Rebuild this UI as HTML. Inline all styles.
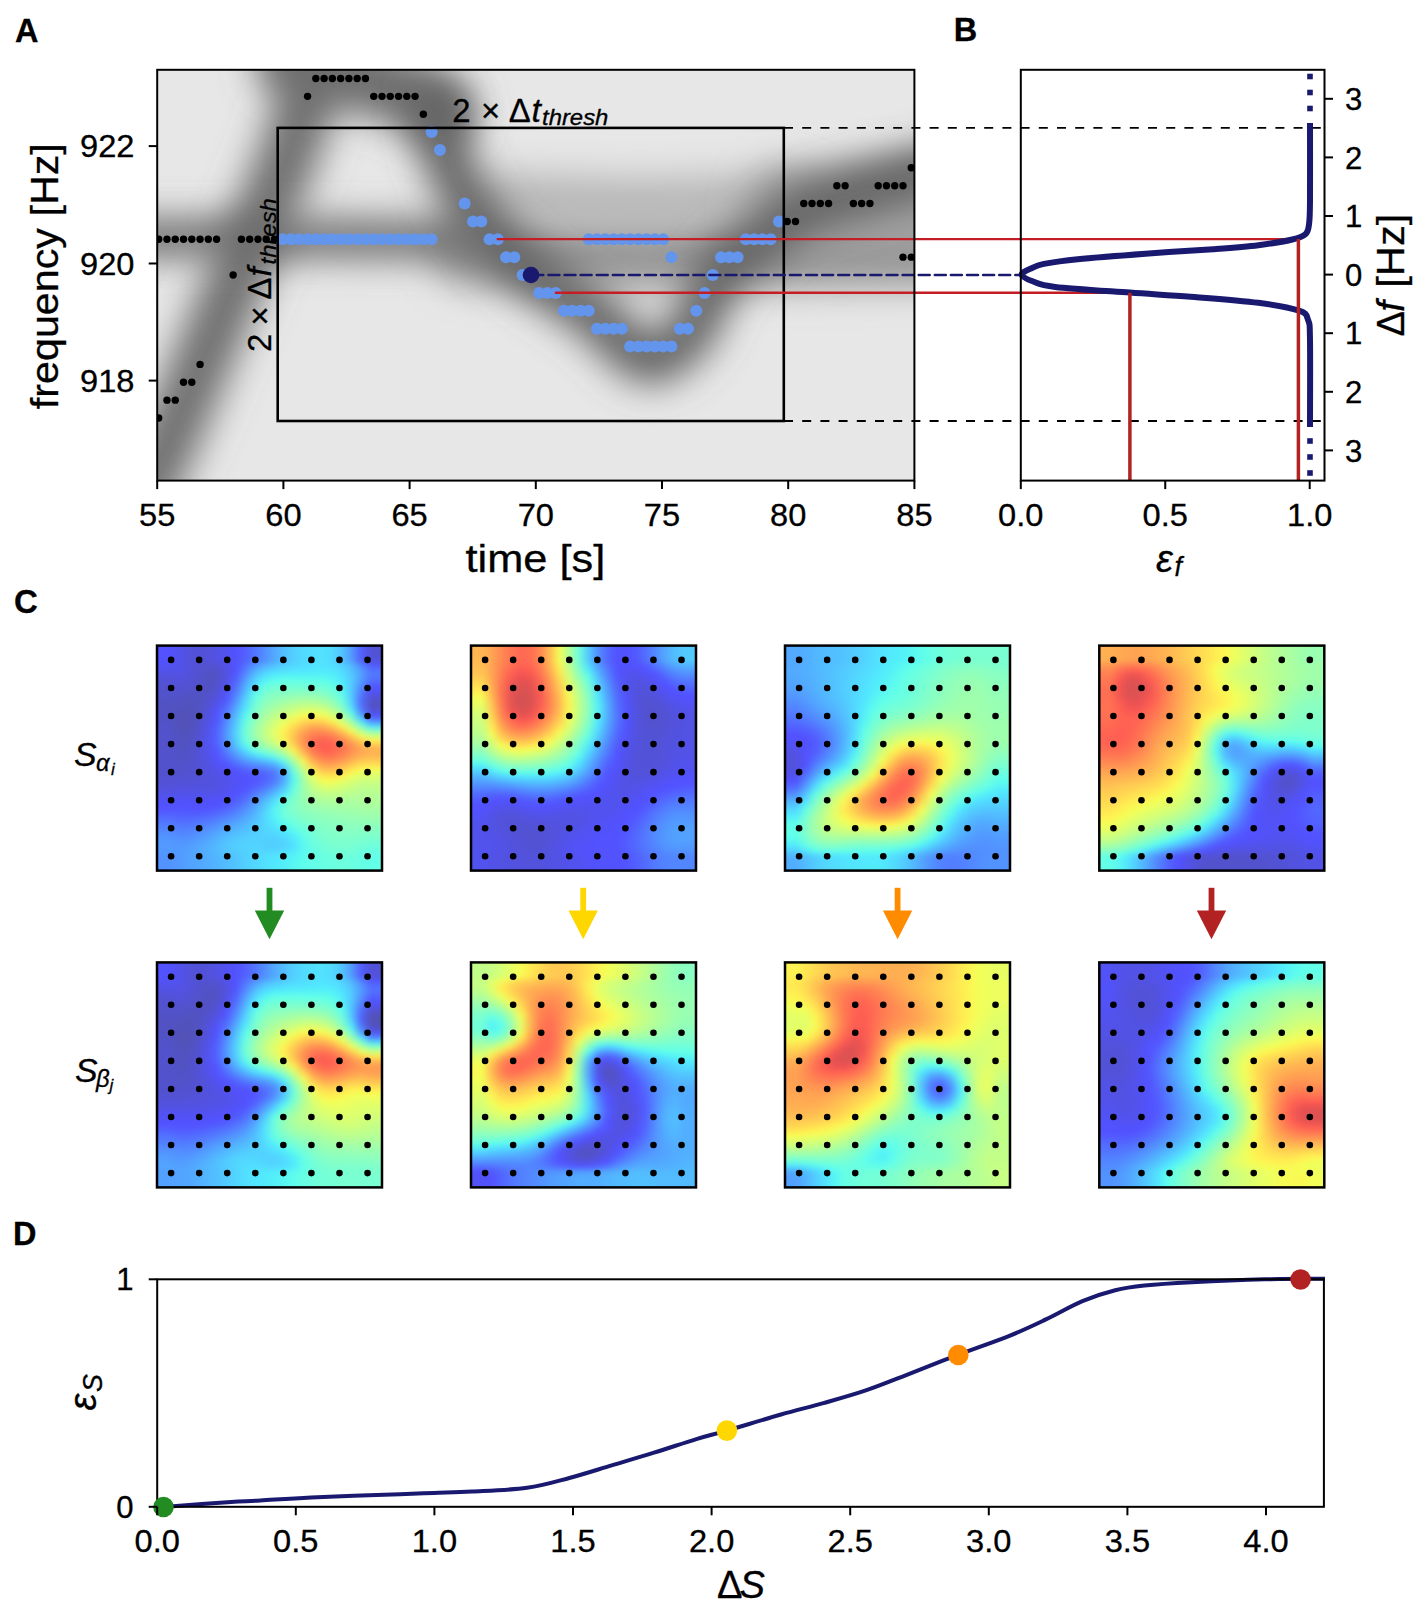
<!DOCTYPE html>
<html><head><meta charset="utf-8"><title>figure</title>
<style>
html,body{margin:0;padding:0;background:#fff;}
#wrap{position:relative;width:1417px;height:1610px;overflow:hidden;background:#fff;}
.hm{position:absolute;overflow:hidden;}
.hmi{position:absolute;filter:blur(2.5px);}
.hmi div{height:5px;}
svg{position:absolute;left:0;top:0;}
text{font-family:"Liberation Sans", sans-serif;stroke:#000;stroke-width:0.3px;}
</style></head><body><div id="wrap">
<div class="hm" style="left:157px;top:645.6px;width:225px;height:225px"><div class="hmi" style="left:-8px;top:-8px;width:241px"><div style="background:linear-gradient(90deg,#5252ff 0%,#5252ff 4%,#5252ff 8%,#5252ef 12%,#5252dd 16%,#5252d7 20%,#5252da 24%,#5252e3 28%,#5252f2 32%,#5252ff 36%,#5260ff 40%,#5275ff 44%,#528eff 48%,#52a9ff 52%,#52bfff 56%,#52cfff 60%,#52daff 64%,#52dfff 68%,#52e2ff 72%,#52daff 76%,#52c4ff 80%,#529bff 84%,#525dff 88%,#5252d7 92%,#5252d7 96%,#5252d7 100%)"></div><div style="background:linear-gradient(90deg,#5252ff 0%,#5252ff 4%,#5252ff 8%,#5252ef 12%,#5252dd 16%,#5252d7 20%,#5252da 24%,#5252e3 28%,#5252f2 32%,#5252ff 36%,#5260ff 40%,#5275ff 44%,#528eff 48%,#52a9ff 52%,#52bfff 56%,#52cfff 60%,#52daff 64%,#52dfff 68%,#52e2ff 72%,#52daff 76%,#52c4ff 80%,#529bff 84%,#525dff 88%,#5252d7 92%,#5252d7 96%,#5252d7 100%)"></div><div style="background:linear-gradient(90deg,#5252ff 0%,#5252ff 4%,#5252ff 8%,#5252ef 12%,#5252dd 16%,#5252d7 20%,#5252da 24%,#5252e3 28%,#5252f2 32%,#5252ff 36%,#5260ff 40%,#5275ff 44%,#528eff 48%,#52a9ff 52%,#52bfff 56%,#52cfff 60%,#52daff 64%,#52dfff 68%,#52e2ff 72%,#52daff 76%,#52c4ff 80%,#529bff 84%,#525dff 88%,#5252d7 92%,#5252d7 96%,#5252d7 100%)"></div><div style="background:linear-gradient(90deg,#5252ff 0%,#5252ff 4%,#5252ff 8%,#5252ef 12%,#5252dd 16%,#5252d7 20%,#5252da 24%,#5252e3 28%,#5252f2 32%,#5252ff 36%,#5260ff 40%,#5275ff 44%,#528eff 48%,#52a9ff 52%,#52bfff 56%,#52cfff 60%,#52daff 64%,#52dfff 68%,#52e2ff 72%,#52daff 76%,#52c4ff 80%,#529bff 84%,#525dff 88%,#5252d7 92%,#5252d7 96%,#5252d7 100%)"></div><div style="background:linear-gradient(90deg,#5252ff 0%,#5252ff 4%,#5252ff 8%,#5252ef 12%,#5252dd 16%,#5252d7 20%,#5252da 24%,#5252e3 28%,#5252f2 32%,#5252ff 36%,#5262ff 40%,#5278ff 44%,#5290ff 48%,#52a9ff 52%,#52bfff 56%,#52cfff 60%,#52daff 64%,#52dfff 68%,#52e2ff 72%,#52daff 76%,#52c4ff 80%,#529eff 84%,#5260ff 88%,#5252dd 92%,#5252dd 96%,#5252dd 100%)"></div><div style="background:linear-gradient(90deg,#5252f6 0%,#5252f6 4%,#5252f6 8%,#5252ec 12%,#5252e0 16%,#5252d4 20%,#5252d0 24%,#5252d4 28%,#5252e6 32%,#5252ff 36%,#5270ff 40%,#5293ff 44%,#52aeff 48%,#52c1ff 52%,#52cfff 56%,#52d7ff 60%,#52ddff 64%,#52e2ff 68%,#52e5ff 72%,#52dfff 76%,#52d2ff 80%,#52b7ff 84%,#5286ff 88%,#525aff 92%,#525aff 96%,#525aff 100%)"></div><div style="background:linear-gradient(90deg,#5252e9 0%,#5252e9 4%,#5252e9 8%,#5252e9 12%,#5252e0 16%,#5252d0 20%,#5252ca 24%,#5252ca 28%,#5252e0 32%,#5252ff 36%,#5280ff 40%,#52acff 44%,#52caff 48%,#52daff 52%,#52dfff 56%,#52e5ff 60%,#52e5ff 64%,#52e8fe 68%,#52eafc 72%,#52e8fe 76%,#52ddff 80%,#52c4ff 84%,#529bff 88%,#5273ff 92%,#5273ff 96%,#5273ff 100%)"></div><div style="background:linear-gradient(90deg,#5252e0 0%,#5252e0 4%,#5252e0 8%,#5252e3 12%,#5252dd 16%,#5252d0 20%,#5252c4 24%,#5252c7 28%,#5252e0 32%,#5257ff 36%,#528eff 40%,#52c1ff 44%,#52dfff 48%,#52edfa 52%,#55f2f6 56%,#55f2f6 60%,#55f2f6 64%,#55f2f6 68%,#55f2f6 72%,#53f0f8 76%,#52e2ff 80%,#52caff 84%,#52a1ff 88%,#5278ff 92%,#5278ff 96%,#5278ff 100%)"></div><div style="background:linear-gradient(90deg,#5252d7 0%,#5252d7 4%,#5252d7 8%,#5252dd 12%,#5252d7 16%,#5252cd 20%,#5252c4 24%,#5252c7 28%,#5252e3 32%,#5260ff 36%,#529eff 40%,#52d4ff 44%,#55f2f6 48%,#60ffeb 52%,#63ffe8 56%,#63ffe8 60%,#63ffe8 64%,#60ffeb 68%,#60ffeb 72%,#5af8f1 76%,#52eafc 80%,#52ccff 84%,#529bff 88%,#526dff 92%,#526dff 96%,#526dff 100%)"></div><div style="background:linear-gradient(90deg,#5252d0 0%,#5252d0 4%,#5252d0 8%,#5252d7 12%,#5252d4 16%,#5252ca 20%,#5252c4 24%,#5252ca 28%,#5252e9 32%,#526aff 36%,#52acff 40%,#52e5ff 44%,#65ffe6 48%,#6effdd 52%,#72ffd9 56%,#72ffd9 60%,#70ffdb 64%,#70ffdb 68%,#6effdd 72%,#65ffe6 76%,#53f0f8 80%,#52caff 84%,#5290ff 88%,#525aff 92%,#525aff 96%,#525aff 100%)"></div><div style="background:linear-gradient(90deg,#5252cd 0%,#5252cd 4%,#5252cd 8%,#5252d0 12%,#5252cd 16%,#5252c7 20%,#5252c4 24%,#5252d4 28%,#5252f6 32%,#5275ff 36%,#52b9ff 40%,#55f2f6 44%,#72ffd9 48%,#7dffce 52%,#7fffcc 56%,#81ffca 60%,#81ffca 64%,#81ffca 68%,#7dffce 72%,#70ffdb 76%,#5af8f1 80%,#52caff 84%,#5280ff 88%,#5252f9 92%,#5252f9 96%,#5252f9 100%)"></div><div style="background:linear-gradient(90deg,#5252ca 0%,#5252ca 4%,#5252ca 8%,#5252ca 12%,#5252c7 16%,#5252c4 20%,#5252c7 24%,#5252da 28%,#5252ff 32%,#5283ff 36%,#52c7ff 40%,#60ffeb 44%,#7dffce 48%,#8affc1 52%,#8effbd 56%,#93ffb8 60%,#95ffb6 64%,#95ffb6 68%,#8effbd 72%,#7fffcc 76%,#63ffe8 80%,#52caff 84%,#5275ff 88%,#5252e0 92%,#5252e0 96%,#5252e0 100%)"></div><div style="background:linear-gradient(90deg,#5252c7 0%,#5252c7 4%,#5252c7 8%,#5252c4 12%,#5252c1 16%,#5252c1 20%,#5252cd 24%,#5252e6 28%,#5257ff 32%,#5290ff 36%,#52d4ff 40%,#6bffe0 44%,#88ffc3 48%,#95ffb6 52%,#9effad 56%,#a7ffa4 60%,#abffa0 64%,#abffa0 68%,#a4ffa7 72%,#91ffba 76%,#6effdd 80%,#52cfff 84%,#526dff 88%,#5252cd 92%,#5252cd 96%,#5252cd 100%)"></div><div style="background:linear-gradient(90deg,#5252c4 0%,#5252c4 4%,#5252c4 8%,#5252c1 12%,#5252be 16%,#5252c1 20%,#5252d0 24%,#5252ef 28%,#5265ff 32%,#529eff 36%,#52dfff 40%,#74ffd7 44%,#91ffba 48%,#a2ffa9 52%,#afff9c 56%,#baff91 60%,#c3ff88 64%,#c3ff88 68%,#bdff8e 72%,#a7ffa4 76%,#7fffcc 80%,#52daff 84%,#5270ff 88%,#5252c7 92%,#5252c7 96%,#5252c7 100%)"></div><div style="background:linear-gradient(90deg,#5252c4 0%,#5252c4 4%,#5252c4 8%,#5252be 12%,#5252b8 16%,#5252c1 20%,#5252d7 24%,#5252fc 28%,#5270ff 32%,#52acff 36%,#52edfa 40%,#7dffce 44%,#9cffaf 48%,#afff9c 52%,#bfff8c 56%,#ceff7d 60%,#dbff70 64%,#e0ff6b 68%,#d7ff74 72%,#bfff8c 76%,#95ffb6 80%,#53f0f8 84%,#5280ff 88%,#5252d7 92%,#5252d7 96%,#5252d7 100%)"></div><div style="background:linear-gradient(90deg,#5252c7 0%,#5252c7 4%,#5252c7 8%,#5252bb 12%,#5252b8 16%,#5252c1 20%,#5252dd 24%,#5252ff 28%,#527dff 32%,#52b9ff 36%,#5af8f1 40%,#88ffc3 44%,#a7ffa4 48%,#bfff8c 52%,#d0ff7b 56%,#e4ff67 60%,#f6fd55 64%,#fcf552 68%,#f3ff58 72%,#dbff70 76%,#b2ff99 80%,#70ffdb 84%,#52a4ff 88%,#5252ff 92%,#5252ff 96%,#5252ff 100%)"></div><div style="background:linear-gradient(90deg,#5252c7 0%,#5252c7 4%,#5252c7 8%,#5252bb 12%,#5252b8 16%,#5252c4 20%,#5252e0 24%,#5255ff 28%,#5286ff 32%,#52c4ff 36%,#63ffe8 40%,#91ffba 44%,#b2ff99 48%,#ccff7f 52%,#e4ff67 56%,#fcf552 60%,#ffdf52 64%,#ffd552 68%,#ffda52 72%,#fcf552 76%,#d2ff79 80%,#95ffb6 84%,#52daff 88%,#5283ff 92%,#5283ff 96%,#5283ff 100%)"></div><div style="background:linear-gradient(90deg,#5252ca 0%,#5252ca 4%,#5252ca 8%,#5252bb 12%,#5252b8 16%,#5252c7 20%,#5252e6 24%,#525aff 28%,#528eff 32%,#52ccff 36%,#6bffe0 40%,#99ffb2 44%,#bdff8e 48%,#d9ff72 52%,#f3ff58 56%,#ffdf52 60%,#ffc352 64%,#ffb152 68%,#ffb452 72%,#ffcd52 76%,#faf852 80%,#c3ff88 84%,#79ffd2 88%,#52d2ff 92%,#52d2ff 96%,#52d2ff 100%)"></div><div style="background:linear-gradient(90deg,#5252ca 0%,#5252ca 4%,#5252ca 8%,#5252be 12%,#5252bb 16%,#5252ca 20%,#5252e9 24%,#5260ff 28%,#5293ff 32%,#52d2ff 36%,#70ffdb 40%,#9effad 44%,#c3ff88 48%,#e0ff6b 52%,#fef352 56%,#ffcd52 60%,#ffaa52 64%,#ff9352 68%,#ff9352 72%,#ffa552 76%,#ffcb52 80%,#f1ff5a 84%,#b4ff97 88%,#84ffc8 92%,#84ffc8 96%,#84ffc8 100%)"></div><div style="background:linear-gradient(90deg,#5252cd 0%,#5252cd 4%,#5252cd 8%,#5252c1 12%,#5252be 16%,#5252cd 20%,#5252ec 24%,#5260ff 28%,#5296ff 32%,#52d2ff 36%,#70ffdb 40%,#9effad 44%,#c1ff8a 48%,#e2ff69 52%,#ffee52 56%,#ffc352 60%,#ff9852 64%,#ff7d52 68%,#ff7552 72%,#ff8452 76%,#ffa252 80%,#ffd052 84%,#edff5e 88%,#c8ff84 92%,#c8ff84 96%,#c8ff84 100%)"></div><div style="background:linear-gradient(90deg,#5252cd 0%,#5252cd 4%,#5252cd 8%,#5252c1 12%,#5252c1 16%,#5252d0 20%,#5252ef 24%,#5260ff 28%,#5293ff 32%,#52ccff 36%,#69ffe2 40%,#95ffb6 44%,#b8ff93 48%,#d7ff74 52%,#faf852 56%,#ffc652 60%,#ff9352 64%,#ff6d52 68%,#ff6352 72%,#ff6b52 76%,#ff8452 80%,#ffaa52 84%,#ffd252 88%,#fff052 92%,#fff052 96%,#fff052 100%)"></div><div style="background:linear-gradient(90deg,#5252cd 0%,#5252cd 4%,#5252cd 8%,#5252c4 12%,#5252c4 16%,#5252d0 20%,#5252ef 24%,#525dff 28%,#528bff 32%,#52c1ff 36%,#5af8f1 40%,#84ffc8 44%,#a2ffa9 48%,#bfff8c 52%,#e4ff67 56%,#ffd552 60%,#ff9852 64%,#ff6d52 68%,#fc5c52 72%,#ff6152 76%,#ff7552 80%,#ff9152 84%,#ffb152 88%,#ffc352 92%,#ffc352 96%,#ffc352 100%)"></div><div style="background:linear-gradient(90deg,#5252cd 0%,#5252cd 4%,#5252cd 8%,#5252c7 12%,#5252c7 16%,#5252d4 20%,#5252ec 24%,#5255ff 28%,#527dff 32%,#52aeff 36%,#52ddff 40%,#67ffe4 44%,#81ffca 48%,#9cffaf 52%,#c3ff88 56%,#fcf552 60%,#ffaf52 64%,#ff7852 68%,#ff6152 72%,#ff6352 76%,#ff7552 80%,#ff8e52 84%,#ffa752 88%,#ffb152 92%,#ffb152 96%,#ffb152 100%)"></div><div style="background:linear-gradient(90deg,#5252cd 0%,#5252cd 4%,#5252cd 8%,#5252c7 12%,#5252c7 16%,#5252d4 20%,#5252e9 24%,#5252ff 28%,#5270ff 32%,#5296ff 36%,#52bcff 40%,#52ddff 44%,#58f5f3 48%,#70ffdb 52%,#97ffb4 56%,#d7ff74 60%,#ffcd52 64%,#ff8e52 68%,#ff7252 72%,#ff7252 76%,#ff8252 80%,#ff9b52 84%,#ffaf52 88%,#ffb652 92%,#ffb652 96%,#ffb652 100%)"></div><div style="background:linear-gradient(90deg,#5252cd 0%,#5252cd 4%,#5252cd 8%,#5252c7 12%,#5252ca 16%,#5252d4 20%,#5252e3 24%,#5252fc 28%,#5260ff 32%,#527dff 36%,#529bff 40%,#52b1ff 44%,#52c1ff 48%,#52daff 52%,#69ffe2 56%,#afff9c 60%,#fef352 64%,#ffac52 68%,#ff8c52 72%,#ff8952 76%,#ff9852 80%,#ffb152 84%,#ffc652 88%,#ffcb52 92%,#ffcb52 96%,#ffcb52 100%)"></div><div style="background:linear-gradient(90deg,#5252cd 0%,#5252cd 4%,#5252cd 8%,#5252ca 12%,#5252cd 16%,#5252d4 20%,#5252e0 24%,#5252f2 28%,#5252ff 32%,#5265ff 36%,#527bff 40%,#5288ff 44%,#5293ff 48%,#52a6ff 52%,#52daff 56%,#8affc1 60%,#ddff6e 64%,#ffcb52 68%,#ffa752 72%,#ffa552 76%,#ffb452 80%,#ffcd52 84%,#ffe152 88%,#ffe452 92%,#ffe452 96%,#ffe452 100%)"></div><div style="background:linear-gradient(90deg,#5252cd 0%,#5252cd 4%,#5252cd 8%,#5252cd 12%,#5252cd 16%,#5252d4 20%,#5252dd 24%,#5252e9 28%,#5252f9 32%,#5252ff 36%,#5260ff 40%,#526aff 44%,#5270ff 48%,#5283ff 52%,#52b4ff 56%,#6effdd 60%,#c1ff8a 64%,#ffeb52 68%,#ffc652 72%,#ffc352 76%,#ffd252 80%,#ffeb52 84%,#f6fd55 88%,#f1ff5a 92%,#f1ff5a 96%,#f1ff5a 100%)"></div><div style="background:linear-gradient(90deg,#5252d0 0%,#5252d0 4%,#5252d0 8%,#5252d0 12%,#5252d4 16%,#5252d7 20%,#5252dd 24%,#5252e3 28%,#5252ef 32%,#5252fc 36%,#5252ff 40%,#525aff 44%,#5260ff 48%,#5273ff 52%,#52a4ff 56%,#5efded 60%,#adff9e 64%,#edff5e 68%,#ffe452 72%,#ffdf52 76%,#ffee52 80%,#efff5c 84%,#e0ff6b 88%,#ddff6e 92%,#ddff6e 96%,#ddff6e 100%)"></div><div style="background:linear-gradient(90deg,#5252d4 0%,#5252d4 4%,#5252d4 8%,#5252d7 12%,#5252d7 16%,#5252da 20%,#5252dd 24%,#5252e3 28%,#5252e9 32%,#5252f6 36%,#5252ff 40%,#5255ff 44%,#5262ff 48%,#5278ff 52%,#52a9ff 56%,#5af8f1 60%,#a2ffa9 64%,#d9ff72 68%,#f6fd55 72%,#f8fa53 76%,#edff5e 80%,#dbff70 84%,#d0ff7b 88%,#ceff7d 92%,#ceff7d 96%,#ceff7d 100%)"></div><div style="background:linear-gradient(90deg,#5252da 0%,#5252da 4%,#5252da 8%,#5252dd 12%,#5252dd 16%,#5252dd 20%,#5252e0 24%,#5252e3 28%,#5252e9 32%,#5252f6 36%,#5252ff 40%,#525dff 44%,#5270ff 48%,#528bff 52%,#52bcff 56%,#60ffeb 60%,#9cffaf 64%,#caff81 68%,#e0ff6b 72%,#e2ff69 76%,#d9ff72 80%,#ceff7d 84%,#c3ff88 88%,#c3ff88 92%,#c3ff88 96%,#c3ff88 100%)"></div><div style="background:linear-gradient(90deg,#5252e0 0%,#5252e0 4%,#5252e0 8%,#5252e3 12%,#5252e6 16%,#5252e3 20%,#5252e3 24%,#5252e6 28%,#5252ef 32%,#5252fc 36%,#5257ff 40%,#526dff 44%,#5286ff 48%,#52a9ff 52%,#52d4ff 56%,#6bffe0 60%,#99ffb2 64%,#bdff8e 68%,#ceff7d 72%,#d0ff7b 76%,#caff81 80%,#c1ff8a 84%,#baff91 88%,#baff91 92%,#baff91 96%,#baff91 100%)"></div><div style="background:linear-gradient(90deg,#5252ec 0%,#5252ec 4%,#5252ec 8%,#5252ec 12%,#5252ec 16%,#5252ec 20%,#5252ec 24%,#5252ef 28%,#5252f9 32%,#5252ff 36%,#5265ff 40%,#5280ff 44%,#52a1ff 48%,#52c4ff 52%,#53f0f8 56%,#76ffd5 60%,#99ffb2 64%,#b2ff99 68%,#bdff8e 72%,#bfff8c 76%,#bdff8e 80%,#b6ff95 84%,#b4ff97 88%,#b6ff95 92%,#b6ff95 96%,#b6ff95 100%)"></div><div style="background:linear-gradient(90deg,#5252f6 0%,#5252f6 4%,#5252f6 8%,#5252f9 12%,#5252f9 16%,#5252f6 20%,#5252f6 24%,#5252fc 28%,#5252ff 32%,#525dff 36%,#5273ff 40%,#5293ff 44%,#52b7ff 48%,#52dfff 52%,#65ffe6 56%,#81ffca 60%,#97ffb4 64%,#a7ffa4 68%,#afff9c 72%,#b2ff99 76%,#afff9c 80%,#adff9e 84%,#afff9c 88%,#b2ff99 92%,#b2ff99 96%,#b2ff99 100%)"></div><div style="background:linear-gradient(90deg,#5252ff 0%,#5252ff 4%,#5252ff 8%,#5252ff 12%,#5252ff 16%,#5252ff 20%,#5252ff 24%,#5252ff 28%,#525aff 32%,#526aff 36%,#5283ff 40%,#52a4ff 44%,#52c7ff 48%,#52edfa 52%,#6effdd 56%,#84ffc8 60%,#93ffb8 64%,#9effad 68%,#a4ffa7 72%,#a7ffa4 76%,#a7ffa4 80%,#a7ffa4 84%,#a9ffa2 88%,#abffa0 92%,#abffa0 96%,#abffa0 100%)"></div><div style="background:linear-gradient(90deg,#5257ff 0%,#5257ff 4%,#5257ff 8%,#5257ff 12%,#5255ff 16%,#5255ff 20%,#5257ff 24%,#5260ff 28%,#526aff 32%,#527bff 36%,#5293ff 40%,#52aeff 44%,#52d2ff 48%,#58f5f3 52%,#70ffdb 56%,#81ffca 60%,#8cffbf 64%,#95ffb6 68%,#99ffb2 72%,#9cffaf 76%,#9effad 80%,#a0ffab 84%,#a2ffa9 88%,#a4ffa7 92%,#a4ffa7 96%,#a4ffa7 100%)"></div><div style="background:linear-gradient(90deg,#5265ff 0%,#5265ff 4%,#5265ff 8%,#5262ff 12%,#5262ff 16%,#5262ff 20%,#5268ff 24%,#5270ff 28%,#527bff 32%,#528bff 36%,#52a1ff 40%,#52b9ff 44%,#52d7ff 48%,#55f2f6 52%,#6bffe0 56%,#7bffd0 60%,#86ffc5 64%,#8cffbf 68%,#91ffba 72%,#95ffb6 76%,#97ffb4 80%,#99ffb2 84%,#9cffaf 88%,#9effad 92%,#9effad 96%,#9effad 100%)"></div><div style="background:linear-gradient(90deg,#5273ff 0%,#5273ff 4%,#5273ff 8%,#526dff 12%,#526dff 16%,#5270ff 20%,#5275ff 24%,#5280ff 28%,#528eff 32%,#529bff 36%,#52aeff 40%,#52c1ff 44%,#52d7ff 48%,#52edfa 52%,#63ffe8 56%,#72ffd9 60%,#7dffce 64%,#86ffc5 68%,#8affc1 72%,#8effbd 76%,#91ffba 80%,#93ffb8 84%,#95ffb6 88%,#95ffb6 92%,#95ffb6 96%,#95ffb6 100%)"></div><div style="background:linear-gradient(90deg,#527dff 0%,#527dff 4%,#527dff 8%,#5278ff 12%,#5278ff 16%,#527bff 20%,#5286ff 24%,#5290ff 28%,#529eff 32%,#52acff 36%,#52b9ff 40%,#52c7ff 44%,#52d7ff 48%,#52e5ff 52%,#58f5f3 56%,#67ffe4 60%,#74ffd7 64%,#7fffcc 68%,#86ffc5 72%,#8affc1 76%,#8cffbf 80%,#8effbd 84%,#8effbd 88%,#8effbd 92%,#8effbd 96%,#8effbd 100%)"></div><div style="background:linear-gradient(90deg,#5288ff 0%,#5288ff 4%,#5288ff 8%,#5283ff 12%,#5283ff 16%,#5288ff 20%,#5293ff 24%,#529eff 28%,#52acff 32%,#52b9ff 36%,#52c1ff 40%,#52ccff 44%,#52d4ff 48%,#52ddff 52%,#52e8fe 56%,#5cfbef 60%,#6bffe0 64%,#79ffd2 68%,#81ffca 72%,#86ffc5 76%,#88ffc3 80%,#88ffc3 84%,#88ffc3 88%,#86ffc5 92%,#86ffc5 96%,#86ffc5 100%)"></div><div style="background:linear-gradient(90deg,#5293ff 0%,#5293ff 4%,#5293ff 8%,#528bff 12%,#528bff 16%,#5293ff 20%,#529eff 24%,#52acff 28%,#52b9ff 32%,#52c4ff 36%,#52caff 40%,#52cfff 44%,#52d2ff 48%,#52d4ff 52%,#52ddff 56%,#52edfa 60%,#63ffe8 64%,#72ffd9 68%,#7dffce 72%,#81ffca 76%,#84ffc8 80%,#84ffc8 84%,#81ffca 88%,#7fffcc 92%,#7fffcc 96%,#7fffcc 100%)"></div><div style="background:linear-gradient(90deg,#5299ff 0%,#5299ff 4%,#5299ff 8%,#5293ff 12%,#5293ff 16%,#529bff 20%,#52a6ff 24%,#52b4ff 28%,#52c1ff 32%,#52caff 36%,#52cfff 40%,#52d2ff 44%,#52cfff 48%,#52cfff 52%,#52d4ff 56%,#52e5ff 60%,#5cfbef 64%,#6effdd 68%,#79ffd2 72%,#7dffce 76%,#7fffcc 80%,#7dffce 84%,#7bffd0 88%,#76ffd5 92%,#76ffd5 96%,#76ffd5 100%)"></div><div style="background:linear-gradient(90deg,#529bff 0%,#529bff 4%,#529bff 8%,#5299ff 12%,#529bff 16%,#52a4ff 20%,#52aeff 24%,#52b9ff 28%,#52c7ff 32%,#52cfff 36%,#52d2ff 40%,#52d4ff 44%,#52cfff 48%,#52cfff 52%,#52d2ff 56%,#52e2ff 60%,#5af8f1 64%,#69ffe2 68%,#74ffd7 72%,#79ffd2 76%,#7bffd0 80%,#79ffd2 84%,#74ffd7 88%,#70ffdb 92%,#70ffdb 96%,#70ffdb 100%)"></div><div style="background:linear-gradient(90deg,#5299ff 0%,#5299ff 4%,#5299ff 8%,#529bff 12%,#529eff 16%,#52a6ff 20%,#52b1ff 24%,#52b9ff 28%,#52c4ff 32%,#52ccff 36%,#52d2ff 40%,#52d4ff 44%,#52d4ff 48%,#52d4ff 52%,#52daff 56%,#52e5ff 60%,#5af8f1 64%,#65ffe6 68%,#70ffdb 72%,#74ffd7 76%,#76ffd5 80%,#74ffd7 84%,#6effdd 88%,#69ffe2 92%,#69ffe2 96%,#69ffe2 100%)"></div><div style="background:linear-gradient(90deg,#5293ff 0%,#5293ff 4%,#5293ff 8%,#5299ff 12%,#52a1ff 16%,#52a6ff 20%,#52aeff 24%,#52b7ff 28%,#52bfff 32%,#52c7ff 36%,#52cfff 40%,#52d7ff 44%,#52ddff 48%,#52e2ff 52%,#52eafc 56%,#55f2f6 60%,#5cfbef 64%,#63ffe8 68%,#69ffe2 72%,#6effdd 76%,#70ffdb 80%,#6effdd 84%,#69ffe2 88%,#63ffe8 92%,#63ffe8 96%,#63ffe8 100%)"></div><div style="background:linear-gradient(90deg,#5293ff 0%,#5293ff 4%,#5293ff 8%,#5299ff 12%,#52a1ff 16%,#52a6ff 20%,#52acff 24%,#52b4ff 28%,#52bcff 32%,#52c4ff 36%,#52cfff 40%,#52d7ff 44%,#52dfff 48%,#52e8fe 52%,#52edfa 56%,#58f5f3 60%,#5efded 64%,#63ffe8 68%,#67ffe4 72%,#6bffe0 76%,#6effdd 80%,#6bffe0 84%,#67ffe4 88%,#63ffe8 92%,#63ffe8 96%,#63ffe8 100%)"></div><div style="background:linear-gradient(90deg,#5293ff 0%,#5293ff 4%,#5293ff 8%,#5299ff 12%,#52a1ff 16%,#52a6ff 20%,#52acff 24%,#52b4ff 28%,#52bcff 32%,#52c4ff 36%,#52cfff 40%,#52d7ff 44%,#52dfff 48%,#52e8fe 52%,#52edfa 56%,#58f5f3 60%,#5efded 64%,#63ffe8 68%,#67ffe4 72%,#6bffe0 76%,#6effdd 80%,#6bffe0 84%,#67ffe4 88%,#63ffe8 92%,#63ffe8 96%,#63ffe8 100%)"></div><div style="background:linear-gradient(90deg,#5293ff 0%,#5293ff 4%,#5293ff 8%,#5299ff 12%,#52a1ff 16%,#52a6ff 20%,#52acff 24%,#52b4ff 28%,#52bcff 32%,#52c4ff 36%,#52cfff 40%,#52d7ff 44%,#52dfff 48%,#52e8fe 52%,#52edfa 56%,#58f5f3 60%,#5efded 64%,#63ffe8 68%,#67ffe4 72%,#6bffe0 76%,#6effdd 80%,#6bffe0 84%,#67ffe4 88%,#63ffe8 92%,#63ffe8 96%,#63ffe8 100%)"></div><div style="background:linear-gradient(90deg,#5293ff 0%,#5293ff 4%,#5293ff 8%,#5299ff 12%,#52a1ff 16%,#52a6ff 20%,#52acff 24%,#52b4ff 28%,#52bcff 32%,#52c4ff 36%,#52cfff 40%,#52d7ff 44%,#52dfff 48%,#52e8fe 52%,#52edfa 56%,#58f5f3 60%,#5efded 64%,#63ffe8 68%,#67ffe4 72%,#6bffe0 76%,#6effdd 80%,#6bffe0 84%,#67ffe4 88%,#63ffe8 92%,#63ffe8 96%,#63ffe8 100%)"></div><div style="background:linear-gradient(90deg,#5293ff 0%,#5293ff 4%,#5293ff 8%,#5299ff 12%,#52a1ff 16%,#52a6ff 20%,#52acff 24%,#52b4ff 28%,#52bcff 32%,#52c4ff 36%,#52cfff 40%,#52d7ff 44%,#52dfff 48%,#52e8fe 52%,#52edfa 56%,#58f5f3 60%,#5efded 64%,#63ffe8 68%,#67ffe4 72%,#6bffe0 76%,#6effdd 80%,#6bffe0 84%,#67ffe4 88%,#63ffe8 92%,#63ffe8 96%,#63ffe8 100%)"></div></div></div>
<div class="hm" style="left:471px;top:645.6px;width:225px;height:225px"><div class="hmi" style="left:-8px;top:-8px;width:241px"><div style="background:linear-gradient(90deg,#ffb652 0%,#ffb652 4%,#ffb652 8%,#ffa552 12%,#ff8952 16%,#ff7552 20%,#ff6852 24%,#ff6d52 28%,#ff8752 32%,#ffb952 36%,#f6fd55 40%,#b2ff99 44%,#70ffdb 48%,#52caff 52%,#5290ff 56%,#5268ff 60%,#5252ff 64%,#5252ff 68%,#525aff 72%,#5270ff 76%,#528bff 80%,#52a9ff 84%,#52bfff 88%,#52caff 92%,#52caff 96%,#52caff 100%)"></div><div style="background:linear-gradient(90deg,#ffb652 0%,#ffb652 4%,#ffb652 8%,#ffa552 12%,#ff8952 16%,#ff7552 20%,#ff6852 24%,#ff6d52 28%,#ff8752 32%,#ffb952 36%,#f6fd55 40%,#b2ff99 44%,#70ffdb 48%,#52caff 52%,#5290ff 56%,#5268ff 60%,#5252ff 64%,#5252ff 68%,#525aff 72%,#5270ff 76%,#528bff 80%,#52a9ff 84%,#52bfff 88%,#52caff 92%,#52caff 96%,#52caff 100%)"></div><div style="background:linear-gradient(90deg,#ffb652 0%,#ffb652 4%,#ffb652 8%,#ffa552 12%,#ff8952 16%,#ff7552 20%,#ff6852 24%,#ff6d52 28%,#ff8752 32%,#ffb952 36%,#f6fd55 40%,#b2ff99 44%,#70ffdb 48%,#52caff 52%,#5290ff 56%,#5268ff 60%,#5252ff 64%,#5252ff 68%,#525aff 72%,#5270ff 76%,#528bff 80%,#52a9ff 84%,#52bfff 88%,#52caff 92%,#52caff 96%,#52caff 100%)"></div><div style="background:linear-gradient(90deg,#ffb652 0%,#ffb652 4%,#ffb652 8%,#ffa552 12%,#ff8952 16%,#ff7552 20%,#ff6852 24%,#ff6d52 28%,#ff8752 32%,#ffb952 36%,#f6fd55 40%,#b2ff99 44%,#70ffdb 48%,#52caff 52%,#5290ff 56%,#5268ff 60%,#5252ff 64%,#5252ff 68%,#525aff 72%,#5270ff 76%,#528bff 80%,#52a9ff 84%,#52bfff 88%,#52caff 92%,#52caff 96%,#52caff 100%)"></div><div style="background:linear-gradient(90deg,#ffb952 0%,#ffb952 4%,#ffb952 8%,#ffa552 12%,#ff8952 16%,#ff7252 20%,#ff6852 24%,#ff6d52 28%,#ff8752 32%,#ffb952 36%,#f6fd55 40%,#b4ff97 44%,#72ffd9 48%,#52ccff 52%,#5290ff 56%,#5268ff 60%,#5252ff 64%,#5252ff 68%,#5257ff 72%,#526dff 76%,#528bff 80%,#52a6ff 84%,#52bfff 88%,#52caff 92%,#52caff 96%,#52caff 100%)"></div><div style="background:linear-gradient(90deg,#ffbc52 0%,#ffbc52 4%,#ffbc52 8%,#ffa252 12%,#ff8452 16%,#ff6d52 20%,#ff6152 24%,#ff6652 28%,#ff7f52 32%,#ffb152 36%,#fef352 40%,#bdff8e 44%,#7dffce 48%,#52ddff 52%,#52a1ff 56%,#5270ff 60%,#5252ff 64%,#5252fc 68%,#5252ff 72%,#525aff 76%,#5275ff 80%,#5290ff 84%,#52a9ff 88%,#52b1ff 92%,#52b1ff 96%,#52b1ff 100%)"></div><div style="background:linear-gradient(90deg,#ffc152 0%,#ffc152 4%,#ffc152 8%,#ffa552 12%,#ff7f52 16%,#ff6652 20%,#f95952 24%,#ff5e52 28%,#ff7852 32%,#ffaa52 36%,#ffeb52 40%,#c8ff84 44%,#8affc1 48%,#52edfa 52%,#52aeff 56%,#527bff 60%,#5252ff 64%,#5252f6 68%,#5252f2 72%,#5252ff 76%,#5262ff 80%,#527dff 84%,#5293ff 88%,#529eff 92%,#529eff 96%,#529eff 100%)"></div><div style="background:linear-gradient(90deg,#ffc852 0%,#ffc852 4%,#ffc852 8%,#ffa552 12%,#ff7d52 16%,#ff5e52 20%,#ef5252 24%,#f65752 28%,#ff7052 32%,#ffa052 36%,#ffe152 40%,#d2ff79 44%,#95ffb6 48%,#5efded 52%,#52bcff 56%,#5283ff 60%,#5255ff 64%,#5252ef 68%,#5252e9 72%,#5252f6 76%,#5252ff 80%,#526aff 84%,#5280ff 88%,#528bff 92%,#528bff 96%,#528bff 100%)"></div><div style="background:linear-gradient(90deg,#ffd252 0%,#ffd252 4%,#ffd252 8%,#ffa752 12%,#ff7852 16%,#f65752 20%,#e65252 24%,#ec5252 28%,#ff6852 32%,#ff9852 36%,#ffd752 40%,#dbff70 44%,#a2ffa9 48%,#69ffe2 52%,#52caff 56%,#528eff 60%,#525aff 64%,#5252ef 68%,#5252e3 72%,#5252e9 76%,#5252fc 80%,#525aff 84%,#5270ff 88%,#5278ff 92%,#5278ff 96%,#5278ff 100%)"></div><div style="background:linear-gradient(90deg,#ffdf52 0%,#ffdf52 4%,#ffdf52 8%,#ffac52 12%,#ff7552 16%,#ef5252 20%,#dd5252 24%,#e35252 28%,#ff6352 32%,#ff9152 36%,#ffcd52 40%,#e6ff65 44%,#adff9e 48%,#74ffd7 52%,#52d4ff 56%,#5296ff 60%,#5260ff 64%,#5252ef 68%,#5252e0 72%,#5252e0 76%,#5252ef 80%,#5252ff 84%,#5260ff 88%,#526aff 92%,#526aff 96%,#526aff 100%)"></div><div style="background:linear-gradient(90deg,#ffeb52 0%,#ffeb52 4%,#ffeb52 8%,#ffb152 12%,#ff7252 16%,#e95252 20%,#d75252 24%,#dd5252 28%,#ff5e52 32%,#ff8c52 36%,#ffc652 40%,#efff5c 44%,#b6ff95 48%,#7dffce 52%,#52dfff 56%,#529eff 60%,#5265ff 64%,#5252f2 68%,#5252dd 72%,#5252da 76%,#5252e6 80%,#5252f9 84%,#5252ff 88%,#525dff 92%,#525dff 96%,#525dff 100%)"></div><div style="background:linear-gradient(90deg,#faf852 0%,#faf852 4%,#faf852 8%,#ffb652 12%,#ff7252 16%,#e65252 20%,#d45252 24%,#da5252 28%,#f95952 32%,#ff8752 36%,#ffbe52 40%,#f6fd55 44%,#bdff8e 48%,#86ffc5 52%,#52e8fe 56%,#52a4ff 60%,#5268ff 64%,#5252f6 68%,#5252dd 72%,#5252d7 76%,#5252dd 80%,#5252ec 84%,#5252ff 88%,#5252ff 92%,#5252ff 96%,#5252ff 100%)"></div><div style="background:linear-gradient(90deg,#efff5c 0%,#efff5c 4%,#efff5c 8%,#ffbe52 12%,#ff7552 16%,#e65252 20%,#d05252 24%,#da5252 28%,#f95952 32%,#ff8452 36%,#ffbc52 40%,#faf852 44%,#c3ff88 48%,#8affc1 52%,#52edfa 56%,#52a9ff 60%,#526dff 64%,#5252f9 68%,#5252dd 72%,#5252d4 76%,#5252d7 80%,#5252e3 84%,#5252f2 88%,#5252fc 92%,#5252fc 96%,#5252fc 100%)"></div><div style="background:linear-gradient(90deg,#e6ff65 0%,#e6ff65 4%,#e6ff65 8%,#ffc652 12%,#ff7852 16%,#e95252 20%,#d45252 24%,#dd5252 28%,#fc5c52 32%,#ff8452 36%,#ffb952 40%,#fcf552 44%,#c5ff86 48%,#8cffbf 52%,#55f2f6 56%,#52aeff 60%,#5270ff 64%,#5252fc 68%,#5252dd 72%,#5252d0 76%,#5252d4 80%,#5252dd 84%,#5252e9 88%,#5252f2 92%,#5252f2 96%,#5252f2 100%)"></div><div style="background:linear-gradient(90deg,#dbff70 0%,#dbff70 4%,#dbff70 8%,#ffcd52 12%,#ff7f52 16%,#ef5252 20%,#da5252 24%,#e35252 28%,#ff6152 32%,#ff8952 36%,#ffbc52 40%,#faf852 44%,#c5ff86 48%,#8cffbf 52%,#55f2f6 56%,#52aeff 60%,#5273ff 64%,#5252ff 68%,#5252e0 72%,#5252d0 76%,#5252d0 80%,#5252d7 84%,#5252e3 88%,#5252ec 92%,#5252ec 96%,#5252ec 100%)"></div><div style="background:linear-gradient(90deg,#d2ff79 0%,#d2ff79 4%,#d2ff79 8%,#ffd552 12%,#ff8752 16%,#fc5c52 20%,#e65252 24%,#ef5252 28%,#ff6b52 32%,#ff9352 36%,#ffc352 40%,#f6fd55 44%,#c1ff8a 48%,#8affc1 52%,#53f0f8 56%,#52aeff 60%,#5275ff 64%,#5252ff 68%,#5252e0 72%,#5252d0 76%,#5252cd 80%,#5252d4 84%,#5252e0 88%,#5252e6 92%,#5252e6 96%,#5252e6 100%)"></div><div style="background:linear-gradient(90deg,#ccff7f 0%,#ccff7f 4%,#ccff7f 8%,#ffdf52 12%,#ff9352 16%,#ff6852 20%,#f95952 24%,#ff6152 28%,#ff7a52 32%,#ffa052 36%,#ffd052 40%,#edff5e 44%,#baff91 48%,#86ffc5 52%,#52eafc 56%,#52acff 60%,#5273ff 64%,#5252ff 68%,#5252e0 72%,#5252d0 76%,#5252d0 80%,#5252d4 84%,#5252dd 88%,#5252e3 92%,#5252e3 96%,#5252e3 100%)"></div><div style="background:linear-gradient(90deg,#c8ff84 0%,#c8ff84 4%,#c8ff84 8%,#ffeb52 12%,#ffa252 16%,#ff7a52 20%,#ff6b52 24%,#ff7252 28%,#ff8c52 32%,#ffb152 36%,#ffdf52 40%,#e2ff69 44%,#b2ff99 48%,#7dffce 52%,#52e5ff 56%,#52a6ff 60%,#5270ff 64%,#5252ff 68%,#5252e0 72%,#5252d4 76%,#5252d0 80%,#5252d7 84%,#5252dd 88%,#5252e3 92%,#5252e3 96%,#5252e3 100%)"></div><div style="background:linear-gradient(90deg,#c1ff8a 0%,#c1ff8a 4%,#c1ff8a 8%,#fcf552 12%,#ffb452 16%,#ff8e52 20%,#ff8252 24%,#ff8c52 28%,#ffa252 32%,#ffc652 36%,#fef352 40%,#d5ff76 44%,#a4ffa7 48%,#74ffd7 52%,#52daff 56%,#529eff 60%,#526aff 64%,#5252fc 68%,#5252e0 72%,#5252d4 76%,#5252d4 80%,#5252d7 84%,#5252e0 88%,#5252e3 92%,#5252e3 96%,#5252e3 100%)"></div><div style="background:linear-gradient(90deg,#b8ff93 0%,#b8ff93 4%,#b8ff93 8%,#efff5c 12%,#ffc852 16%,#ffa752 20%,#ff9d52 24%,#ffa552 28%,#ffbc52 32%,#ffdc52 36%,#edff5e 40%,#c3ff88 44%,#97ffb4 48%,#67ffe4 52%,#52cfff 56%,#5296ff 60%,#5265ff 64%,#5252f9 68%,#5252e0 72%,#5252d4 76%,#5252d4 80%,#5252da 84%,#5252e0 88%,#5252e3 92%,#5252e3 96%,#5252e3 100%)"></div><div style="background:linear-gradient(90deg,#afff9c 0%,#afff9c 4%,#afff9c 8%,#e0ff6b 12%,#ffe152 16%,#ffc352 20%,#ffbc52 24%,#ffc352 28%,#ffd752 32%,#faf852 36%,#d9ff72 40%,#b4ff97 44%,#88ffc3 48%,#5cfbef 52%,#52c1ff 56%,#528eff 60%,#5260ff 64%,#5252f6 68%,#5252dd 72%,#5252d7 76%,#5252d7 80%,#5252dd 84%,#5252e3 88%,#5252e6 92%,#5252e6 96%,#5252e6 100%)"></div><div style="background:linear-gradient(90deg,#a2ffa9 0%,#a2ffa9 4%,#a2ffa9 8%,#ccff7f 12%,#f6fd55 16%,#ffe452 20%,#ffdc52 24%,#ffe452 28%,#fcf552 32%,#e4ff67 36%,#c5ff86 40%,#a2ffa9 44%,#7bffd0 48%,#52eafc 52%,#52b7ff 56%,#5283ff 60%,#525aff 64%,#5252ef 68%,#5252dd 72%,#5252d7 76%,#5252d7 80%,#5252dd 84%,#5252e3 88%,#5252e6 92%,#5252e6 96%,#5252e6 100%)"></div><div style="background:linear-gradient(90deg,#91ffba 0%,#91ffba 4%,#91ffba 8%,#b8ff93 12%,#dbff70 16%,#efff5c 20%,#f3ff58 24%,#efff5c 28%,#e0ff6b 32%,#ccff7f 36%,#b2ff99 40%,#93ffb8 44%,#6effdd 48%,#52ddff 52%,#52a9ff 56%,#527bff 60%,#5255ff 64%,#5252ec 68%,#5252dd 72%,#5252d7 76%,#5252d7 80%,#5252dd 84%,#5252e3 88%,#5252e6 92%,#5252e6 96%,#5252e6 100%)"></div><div style="background:linear-gradient(90deg,#7fffcc 0%,#7fffcc 4%,#7fffcc 8%,#a0ffab 12%,#bfff8c 16%,#d0ff7b 20%,#d5ff76 24%,#ceff7d 28%,#c3ff88 32%,#b4ff97 36%,#9effad 40%,#84ffc8 44%,#60ffeb 48%,#52cfff 52%,#529eff 56%,#5273ff 60%,#5252ff 64%,#5252e9 68%,#5252da 72%,#5252d7 76%,#5252d7 80%,#5252dd 84%,#5252e6 88%,#5252e9 92%,#5252e9 96%,#5252e9 100%)"></div><div style="background:linear-gradient(90deg,#69ffe2 0%,#69ffe2 4%,#69ffe2 8%,#86ffc5 12%,#a0ffab 16%,#afff9c 20%,#b4ff97 24%,#afff9c 28%,#a7ffa4 32%,#99ffb2 36%,#8affc1 40%,#72ffd9 44%,#52edfa 48%,#52bfff 52%,#5290ff 56%,#5268ff 60%,#5252ff 64%,#5252e6 68%,#5252da 72%,#5252d7 76%,#5252da 80%,#5252e0 84%,#5252e6 88%,#5252ec 92%,#5252ec 96%,#5252ec 100%)"></div><div style="background:linear-gradient(90deg,#53f0f8 0%,#53f0f8 4%,#53f0f8 8%,#6bffe0 12%,#81ffca 16%,#8effbd 20%,#91ffba 24%,#8effbd 28%,#8affc1 32%,#81ffca 36%,#74ffd7 40%,#60ffeb 44%,#52ddff 48%,#52b1ff 52%,#5286ff 56%,#5260ff 60%,#5252fc 64%,#5252e6 68%,#5252da 72%,#5252d7 76%,#5252da 80%,#5252e0 84%,#5252e9 88%,#5252ef 92%,#5252ef 96%,#5252ef 100%)"></div><div style="background:linear-gradient(90deg,#52d4ff 0%,#52d4ff 4%,#52d4ff 8%,#52edfa 12%,#63ffe8 16%,#6effdd 20%,#70ffdb 24%,#70ffdb 28%,#6effdd 32%,#67ffe4 36%,#5efded 40%,#52eafc 44%,#52caff 48%,#52a1ff 52%,#5278ff 56%,#5257ff 60%,#5252f6 64%,#5252e3 68%,#5252da 72%,#5252da 76%,#5252dd 80%,#5252e6 84%,#5252ec 88%,#5252f2 92%,#5252f2 96%,#5252f2 100%)"></div><div style="background:linear-gradient(90deg,#52b9ff 0%,#52b9ff 4%,#52b9ff 8%,#52ccff 12%,#52ddff 16%,#52e8fe 20%,#52edfa 24%,#53f0f8 28%,#52edfa 32%,#52eafc 36%,#52dfff 40%,#52cfff 44%,#52b1ff 48%,#5290ff 52%,#526dff 56%,#5252ff 60%,#5252f2 64%,#5252e3 68%,#5252dd 72%,#5252dd 76%,#5252e3 80%,#5252ec 84%,#5252f6 88%,#5252fc 92%,#5252fc 96%,#5252fc 100%)"></div><div style="background:linear-gradient(90deg,#52a4ff 0%,#52a4ff 4%,#52a4ff 8%,#52acff 12%,#52b9ff 16%,#52c1ff 20%,#52c7ff 24%,#52ccff 28%,#52ccff 32%,#52caff 36%,#52c1ff 40%,#52b4ff 44%,#529bff 48%,#527dff 52%,#5262ff 56%,#5252ff 60%,#5252ef 64%,#5252e3 68%,#5252e0 72%,#5252e6 76%,#5252ec 80%,#5252f6 84%,#5252ff 88%,#5252ff 92%,#5252ff 96%,#5252ff 100%)"></div><div style="background:linear-gradient(90deg,#528eff 0%,#528eff 4%,#528eff 8%,#5290ff 12%,#5296ff 16%,#529eff 20%,#52a6ff 24%,#52acff 28%,#52aeff 32%,#52acff 36%,#52a4ff 40%,#5296ff 44%,#5283ff 48%,#526dff 52%,#5257ff 56%,#5252fc 60%,#5252ec 64%,#5252e6 68%,#5252e6 72%,#5252ec 76%,#5252f6 80%,#5252ff 84%,#5252ff 88%,#5257ff 92%,#5257ff 96%,#5257ff 100%)"></div><div style="background:linear-gradient(90deg,#527bff 0%,#527bff 4%,#527bff 8%,#5275ff 12%,#5278ff 16%,#527dff 20%,#5286ff 24%,#528eff 28%,#5290ff 32%,#528eff 36%,#5286ff 40%,#527bff 44%,#526aff 48%,#525dff 52%,#5252ff 56%,#5252f6 60%,#5252ec 64%,#5252e6 68%,#5252ec 72%,#5252f6 76%,#5252ff 80%,#5255ff 84%,#525dff 88%,#5260ff 92%,#5260ff 96%,#5260ff 100%)"></div><div style="background:linear-gradient(90deg,#5268ff 0%,#5268ff 4%,#5268ff 8%,#5260ff 12%,#525dff 16%,#5262ff 20%,#526aff 24%,#5273ff 28%,#5278ff 32%,#5275ff 36%,#526dff 40%,#5262ff 44%,#5257ff 48%,#5252ff 52%,#5252fc 56%,#5252f2 60%,#5252ec 64%,#5252e9 68%,#5252f2 72%,#5252ff 76%,#5255ff 80%,#5260ff 84%,#526aff 88%,#526dff 92%,#526dff 96%,#526dff 100%)"></div><div style="background:linear-gradient(90deg,#525aff 0%,#525aff 4%,#525aff 8%,#5252ff 12%,#5252ff 16%,#5252ff 20%,#5255ff 24%,#525dff 28%,#5262ff 32%,#5260ff 36%,#5257ff 40%,#5252ff 44%,#5252ff 48%,#5252f9 52%,#5252f6 56%,#5252ef 60%,#5252ec 64%,#5252ef 68%,#5252f9 72%,#5252ff 76%,#5260ff 80%,#526dff 84%,#5275ff 88%,#5278ff 92%,#5278ff 96%,#5278ff 100%)"></div><div style="background:linear-gradient(90deg,#5252ff 0%,#5252ff 4%,#5252ff 8%,#5252f9 12%,#5252ef 16%,#5252ef 20%,#5252f9 24%,#5252ff 28%,#5252ff 32%,#5252ff 36%,#5252fc 40%,#5252f6 44%,#5252f2 48%,#5252f2 52%,#5252f2 56%,#5252ef 60%,#5252ef 64%,#5252f6 68%,#5252ff 72%,#5257ff 76%,#5268ff 80%,#5278ff 84%,#5280ff 88%,#5280ff 92%,#5280ff 96%,#5280ff 100%)"></div><div style="background:linear-gradient(90deg,#5252ff 0%,#5252ff 4%,#5252ff 8%,#5252ef 12%,#5252e3 16%,#5252e3 20%,#5252e9 24%,#5252f2 28%,#5252f6 32%,#5252f6 36%,#5252ef 40%,#5252e9 44%,#5252e9 48%,#5252ec 52%,#5252ef 56%,#5252ef 60%,#5252f2 64%,#5252fc 68%,#5252ff 72%,#5260ff 76%,#5273ff 80%,#5280ff 84%,#528bff 88%,#528bff 92%,#528bff 96%,#528bff 100%)"></div><div style="background:linear-gradient(90deg,#5252f9 0%,#5252f9 4%,#5252f9 8%,#5252e9 12%,#5252dd 16%,#5252dd 20%,#5252e0 24%,#5252e6 28%,#5252e9 32%,#5252e9 36%,#5252e6 40%,#5252e6 44%,#5252e6 48%,#5252ec 52%,#5252ef 56%,#5252f2 60%,#5252f9 64%,#5252ff 68%,#5257ff 72%,#5268ff 76%,#527bff 80%,#5288ff 84%,#5293ff 88%,#5293ff 92%,#5293ff 96%,#5293ff 100%)"></div><div style="background:linear-gradient(90deg,#5252f2 0%,#5252f2 4%,#5252f2 8%,#5252e6 12%,#5252da 16%,#5252d7 20%,#5252da 24%,#5252dd 28%,#5252e0 32%,#5252e0 36%,#5252e3 40%,#5252e3 44%,#5252e6 48%,#5252ec 52%,#5252f2 56%,#5252f6 60%,#5252fc 64%,#5252ff 68%,#525dff 72%,#5270ff 76%,#5280ff 80%,#5290ff 84%,#5299ff 88%,#5299ff 92%,#5299ff 96%,#5299ff 100%)"></div><div style="background:linear-gradient(90deg,#5252ef 0%,#5252ef 4%,#5252ef 8%,#5252e6 12%,#5252dd 16%,#5252d7 20%,#5252d4 24%,#5252d7 28%,#5252da 32%,#5252dd 36%,#5252e0 40%,#5252e3 44%,#5252e9 48%,#5252ef 52%,#5252f6 56%,#5252f9 60%,#5252ff 64%,#5255ff 68%,#5262ff 72%,#5275ff 76%,#5286ff 80%,#5296ff 84%,#529eff 88%,#529eff 92%,#529eff 96%,#529eff 100%)"></div><div style="background:linear-gradient(90deg,#5252ec 0%,#5252ec 4%,#5252ec 8%,#5252e6 12%,#5252dd 16%,#5252d7 20%,#5252d4 24%,#5252d4 28%,#5252d4 32%,#5252da 36%,#5252e0 40%,#5252e6 44%,#5252ec 48%,#5252f2 52%,#5252f9 56%,#5252fc 60%,#5252ff 64%,#5257ff 68%,#5268ff 72%,#5278ff 76%,#528bff 80%,#5299ff 84%,#52a1ff 88%,#52a1ff 92%,#52a1ff 96%,#52a1ff 100%)"></div><div style="background:linear-gradient(90deg,#5252ec 0%,#5252ec 4%,#5252ec 8%,#5252e9 12%,#5252e3 16%,#5252da 20%,#5252d4 24%,#5252d0 28%,#5252d4 32%,#5252da 36%,#5252e3 40%,#5252ec 44%,#5252f2 48%,#5252f6 52%,#5252fc 56%,#5252ff 60%,#5252ff 64%,#525aff 68%,#526aff 72%,#527bff 76%,#528bff 80%,#5299ff 84%,#52a1ff 88%,#52a1ff 92%,#52a1ff 96%,#52a1ff 100%)"></div><div style="background:linear-gradient(90deg,#5252ec 0%,#5252ec 4%,#5252ec 8%,#5252ec 12%,#5252e6 16%,#5252dd 20%,#5252d7 24%,#5252d4 28%,#5252d4 32%,#5252da 36%,#5252e6 40%,#5252ef 44%,#5252f6 48%,#5252f9 52%,#5252ff 56%,#5252ff 60%,#5252ff 64%,#525dff 68%,#526aff 72%,#527bff 76%,#528bff 80%,#5299ff 84%,#52a1ff 88%,#52a1ff 92%,#52a1ff 96%,#52a1ff 100%)"></div><div style="background:linear-gradient(90deg,#5252ec 0%,#5252ec 4%,#5252ec 8%,#5252ec 12%,#5252e6 16%,#5252e0 20%,#5252da 24%,#5252d4 28%,#5252d4 32%,#5252dd 36%,#5252e6 40%,#5252f2 44%,#5252f9 48%,#5252fc 52%,#5252ff 56%,#5252ff 60%,#5252ff 64%,#525dff 68%,#526aff 72%,#527bff 76%,#5288ff 80%,#5296ff 84%,#529bff 88%,#529bff 92%,#529bff 96%,#529bff 100%)"></div><div style="background:linear-gradient(90deg,#5252ef 0%,#5252ef 4%,#5252ef 8%,#5252ec 12%,#5252e6 16%,#5252e0 20%,#5252da 24%,#5252d7 28%,#5252d7 32%,#5252e0 36%,#5252e9 40%,#5252f2 44%,#5252f9 48%,#5252fc 52%,#5252ff 56%,#5252ff 60%,#5252ff 64%,#525aff 68%,#5268ff 72%,#5275ff 76%,#5283ff 80%,#528eff 84%,#5293ff 88%,#5293ff 92%,#5293ff 96%,#5293ff 100%)"></div><div style="background:linear-gradient(90deg,#5252ef 0%,#5252ef 4%,#5252ef 8%,#5252e9 12%,#5252e3 16%,#5252e0 20%,#5252dd 24%,#5252da 28%,#5252dd 32%,#5252e0 36%,#5252e9 40%,#5252ef 44%,#5252f6 48%,#5252fc 52%,#5252ff 56%,#5252ff 60%,#5252ff 64%,#5257ff 68%,#5262ff 72%,#5270ff 76%,#527bff 80%,#5286ff 84%,#5288ff 88%,#5288ff 92%,#5288ff 96%,#5288ff 100%)"></div><div style="background:linear-gradient(90deg,#5252ef 0%,#5252ef 4%,#5252ef 8%,#5252e9 12%,#5252e3 16%,#5252e0 20%,#5252dd 24%,#5252dd 28%,#5252dd 32%,#5252e3 36%,#5252e6 40%,#5252ec 44%,#5252f2 48%,#5252f9 52%,#5252ff 56%,#5252ff 60%,#5252ff 64%,#5255ff 68%,#5260ff 72%,#526dff 76%,#527bff 80%,#5283ff 84%,#5286ff 88%,#5286ff 92%,#5286ff 96%,#5286ff 100%)"></div><div style="background:linear-gradient(90deg,#5252ef 0%,#5252ef 4%,#5252ef 8%,#5252e9 12%,#5252e3 16%,#5252e0 20%,#5252dd 24%,#5252dd 28%,#5252dd 32%,#5252e3 36%,#5252e6 40%,#5252ec 44%,#5252f2 48%,#5252f9 52%,#5252ff 56%,#5252ff 60%,#5252ff 64%,#5255ff 68%,#5260ff 72%,#526dff 76%,#527bff 80%,#5283ff 84%,#5286ff 88%,#5286ff 92%,#5286ff 96%,#5286ff 100%)"></div><div style="background:linear-gradient(90deg,#5252ef 0%,#5252ef 4%,#5252ef 8%,#5252e9 12%,#5252e3 16%,#5252e0 20%,#5252dd 24%,#5252dd 28%,#5252dd 32%,#5252e3 36%,#5252e6 40%,#5252ec 44%,#5252f2 48%,#5252f9 52%,#5252ff 56%,#5252ff 60%,#5252ff 64%,#5255ff 68%,#5260ff 72%,#526dff 76%,#527bff 80%,#5283ff 84%,#5286ff 88%,#5286ff 92%,#5286ff 96%,#5286ff 100%)"></div><div style="background:linear-gradient(90deg,#5252ef 0%,#5252ef 4%,#5252ef 8%,#5252e9 12%,#5252e3 16%,#5252e0 20%,#5252dd 24%,#5252dd 28%,#5252dd 32%,#5252e3 36%,#5252e6 40%,#5252ec 44%,#5252f2 48%,#5252f9 52%,#5252ff 56%,#5252ff 60%,#5252ff 64%,#5255ff 68%,#5260ff 72%,#526dff 76%,#527bff 80%,#5283ff 84%,#5286ff 88%,#5286ff 92%,#5286ff 96%,#5286ff 100%)"></div><div style="background:linear-gradient(90deg,#5252ef 0%,#5252ef 4%,#5252ef 8%,#5252e9 12%,#5252e3 16%,#5252e0 20%,#5252dd 24%,#5252dd 28%,#5252dd 32%,#5252e3 36%,#5252e6 40%,#5252ec 44%,#5252f2 48%,#5252f9 52%,#5252ff 56%,#5252ff 60%,#5252ff 64%,#5255ff 68%,#5260ff 72%,#526dff 76%,#527bff 80%,#5283ff 84%,#5286ff 88%,#5286ff 92%,#5286ff 96%,#5286ff 100%)"></div></div></div>
<div class="hm" style="left:785px;top:645.6px;width:225px;height:225px"><div class="hmi" style="left:-8px;top:-8px;width:241px"><div style="background:linear-gradient(90deg,#52a9ff 0%,#52a9ff 4%,#52a9ff 8%,#52aeff 12%,#52b7ff 16%,#52bcff 20%,#52bfff 24%,#52c4ff 28%,#52caff 32%,#52d2ff 36%,#52ddff 40%,#52e5ff 44%,#52eafc 48%,#53f0f8 52%,#58f5f3 56%,#5efded 60%,#67ffe4 64%,#6effdd 68%,#74ffd7 72%,#76ffd5 76%,#79ffd2 80%,#79ffd2 84%,#79ffd2 88%,#79ffd2 92%,#79ffd2 96%,#79ffd2 100%)"></div><div style="background:linear-gradient(90deg,#52a9ff 0%,#52a9ff 4%,#52a9ff 8%,#52aeff 12%,#52b7ff 16%,#52bcff 20%,#52bfff 24%,#52c4ff 28%,#52caff 32%,#52d2ff 36%,#52ddff 40%,#52e5ff 44%,#52eafc 48%,#53f0f8 52%,#58f5f3 56%,#5efded 60%,#67ffe4 64%,#6effdd 68%,#74ffd7 72%,#76ffd5 76%,#79ffd2 80%,#79ffd2 84%,#79ffd2 88%,#79ffd2 92%,#79ffd2 96%,#79ffd2 100%)"></div><div style="background:linear-gradient(90deg,#52a9ff 0%,#52a9ff 4%,#52a9ff 8%,#52aeff 12%,#52b7ff 16%,#52bcff 20%,#52bfff 24%,#52c4ff 28%,#52caff 32%,#52d2ff 36%,#52ddff 40%,#52e5ff 44%,#52eafc 48%,#53f0f8 52%,#58f5f3 56%,#5efded 60%,#67ffe4 64%,#6effdd 68%,#74ffd7 72%,#76ffd5 76%,#79ffd2 80%,#79ffd2 84%,#79ffd2 88%,#79ffd2 92%,#79ffd2 96%,#79ffd2 100%)"></div><div style="background:linear-gradient(90deg,#52a9ff 0%,#52a9ff 4%,#52a9ff 8%,#52aeff 12%,#52b7ff 16%,#52bcff 20%,#52bfff 24%,#52c4ff 28%,#52caff 32%,#52d2ff 36%,#52ddff 40%,#52e5ff 44%,#52eafc 48%,#53f0f8 52%,#58f5f3 56%,#5efded 60%,#67ffe4 64%,#6effdd 68%,#74ffd7 72%,#76ffd5 76%,#79ffd2 80%,#79ffd2 84%,#79ffd2 88%,#79ffd2 92%,#79ffd2 96%,#79ffd2 100%)"></div><div style="background:linear-gradient(90deg,#52a9ff 0%,#52a9ff 4%,#52a9ff 8%,#52aeff 12%,#52b7ff 16%,#52bcff 20%,#52bfff 24%,#52c4ff 28%,#52caff 32%,#52d2ff 36%,#52ddff 40%,#52e8fe 44%,#52edfa 48%,#53f0f8 52%,#58f5f3 56%,#5efded 60%,#67ffe4 64%,#70ffdb 68%,#74ffd7 72%,#79ffd2 76%,#7bffd0 80%,#7bffd0 84%,#7bffd0 88%,#79ffd2 92%,#79ffd2 96%,#79ffd2 100%)"></div><div style="background:linear-gradient(90deg,#52a9ff 0%,#52a9ff 4%,#52a9ff 8%,#52aeff 12%,#52b7ff 16%,#52bcff 20%,#52c1ff 24%,#52c7ff 28%,#52cfff 32%,#52d7ff 36%,#52dfff 40%,#52e8fe 44%,#53f0f8 48%,#5af8f1 52%,#60ffeb 56%,#67ffe4 60%,#70ffdb 64%,#79ffd2 68%,#7fffcc 72%,#81ffca 76%,#84ffc8 80%,#84ffc8 84%,#81ffca 88%,#7fffcc 92%,#7fffcc 96%,#7fffcc 100%)"></div><div style="background:linear-gradient(90deg,#52acff 0%,#52acff 4%,#52acff 8%,#52aeff 12%,#52b7ff 16%,#52bcff 20%,#52c4ff 24%,#52caff 28%,#52d2ff 32%,#52daff 36%,#52e2ff 40%,#52eafc 44%,#55f2f6 48%,#5cfbef 52%,#65ffe6 56%,#6effdd 60%,#76ffd5 64%,#7fffcc 68%,#86ffc5 72%,#8affc1 76%,#8cffbf 80%,#8cffbf 84%,#88ffc3 88%,#84ffc8 92%,#84ffc8 96%,#84ffc8 100%)"></div><div style="background:linear-gradient(90deg,#52a9ff 0%,#52a9ff 4%,#52a9ff 8%,#52aeff 12%,#52b4ff 16%,#52bcff 20%,#52c4ff 24%,#52ccff 28%,#52d4ff 32%,#52ddff 36%,#52e5ff 40%,#52edfa 44%,#58f5f3 48%,#60ffeb 52%,#69ffe2 56%,#72ffd9 60%,#7bffd0 64%,#84ffc8 68%,#8affc1 72%,#91ffba 76%,#93ffb8 80%,#91ffba 84%,#8cffbf 88%,#88ffc3 92%,#88ffc3 96%,#88ffc3 100%)"></div><div style="background:linear-gradient(90deg,#52a6ff 0%,#52a6ff 4%,#52a6ff 8%,#52acff 12%,#52b4ff 16%,#52bcff 20%,#52c4ff 24%,#52ccff 28%,#52d7ff 32%,#52dfff 36%,#52e8fe 40%,#53f0f8 44%,#5af8f1 48%,#63ffe8 52%,#6bffe0 56%,#74ffd7 60%,#7dffce 64%,#88ffc3 68%,#8effbd 72%,#93ffb8 76%,#97ffb4 80%,#95ffb6 84%,#91ffba 88%,#8affc1 92%,#8affc1 96%,#8affc1 100%)"></div><div style="background:linear-gradient(90deg,#52a4ff 0%,#52a4ff 4%,#52a4ff 8%,#52a9ff 12%,#52b1ff 16%,#52bcff 20%,#52c4ff 24%,#52cfff 28%,#52d7ff 32%,#52dfff 36%,#52eafc 40%,#55f2f6 44%,#5cfbef 48%,#65ffe6 52%,#6effdd 56%,#76ffd5 60%,#81ffca 64%,#8affc1 68%,#91ffba 72%,#97ffb4 76%,#99ffb2 80%,#99ffb2 84%,#93ffb8 88%,#8effbd 92%,#8effbd 96%,#8effbd 100%)"></div><div style="background:linear-gradient(90deg,#529eff 0%,#529eff 4%,#529eff 8%,#52a6ff 12%,#52b1ff 16%,#52b9ff 20%,#52c4ff 24%,#52ccff 28%,#52d7ff 32%,#52e2ff 36%,#52edfa 40%,#58f5f3 44%,#60ffeb 48%,#67ffe4 52%,#70ffdb 56%,#79ffd2 60%,#84ffc8 64%,#8cffbf 68%,#93ffb8 72%,#99ffb2 76%,#9cffaf 80%,#9cffaf 84%,#95ffb6 88%,#91ffba 92%,#91ffba 96%,#91ffba 100%)"></div><div style="background:linear-gradient(90deg,#5299ff 0%,#5299ff 4%,#5299ff 8%,#52a1ff 12%,#52acff 16%,#52b7ff 20%,#52c1ff 24%,#52ccff 28%,#52d7ff 32%,#52e2ff 36%,#53f0f8 40%,#5cfbef 44%,#63ffe8 48%,#69ffe2 52%,#72ffd9 56%,#7bffd0 60%,#86ffc5 64%,#8effbd 68%,#95ffb6 72%,#9cffaf 76%,#9effad 80%,#9cffaf 84%,#97ffb4 88%,#93ffb8 92%,#93ffb8 96%,#93ffb8 100%)"></div><div style="background:linear-gradient(90deg,#5290ff 0%,#5290ff 4%,#5290ff 8%,#529bff 12%,#52a9ff 16%,#52b4ff 20%,#52bfff 24%,#52caff 28%,#52d7ff 32%,#52e5ff 36%,#58f5f3 40%,#60ffeb 44%,#69ffe2 48%,#6effdd 52%,#76ffd5 56%,#7fffcc 60%,#88ffc3 64%,#91ffba 68%,#99ffb2 72%,#9cffaf 76%,#9effad 80%,#9effad 84%,#99ffb2 88%,#95ffb6 92%,#95ffb6 96%,#95ffb6 100%)"></div><div style="background:linear-gradient(90deg,#5288ff 0%,#5288ff 4%,#5288ff 8%,#5293ff 12%,#52a1ff 16%,#52aeff 20%,#52b9ff 24%,#52c7ff 28%,#52d7ff 32%,#52e8fe 36%,#5cfbef 40%,#67ffe4 44%,#70ffdb 48%,#74ffd7 52%,#7bffd0 56%,#84ffc8 60%,#8effbd 64%,#95ffb6 68%,#9cffaf 72%,#a0ffab 76%,#a0ffab 80%,#9effad 84%,#99ffb2 88%,#97ffb4 92%,#97ffb4 96%,#97ffb4 100%)"></div><div style="background:linear-gradient(90deg,#5280ff 0%,#5280ff 4%,#5280ff 8%,#528bff 12%,#529bff 16%,#52a6ff 20%,#52b4ff 24%,#52c4ff 28%,#52d7ff 32%,#52eafc 36%,#60ffeb 40%,#6effdd 44%,#76ffd5 48%,#7dffce 52%,#84ffc8 56%,#8cffbf 60%,#95ffb6 64%,#9cffaf 68%,#a0ffab 72%,#a2ffa9 76%,#a2ffa9 80%,#9effad 84%,#9cffaf 88%,#97ffb4 92%,#97ffb4 96%,#97ffb4 100%)"></div><div style="background:linear-gradient(90deg,#5278ff 0%,#5278ff 4%,#5278ff 8%,#5283ff 12%,#5290ff 16%,#529eff 20%,#52aeff 24%,#52c1ff 28%,#52d4ff 32%,#53f0f8 36%,#67ffe4 40%,#76ffd5 44%,#81ffca 48%,#88ffc3 52%,#8effbd 56%,#95ffb6 60%,#9effad 64%,#a4ffa7 68%,#a7ffa4 72%,#a7ffa4 76%,#a4ffa7 80%,#a0ffab 84%,#9cffaf 88%,#99ffb2 92%,#99ffb2 96%,#99ffb2 100%)"></div><div style="background:linear-gradient(90deg,#5270ff 0%,#5270ff 4%,#5270ff 8%,#5278ff 12%,#5286ff 16%,#5296ff 20%,#52a6ff 24%,#52bcff 28%,#52d4ff 32%,#55f2f6 36%,#6effdd 40%,#81ffca 44%,#8effbd 48%,#95ffb6 52%,#9cffaf 56%,#a4ffa7 60%,#abffa0 64%,#afff9c 68%,#afff9c 72%,#adff9e 76%,#a9ffa2 80%,#a2ffa9 84%,#9effad 88%,#9cffaf 92%,#9cffaf 96%,#9cffaf 100%)"></div><div style="background:linear-gradient(90deg,#5265ff 0%,#5265ff 4%,#5265ff 8%,#526dff 12%,#5278ff 16%,#528bff 20%,#529eff 24%,#52b9ff 28%,#52d7ff 32%,#5af8f1 36%,#76ffd5 40%,#8cffbf 44%,#9cffaf 48%,#a4ffa7 52%,#adff9e 56%,#b4ff97 60%,#baff91 64%,#bdff8e 68%,#baff91 72%,#b4ff97 76%,#adff9e 80%,#a4ffa7 84%,#a0ffab 88%,#9effad 92%,#9effad 96%,#9effad 100%)"></div><div style="background:linear-gradient(90deg,#525aff 0%,#525aff 4%,#525aff 8%,#5260ff 12%,#526dff 16%,#5280ff 20%,#5299ff 24%,#52b4ff 28%,#52d7ff 32%,#60ffeb 36%,#7fffcc 40%,#99ffb2 44%,#abffa0 48%,#b8ff93 52%,#c1ff8a 56%,#c8ff84 60%,#ccff7f 64%,#ccff7f 68%,#c5ff86 72%,#bdff8e 76%,#b2ff99 80%,#a7ffa4 84%,#a0ffab 88%,#9effad 92%,#9effad 96%,#9effad 100%)"></div><div style="background:linear-gradient(90deg,#5252ff 0%,#5252ff 4%,#5252ff 8%,#5255ff 12%,#5262ff 16%,#5278ff 20%,#5293ff 24%,#52b4ff 28%,#52daff 32%,#65ffe6 36%,#88ffc3 40%,#a7ffa4 44%,#bdff8e 48%,#ccff7f 52%,#d7ff74 56%,#dbff70 60%,#ddff6e 64%,#dbff70 68%,#d0ff7b 72%,#c5ff86 76%,#b6ff95 80%,#abffa0 84%,#a2ffa9 88%,#9effad 92%,#9effad 96%,#9effad 100%)"></div><div style="background:linear-gradient(90deg,#5252ff 0%,#5252ff 4%,#5252ff 8%,#5252ff 12%,#525dff 16%,#5273ff 20%,#5290ff 24%,#52b4ff 28%,#52ddff 32%,#6bffe0 36%,#93ffb8 40%,#b6ff95 44%,#d0ff7b 48%,#e2ff69 52%,#edff5e 56%,#f1ff5a 60%,#efff5c 64%,#e8ff63 68%,#dbff70 72%,#ccff7f 76%,#baff91 80%,#abffa0 84%,#a0ffab 88%,#9effad 92%,#9effad 96%,#9effad 100%)"></div><div style="background:linear-gradient(90deg,#5252f2 0%,#5252f2 4%,#5252f2 8%,#5252ff 12%,#525aff 16%,#5273ff 20%,#5290ff 24%,#52b7ff 28%,#52e2ff 32%,#72ffd9 36%,#9effad 40%,#c5ff86 44%,#e4ff67 48%,#faf852 52%,#ffeb52 56%,#ffe952 60%,#fff052 64%,#f6fd55 68%,#e4ff67 72%,#d0ff7b 76%,#bfff8c 80%,#adff9e 84%,#a0ffab 88%,#99ffb2 92%,#99ffb2 96%,#99ffb2 100%)"></div><div style="background:linear-gradient(90deg,#5252e9 0%,#5252e9 4%,#5252e9 8%,#5252fc 12%,#525dff 16%,#5278ff 20%,#5296ff 24%,#52bcff 28%,#52e8fe 32%,#79ffd2 36%,#a7ffa4 40%,#d2ff79 44%,#f8fa53 48%,#ffdc52 52%,#ffcd52 56%,#ffd052 60%,#ffdc52 64%,#fef352 68%,#ebff60 72%,#d5ff76 76%,#bfff8c 80%,#abffa0 84%,#9cffaf 88%,#93ffb8 92%,#93ffb8 96%,#93ffb8 100%)"></div><div style="background:linear-gradient(90deg,#5252e0 0%,#5252e0 4%,#5252e0 8%,#5252fc 12%,#5265ff 16%,#5280ff 20%,#52a1ff 24%,#52c4ff 28%,#55f2f6 32%,#81ffca 36%,#b4ff97 40%,#e4ff67 44%,#ffe452 48%,#ffc152 52%,#ffb152 56%,#ffb952 60%,#ffcd52 64%,#ffe952 68%,#efff5c 72%,#d7ff74 76%,#bfff8c 80%,#a9ffa2 84%,#97ffb4 88%,#8cffbf 92%,#8cffbf 96%,#8cffbf 100%)"></div><div style="background:linear-gradient(90deg,#5252dd 0%,#5252dd 4%,#5252dd 8%,#5252ff 12%,#5270ff 16%,#5290ff 20%,#52aeff 24%,#52d2ff 28%,#60ffeb 32%,#8cffbf 36%,#c1ff8a 40%,#f3ff58 44%,#ffcd52 48%,#ffa752 52%,#ff9b52 56%,#ffa552 60%,#ffc152 64%,#ffe452 68%,#efff5c 72%,#d5ff76 76%,#bdff8e 80%,#a7ffa4 84%,#91ffba 88%,#84ffc8 92%,#84ffc8 96%,#84ffc8 100%)"></div><div style="background:linear-gradient(90deg,#5252dd 0%,#5252dd 4%,#5252dd 8%,#5252ff 12%,#5280ff 16%,#52a4ff 20%,#52c4ff 24%,#52e5ff 28%,#6effdd 32%,#9cffaf 36%,#d0ff7b 40%,#ffeb52 44%,#ffb652 48%,#ff9152 52%,#ff8452 56%,#ff9652 60%,#ffbc52 64%,#ffe452 68%,#ebff60 72%,#d0ff7b 76%,#b8ff93 80%,#a0ffab 84%,#8affc1 88%,#7bffd0 92%,#7bffd0 96%,#7bffd0 100%)"></div><div style="background:linear-gradient(90deg,#5252e3 0%,#5252e3 4%,#5252e3 8%,#525dff 12%,#5293ff 16%,#52b9ff 20%,#52ddff 24%,#5efded 28%,#81ffca 32%,#afff9c 36%,#e4ff67 40%,#ffd552 44%,#ffa052 48%,#ff7d52 52%,#ff7552 56%,#ff8e52 60%,#ffb952 64%,#ffe952 68%,#e4ff67 72%,#c8ff84 76%,#afff9c 80%,#97ffb4 84%,#81ffca 88%,#70ffdb 92%,#70ffdb 96%,#70ffdb 100%)"></div><div style="background:linear-gradient(90deg,#5252ef 0%,#5252ef 4%,#5252ef 8%,#5270ff 12%,#52a9ff 16%,#52d4ff 20%,#5af8f1 24%,#79ffd2 28%,#9cffaf 32%,#c8ff84 36%,#faf852 40%,#ffbe52 44%,#ff8c52 48%,#ff6d52 52%,#ff6d52 56%,#ff8c52 60%,#ffbe52 64%,#fef352 68%,#d9ff72 72%,#bdff8e 76%,#a4ffa7 80%,#8effbd 84%,#79ffd2 88%,#67ffe4 92%,#67ffe4 96%,#67ffe4 100%)"></div><div style="background:linear-gradient(90deg,#5252ff 0%,#5252ff 4%,#5252ff 8%,#5283ff 12%,#52bfff 16%,#53f0f8 20%,#74ffd7 24%,#95ffb6 28%,#b8ff93 32%,#e4ff67 36%,#ffda52 40%,#ffa552 44%,#ff7d52 48%,#ff6652 52%,#ff6b52 56%,#ff9152 60%,#ffcb52 64%,#f1ff5a 68%,#caff81 72%,#abffa0 76%,#95ffb6 80%,#81ffca 84%,#6effdd 88%,#5efded 92%,#5efded 96%,#5efded 100%)"></div><div style="background:linear-gradient(90deg,#5262ff 0%,#5262ff 4%,#5262ff 8%,#5299ff 12%,#52daff 16%,#6bffe0 20%,#8effbd 24%,#b2ff99 28%,#d7ff74 32%,#ffee52 36%,#ffbc52 40%,#ff8e52 44%,#ff6d52 48%,#ff6152 52%,#ff7052 56%,#ff9d52 60%,#ffda52 64%,#e0ff6b 68%,#b8ff93 72%,#99ffb2 76%,#86ffc5 80%,#74ffd7 84%,#63ffe8 88%,#58f5f3 92%,#58f5f3 96%,#58f5f3 100%)"></div><div style="background:linear-gradient(90deg,#527bff 0%,#527bff 4%,#527bff 8%,#52b1ff 12%,#55f2f6 16%,#81ffca 20%,#a9ffa2 24%,#ceff7d 28%,#f6fd55 32%,#ffd052 36%,#ffa252 40%,#ff7d52 44%,#ff6652 48%,#ff6352 52%,#ff7a52 56%,#ffac52 60%,#ffee52 64%,#ceff7d 68%,#a4ffa7 72%,#88ffc3 76%,#74ffd7 80%,#65ffe6 84%,#58f5f3 88%,#52eafc 92%,#52eafc 96%,#52eafc 100%)"></div><div style="background:linear-gradient(90deg,#5296ff 0%,#5296ff 4%,#5296ff 8%,#52caff 12%,#69ffe2 16%,#97ffb4 20%,#c1ff8a 24%,#e6ff65 28%,#ffe152 32%,#ffb652 36%,#ff9152 40%,#ff7252 44%,#ff6352 48%,#ff6b52 52%,#ff8952 56%,#ffc152 60%,#f1ff5a 64%,#baff91 68%,#93ffb8 72%,#76ffd5 76%,#63ffe8 80%,#55f2f6 84%,#52e8fe 88%,#52e2ff 92%,#52e2ff 96%,#52e2ff 100%)"></div><div style="background:linear-gradient(90deg,#52aeff 0%,#52aeff 4%,#52aeff 8%,#52dfff 12%,#7bffd0 16%,#a9ffa2 20%,#d2ff79 24%,#faf852 28%,#ffd052 32%,#ffa752 36%,#ff8752 40%,#ff7252 44%,#ff6b52 48%,#ff7852 52%,#ff9b52 56%,#ffd552 60%,#e0ff6b 64%,#a9ffa2 68%,#81ffca 72%,#65ffe6 76%,#53f0f8 80%,#52e2ff 84%,#52daff 88%,#52d7ff 92%,#52d7ff 96%,#52d7ff 100%)"></div><div style="background:linear-gradient(90deg,#52c7ff 0%,#52c7ff 4%,#52c7ff 8%,#58f5f3 12%,#8affc1 16%,#b6ff95 20%,#ddff6e 24%,#ffee52 28%,#ffc852 32%,#ffa752 36%,#ff8c52 40%,#ff7d52 44%,#ff7a52 48%,#ff8c52 52%,#ffb152 56%,#ffe952 60%,#ceff7d 64%,#99ffb2 68%,#72ffd9 72%,#55f2f6 76%,#52dfff 80%,#52d2ff 84%,#52cfff 88%,#52cfff 92%,#52cfff 96%,#52cfff 100%)"></div><div style="background:linear-gradient(90deg,#52daff 0%,#52daff 4%,#52daff 8%,#67ffe4 12%,#97ffb4 16%,#bfff8c 20%,#e4ff67 24%,#ffeb52 28%,#ffcd52 32%,#ffb152 36%,#ff9b52 40%,#ff9152 44%,#ff9352 48%,#ffa552 52%,#ffcb52 56%,#f3ff58 60%,#bdff8e 64%,#8affc1 68%,#65ffe6 72%,#52e5ff 76%,#52cfff 80%,#52c7ff 84%,#52c4ff 88%,#52c4ff 92%,#52c4ff 96%,#52c4ff 100%)"></div><div style="background:linear-gradient(90deg,#52eafc 0%,#52eafc 4%,#52eafc 8%,#74ffd7 12%,#a0ffab 16%,#c5ff86 20%,#e4ff67 24%,#fef352 28%,#ffda52 32%,#ffc352 36%,#ffb452 40%,#ffac52 44%,#ffaf52 48%,#ffc352 52%,#ffe652 56%,#ddff6e 60%,#abffa0 64%,#7dffce 68%,#5af8f1 72%,#52d7ff 76%,#52c4ff 80%,#52b9ff 84%,#52b9ff 88%,#52bcff 92%,#52bcff 96%,#52bcff 100%)"></div><div style="background:linear-gradient(90deg,#5af8f1 0%,#5af8f1 4%,#5af8f1 8%,#7dffce 12%,#a7ffa4 16%,#c5ff86 20%,#e0ff6b 24%,#f3ff58 28%,#ffee52 32%,#ffdf52 36%,#ffd252 40%,#ffcd52 44%,#ffd252 48%,#ffe452 52%,#f1ff5a 56%,#caff81 60%,#9cffaf 64%,#72ffd9 68%,#52eafc 72%,#52ccff 76%,#52b9ff 80%,#52aeff 84%,#52aeff 88%,#52b4ff 92%,#52b4ff 96%,#52b4ff 100%)"></div><div style="background:linear-gradient(90deg,#60ffeb 0%,#60ffeb 4%,#60ffeb 8%,#81ffca 12%,#a7ffa4 16%,#c3ff88 20%,#d5ff76 24%,#e2ff69 28%,#edff5e 32%,#f6fd55 36%,#fcf552 40%,#fef352 44%,#faf852 48%,#edff5e 52%,#d7ff74 56%,#b4ff97 60%,#8affc1 64%,#65ffe6 68%,#52dfff 72%,#52c1ff 76%,#52b1ff 80%,#52a6ff 84%,#52a6ff 88%,#52acff 92%,#52acff 96%,#52acff 100%)"></div><div style="background:linear-gradient(90deg,#63ffe8 0%,#63ffe8 4%,#63ffe8 8%,#84ffc8 12%,#a4ffa7 16%,#baff91 20%,#c8ff84 24%,#ceff7d 28%,#d2ff79 32%,#d7ff74 36%,#d9ff72 40%,#dbff70 44%,#d7ff74 48%,#ceff7d 52%,#baff91 56%,#9cffaf 60%,#79ffd2 64%,#58f5f3 68%,#52d2ff 72%,#52b9ff 76%,#52a9ff 80%,#529eff 84%,#52a1ff 88%,#52a4ff 92%,#52a4ff 96%,#52a4ff 100%)"></div><div style="background:linear-gradient(90deg,#60ffeb 0%,#60ffeb 4%,#60ffeb 8%,#7fffcc 12%,#9cffaf 16%,#adff9e 20%,#b4ff97 24%,#b6ff95 28%,#b6ff95 32%,#b6ff95 36%,#b8ff93 40%,#b8ff93 44%,#b6ff95 48%,#adff9e 52%,#9effad 56%,#86ffc5 60%,#67ffe4 64%,#52e5ff 68%,#52c7ff 72%,#52b1ff 76%,#52a1ff 80%,#5299ff 84%,#5299ff 88%,#529eff 92%,#529eff 96%,#529eff 100%)"></div><div style="background:linear-gradient(90deg,#5af8f1 0%,#5af8f1 4%,#5af8f1 8%,#76ffd5 12%,#8effbd 16%,#9cffaf 20%,#9effad 24%,#9cffaf 28%,#99ffb2 32%,#97ffb4 36%,#97ffb4 40%,#97ffb4 44%,#95ffb6 48%,#8effbd 52%,#81ffca 56%,#6bffe0 60%,#53f0f8 64%,#52d2ff 68%,#52b9ff 72%,#52a6ff 76%,#529bff 80%,#5296ff 84%,#5296ff 88%,#5299ff 92%,#5299ff 96%,#5299ff 100%)"></div><div style="background:linear-gradient(90deg,#52eafc 0%,#52eafc 4%,#52eafc 8%,#65ffe6 12%,#7bffd0 16%,#84ffc8 20%,#86ffc5 24%,#81ffca 28%,#7dffce 32%,#7bffd0 36%,#7bffd0 40%,#79ffd2 44%,#76ffd5 48%,#70ffdb 52%,#65ffe6 56%,#53f0f8 60%,#52d4ff 64%,#52bcff 68%,#52a9ff 72%,#529bff 76%,#5293ff 80%,#5290ff 84%,#5293ff 88%,#5296ff 92%,#5296ff 96%,#5296ff 100%)"></div><div style="background:linear-gradient(90deg,#52d2ff 0%,#52d2ff 4%,#52d2ff 8%,#52eafc 12%,#60ffeb 16%,#67ffe4 20%,#69ffe2 24%,#67ffe4 28%,#65ffe6 32%,#63ffe8 36%,#63ffe8 40%,#60ffeb 44%,#5cfbef 48%,#55f2f6 52%,#52e2ff 56%,#52cfff 60%,#52b9ff 64%,#52a4ff 68%,#5299ff 72%,#5290ff 76%,#528eff 80%,#528eff 84%,#5290ff 88%,#5293ff 92%,#5293ff 96%,#5293ff 100%)"></div><div style="background:linear-gradient(90deg,#52b7ff 0%,#52b7ff 4%,#52b7ff 8%,#52c4ff 12%,#52d4ff 16%,#52dfff 20%,#52e5ff 24%,#52e8fe 28%,#52eafc 32%,#52edfa 36%,#52edfa 40%,#52eafc 44%,#52e2ff 48%,#52d4ff 52%,#52c1ff 56%,#52acff 60%,#5299ff 64%,#5288ff 68%,#5283ff 72%,#5283ff 76%,#5288ff 80%,#528eff 84%,#5290ff 88%,#5293ff 92%,#5293ff 96%,#5293ff 100%)"></div><div style="background:linear-gradient(90deg,#52aeff 0%,#52aeff 4%,#52aeff 8%,#52bcff 12%,#52ccff 16%,#52d7ff 20%,#52ddff 24%,#52e2ff 28%,#52e5ff 32%,#52e8fe 36%,#52eafc 40%,#52e8fe 44%,#52ddff 48%,#52cfff 52%,#52bcff 56%,#52a6ff 60%,#5290ff 64%,#5283ff 68%,#527dff 72%,#5280ff 76%,#5286ff 80%,#528eff 84%,#5293ff 88%,#5293ff 92%,#5293ff 96%,#5293ff 100%)"></div><div style="background:linear-gradient(90deg,#52aeff 0%,#52aeff 4%,#52aeff 8%,#52bcff 12%,#52ccff 16%,#52d7ff 20%,#52ddff 24%,#52e2ff 28%,#52e5ff 32%,#52e8fe 36%,#52eafc 40%,#52e8fe 44%,#52ddff 48%,#52cfff 52%,#52bcff 56%,#52a6ff 60%,#5290ff 64%,#5283ff 68%,#527dff 72%,#5280ff 76%,#5286ff 80%,#528eff 84%,#5293ff 88%,#5293ff 92%,#5293ff 96%,#5293ff 100%)"></div><div style="background:linear-gradient(90deg,#52aeff 0%,#52aeff 4%,#52aeff 8%,#52bcff 12%,#52ccff 16%,#52d7ff 20%,#52ddff 24%,#52e2ff 28%,#52e5ff 32%,#52e8fe 36%,#52eafc 40%,#52e8fe 44%,#52ddff 48%,#52cfff 52%,#52bcff 56%,#52a6ff 60%,#5290ff 64%,#5283ff 68%,#527dff 72%,#5280ff 76%,#5286ff 80%,#528eff 84%,#5293ff 88%,#5293ff 92%,#5293ff 96%,#5293ff 100%)"></div><div style="background:linear-gradient(90deg,#52aeff 0%,#52aeff 4%,#52aeff 8%,#52bcff 12%,#52ccff 16%,#52d7ff 20%,#52ddff 24%,#52e2ff 28%,#52e5ff 32%,#52e8fe 36%,#52eafc 40%,#52e8fe 44%,#52ddff 48%,#52cfff 52%,#52bcff 56%,#52a6ff 60%,#5290ff 64%,#5283ff 68%,#527dff 72%,#5280ff 76%,#5286ff 80%,#528eff 84%,#5293ff 88%,#5293ff 92%,#5293ff 96%,#5293ff 100%)"></div><div style="background:linear-gradient(90deg,#52aeff 0%,#52aeff 4%,#52aeff 8%,#52bcff 12%,#52ccff 16%,#52d7ff 20%,#52ddff 24%,#52e2ff 28%,#52e5ff 32%,#52e8fe 36%,#52eafc 40%,#52e8fe 44%,#52ddff 48%,#52cfff 52%,#52bcff 56%,#52a6ff 60%,#5290ff 64%,#5283ff 68%,#527dff 72%,#5280ff 76%,#5286ff 80%,#528eff 84%,#5293ff 88%,#5293ff 92%,#5293ff 96%,#5293ff 100%)"></div></div></div>
<div class="hm" style="left:1099.3px;top:645.6px;width:225px;height:225px"><div class="hmi" style="left:-8px;top:-8px;width:241px"><div style="background:linear-gradient(90deg,#ffb152 0%,#ffb152 4%,#ffb152 8%,#ffaa52 12%,#ffa552 16%,#ffa552 20%,#ffa752 24%,#ffaf52 28%,#ffb652 32%,#ffc152 36%,#ffcd52 40%,#ffd752 44%,#ffe152 48%,#ffee52 52%,#faf852 56%,#edff5e 60%,#ddff6e 64%,#d0ff7b 68%,#c3ff88 72%,#b8ff93 76%,#afff9c 80%,#a7ffa4 84%,#9effad 88%,#99ffb2 92%,#99ffb2 96%,#99ffb2 100%)"></div><div style="background:linear-gradient(90deg,#ffb152 0%,#ffb152 4%,#ffb152 8%,#ffaa52 12%,#ffa552 16%,#ffa552 20%,#ffa752 24%,#ffaf52 28%,#ffb652 32%,#ffc152 36%,#ffcd52 40%,#ffd752 44%,#ffe152 48%,#ffee52 52%,#faf852 56%,#edff5e 60%,#ddff6e 64%,#d0ff7b 68%,#c3ff88 72%,#b8ff93 76%,#afff9c 80%,#a7ffa4 84%,#9effad 88%,#99ffb2 92%,#99ffb2 96%,#99ffb2 100%)"></div><div style="background:linear-gradient(90deg,#ffb152 0%,#ffb152 4%,#ffb152 8%,#ffaa52 12%,#ffa552 16%,#ffa552 20%,#ffa752 24%,#ffaf52 28%,#ffb652 32%,#ffc152 36%,#ffcd52 40%,#ffd752 44%,#ffe152 48%,#ffee52 52%,#faf852 56%,#edff5e 60%,#ddff6e 64%,#d0ff7b 68%,#c3ff88 72%,#b8ff93 76%,#afff9c 80%,#a7ffa4 84%,#9effad 88%,#99ffb2 92%,#99ffb2 96%,#99ffb2 100%)"></div><div style="background:linear-gradient(90deg,#ffb152 0%,#ffb152 4%,#ffb152 8%,#ffaa52 12%,#ffa552 16%,#ffa552 20%,#ffa752 24%,#ffaf52 28%,#ffb652 32%,#ffc152 36%,#ffcd52 40%,#ffd752 44%,#ffe152 48%,#ffee52 52%,#faf852 56%,#edff5e 60%,#ddff6e 64%,#d0ff7b 68%,#c3ff88 72%,#b8ff93 76%,#afff9c 80%,#a7ffa4 84%,#9effad 88%,#99ffb2 92%,#99ffb2 96%,#99ffb2 100%)"></div><div style="background:linear-gradient(90deg,#ffaf52 0%,#ffaf52 4%,#ffaf52 8%,#ffa752 12%,#ffa252 16%,#ffa052 20%,#ffa552 24%,#ffac52 28%,#ffb652 32%,#ffc152 36%,#ffcb52 40%,#ffd752 44%,#ffe152 48%,#ffee52 52%,#f8fa53 56%,#ebff60 60%,#ddff6e 64%,#d0ff7b 68%,#c3ff88 72%,#b8ff93 76%,#afff9c 80%,#a7ffa4 84%,#9effad 88%,#9cffaf 92%,#9cffaf 96%,#9cffaf 100%)"></div><div style="background:linear-gradient(90deg,#ff9852 0%,#ff9852 4%,#ff9852 8%,#ff8952 12%,#ff7d52 16%,#ff7d52 20%,#ff8752 24%,#ff9652 28%,#ffa752 32%,#ffb652 36%,#ffc352 40%,#ffd252 44%,#ffe652 48%,#f8fa53 52%,#e8ff63 56%,#ddff6e 60%,#d2ff79 64%,#caff81 68%,#c1ff8a 72%,#b8ff93 76%,#b2ff99 80%,#a9ffa2 84%,#a2ffa9 88%,#a0ffab 92%,#a0ffab 96%,#a0ffab 100%)"></div><div style="background:linear-gradient(90deg,#ff8952 0%,#ff8952 4%,#ff8952 8%,#ff7052 12%,#ff6152 16%,#ff6352 20%,#ff7252 24%,#ff8752 28%,#ff9b52 32%,#ffac52 36%,#ffbe52 40%,#ffd052 44%,#ffe652 48%,#f6fd55 52%,#e4ff67 56%,#d7ff74 60%,#ceff7d 64%,#c8ff84 68%,#c1ff8a 72%,#b8ff93 76%,#b2ff99 80%,#abffa0 84%,#a4ffa7 88%,#a0ffab 92%,#a0ffab 96%,#a0ffab 100%)"></div><div style="background:linear-gradient(90deg,#ff7d52 0%,#ff7d52 4%,#ff7d52 8%,#ff6152 12%,#ec5252 16%,#ef5252 20%,#ff6352 24%,#ff7a52 28%,#ff9352 32%,#ffa752 36%,#ffb952 40%,#ffcd52 44%,#ffe452 48%,#f6fd55 52%,#e4ff67 56%,#d7ff74 60%,#ceff7d 64%,#c8ff84 68%,#c1ff8a 72%,#b8ff93 76%,#b2ff99 80%,#abffa0 84%,#a4ffa7 88%,#a0ffab 92%,#a0ffab 96%,#a0ffab 100%)"></div><div style="background:linear-gradient(90deg,#ff7852 0%,#ff7852 4%,#ff7852 8%,#f65752 12%,#e05252 16%,#e35252 20%,#f95952 24%,#ff7252 28%,#ff8c52 32%,#ffa252 36%,#ffb652 40%,#ffcb52 44%,#ffe152 48%,#faf852 52%,#e8ff63 56%,#dbff70 60%,#d2ff79 64%,#ccff7f 68%,#c3ff88 72%,#baff91 76%,#b2ff99 80%,#a9ffa2 84%,#a2ffa9 88%,#a0ffab 92%,#a0ffab 96%,#a0ffab 100%)"></div><div style="background:linear-gradient(90deg,#ff7252 0%,#ff7252 4%,#ff7252 8%,#f25452 12%,#da5252 16%,#dd5252 20%,#f25452 24%,#ff6d52 28%,#ff8952 32%,#ffa252 36%,#ffb652 40%,#ffcb52 44%,#ffdf52 48%,#fef352 52%,#efff5c 56%,#e4ff67 60%,#d9ff72 64%,#ceff7d 68%,#c3ff88 72%,#baff91 76%,#afff9c 80%,#a7ffa4 84%,#a0ffab 88%,#9cffaf 92%,#9cffaf 96%,#9cffaf 100%)"></div><div style="background:linear-gradient(90deg,#ff7052 0%,#ff7052 4%,#ff7052 8%,#f25452 12%,#da5252 16%,#dd5252 20%,#ef5252 24%,#ff6b52 28%,#ff8752 32%,#ffa052 36%,#ffb652 40%,#ffcb52 44%,#ffdc52 48%,#ffee52 52%,#f8fa53 56%,#ebff60 60%,#e0ff6b 64%,#d2ff79 68%,#c5ff86 72%,#b8ff93 76%,#adff9e 80%,#a2ffa9 84%,#9cffaf 88%,#97ffb4 92%,#97ffb4 96%,#97ffb4 100%)"></div><div style="background:linear-gradient(90deg,#ff7052 0%,#ff7052 4%,#ff7052 8%,#f25452 12%,#dd5252 16%,#e05252 20%,#f25452 24%,#ff6b52 28%,#ff8752 32%,#ffa052 36%,#ffb952 40%,#ffcb52 44%,#ffda52 48%,#ffe952 52%,#fcf552 56%,#f1ff5a 60%,#e4ff67 64%,#d5ff76 68%,#c5ff86 72%,#b8ff93 76%,#abffa0 80%,#9effad 84%,#97ffb4 88%,#93ffb8 92%,#93ffb8 96%,#93ffb8 100%)"></div><div style="background:linear-gradient(90deg,#ff7052 0%,#ff7052 4%,#ff7052 8%,#f95952 12%,#e65252 16%,#e65252 20%,#f95952 24%,#ff6d52 28%,#ff8952 32%,#ffa252 36%,#ffb952 40%,#ffcd52 44%,#ffda52 48%,#ffe652 52%,#fff052 56%,#f3ff58 60%,#e6ff65 64%,#d7ff74 68%,#c5ff86 72%,#b6ff95 76%,#a7ffa4 80%,#99ffb2 84%,#93ffb8 88%,#8effbd 92%,#8effbd 96%,#8effbd 100%)"></div><div style="background:linear-gradient(90deg,#ff7252 0%,#ff7252 4%,#ff7252 8%,#ff5e52 12%,#ef5252 16%,#ef5252 20%,#ff5e52 24%,#ff7252 28%,#ff8c52 32%,#ffa552 36%,#ffbc52 40%,#ffd052 44%,#ffdf52 48%,#ffe952 52%,#fcf552 56%,#f1ff5a 60%,#e4ff67 64%,#d2ff79 68%,#c3ff88 72%,#b2ff99 76%,#a2ffa9 80%,#95ffb6 84%,#8cffbf 88%,#8affc1 92%,#8affc1 96%,#8affc1 100%)"></div><div style="background:linear-gradient(90deg,#ff7252 0%,#ff7252 4%,#ff7252 8%,#ff6152 12%,#f65752 16%,#f95952 20%,#ff6652 24%,#ff7a52 28%,#ff9152 32%,#ffa752 36%,#ffbe52 40%,#ffd252 44%,#ffe452 48%,#fef352 52%,#f3ff58 56%,#e8ff63 60%,#dbff70 64%,#ceff7d 68%,#bdff8e 72%,#adff9e 76%,#9effad 80%,#91ffba 84%,#88ffc3 88%,#88ffc3 92%,#88ffc3 96%,#88ffc3 100%)"></div><div style="background:linear-gradient(90deg,#ff7052 0%,#ff7052 4%,#ff7052 8%,#ff6352 12%,#ff5e52 16%,#ff6152 20%,#ff6d52 24%,#ff7f52 28%,#ff9352 32%,#ffaa52 36%,#ffc152 40%,#ffd752 44%,#ffee52 48%,#efff5c 52%,#e0ff6b 56%,#d5ff76 60%,#ccff7f 64%,#c1ff8a 68%,#b4ff97 72%,#a7ffa4 76%,#97ffb4 80%,#8cffbf 84%,#86ffc5 88%,#84ffc8 92%,#84ffc8 96%,#84ffc8 100%)"></div><div style="background:linear-gradient(90deg,#ff6d52 0%,#ff6d52 4%,#ff6d52 8%,#ff6352 12%,#ff6152 16%,#ff6652 20%,#ff7552 24%,#ff8752 28%,#ff9b52 32%,#ffac52 36%,#ffc352 40%,#ffdc52 44%,#f6fd55 48%,#d9ff72 52%,#c3ff88 56%,#b8ff93 60%,#b6ff95 64%,#b2ff99 68%,#a9ffa2 72%,#9effad 76%,#93ffb8 80%,#88ffc3 84%,#84ffc8 88%,#81ffca 92%,#81ffca 96%,#81ffca 100%)"></div><div style="background:linear-gradient(90deg,#ff6b52 0%,#ff6b52 4%,#ff6b52 8%,#ff6152 12%,#ff6152 16%,#ff6b52 20%,#ff7a52 24%,#ff8e52 28%,#ffa052 32%,#ffaf52 36%,#ffc352 40%,#ffe152 44%,#e6ff65 48%,#bdff8e 52%,#9effad 56%,#95ffb6 60%,#97ffb4 64%,#9cffaf 68%,#99ffb2 72%,#93ffb8 76%,#8affc1 80%,#84ffc8 84%,#7fffcc 88%,#81ffca 92%,#81ffca 96%,#81ffca 100%)"></div><div style="background:linear-gradient(90deg,#ff6652 0%,#ff6652 4%,#ff6652 8%,#ff5e52 12%,#ff6152 16%,#ff6d52 20%,#ff7f52 24%,#ff9352 28%,#ffa552 32%,#ffb452 36%,#ffc652 40%,#ffe952 44%,#d5ff76 48%,#9effad 52%,#79ffd2 56%,#6effdd 60%,#76ffd5 64%,#84ffc8 68%,#88ffc3 72%,#86ffc5 76%,#81ffca 80%,#7dffce 84%,#7bffd0 88%,#7dffce 92%,#7dffce 96%,#7dffce 100%)"></div><div style="background:linear-gradient(90deg,#ff6352 0%,#ff6352 4%,#ff6352 8%,#ff5e52 12%,#ff6352 16%,#ff7252 20%,#ff8752 24%,#ff9b52 28%,#ffac52 32%,#ffb652 36%,#ffc852 40%,#fff052 44%,#c5ff86 48%,#84ffc8 52%,#53f0f8 56%,#52e5ff 60%,#58f5f3 64%,#6bffe0 68%,#74ffd7 72%,#76ffd5 76%,#74ffd7 80%,#72ffd9 84%,#72ffd9 88%,#79ffd2 92%,#79ffd2 96%,#79ffd2 100%)"></div><div style="background:linear-gradient(90deg,#ff6152 0%,#ff6152 4%,#ff6152 8%,#ff5e52 12%,#ff6652 16%,#ff7552 20%,#ff8c52 24%,#ffa052 28%,#ffb152 32%,#ffbc52 36%,#ffcd52 40%,#faf852 44%,#b8ff93 48%,#6bffe0 52%,#52ccff 56%,#52bfff 60%,#52d4ff 64%,#53f0f8 68%,#5efded 72%,#63ffe8 76%,#63ffe8 80%,#63ffe8 84%,#67ffe4 88%,#6effdd 92%,#6effdd 96%,#6effdd 100%)"></div><div style="background:linear-gradient(90deg,#ff6652 0%,#ff6652 4%,#ff6652 8%,#ff6352 12%,#ff6b52 16%,#ff7a52 20%,#ff9152 24%,#ffa752 28%,#ffb652 32%,#ffc352 36%,#ffd252 40%,#f3ff58 44%,#adff9e 48%,#5efded 52%,#52b7ff 56%,#52a6ff 60%,#52bcff 64%,#52d7ff 68%,#52e5ff 72%,#52e8fe 76%,#52e5ff 80%,#52e5ff 84%,#53f0f8 88%,#5efded 92%,#5efded 96%,#5efded 100%)"></div><div style="background:linear-gradient(90deg,#ff6d52 0%,#ff6d52 4%,#ff6d52 8%,#ff6b52 12%,#ff7252 16%,#ff8252 20%,#ff9652 24%,#ffac52 28%,#ffbe52 32%,#ffc852 36%,#ffdc52 40%,#edff5e 44%,#a7ffa4 48%,#5af8f1 52%,#52b1ff 56%,#52a1ff 60%,#52aeff 64%,#52c1ff 68%,#52caff 72%,#52c7ff 76%,#52c1ff 80%,#52c1ff 84%,#52cfff 88%,#52e2ff 92%,#52e2ff 96%,#52e2ff 100%)"></div><div style="background:linear-gradient(90deg,#ff7852 0%,#ff7852 4%,#ff7852 8%,#ff7552 12%,#ff7d52 16%,#ff8c52 20%,#ff9d52 24%,#ffb152 28%,#ffc352 32%,#ffd052 36%,#ffe452 40%,#e6ff65 44%,#a7ffa4 48%,#5efded 52%,#52bcff 56%,#52a4ff 60%,#52a9ff 64%,#52b1ff 68%,#52aeff 72%,#52a4ff 76%,#529bff 80%,#529bff 84%,#52a9ff 88%,#52c1ff 92%,#52c1ff 96%,#52c1ff 100%)"></div><div style="background:linear-gradient(90deg,#ff8452 0%,#ff8452 4%,#ff8452 8%,#ff8452 12%,#ff8952 16%,#ff9652 20%,#ffa552 24%,#ffb652 28%,#ffc852 32%,#ffd752 36%,#ffee52 40%,#e0ff6b 44%,#a7ffa4 48%,#69ffe2 52%,#52ccff 56%,#52b1ff 60%,#52a9ff 64%,#52a6ff 68%,#5296ff 72%,#5283ff 76%,#5275ff 80%,#5273ff 84%,#5286ff 88%,#52a1ff 92%,#52a1ff 96%,#52a1ff 100%)"></div><div style="background:linear-gradient(90deg,#ff9152 0%,#ff9152 4%,#ff9152 8%,#ff9152 12%,#ff9652 16%,#ffa052 20%,#ffac52 24%,#ffbc52 28%,#ffcd52 32%,#ffdf52 36%,#faf852 40%,#d9ff72 44%,#abffa0 48%,#76ffd5 52%,#52e5ff 56%,#52c1ff 60%,#52aeff 64%,#529bff 68%,#5280ff 72%,#5265ff 76%,#5252ff 80%,#5252ff 84%,#5262ff 88%,#5283ff 92%,#5283ff 96%,#5283ff 100%)"></div><div style="background:linear-gradient(90deg,#ffa052 0%,#ffa052 4%,#ffa052 8%,#ffa052 12%,#ffa552 16%,#ffac52 20%,#ffb652 24%,#ffc352 28%,#ffd252 32%,#ffe652 36%,#f3ff58 40%,#d5ff76 44%,#adff9e 48%,#81ffca 52%,#5af8f1 56%,#52d2ff 60%,#52b1ff 64%,#5290ff 68%,#526dff 72%,#5252ff 76%,#5252e9 80%,#5252e6 84%,#5252ff 88%,#5268ff 92%,#5268ff 96%,#5268ff 100%)"></div><div style="background:linear-gradient(90deg,#ffac52 0%,#ffac52 4%,#ffac52 8%,#ffaf52 12%,#ffb152 16%,#ffb652 20%,#ffc152 24%,#ffcb52 28%,#ffda52 32%,#ffee52 36%,#edff5e 40%,#d0ff7b 44%,#afff9c 48%,#8cffbf 52%,#67ffe4 56%,#52ddff 60%,#52b1ff 64%,#5286ff 68%,#525dff 72%,#5252ef 76%,#5252d7 80%,#5252d4 84%,#5252ec 88%,#525aff 92%,#525aff 96%,#525aff 100%)"></div><div style="background:linear-gradient(90deg,#ffb652 0%,#ffb652 4%,#ffb652 8%,#ffb952 12%,#ffbe52 16%,#ffc352 20%,#ffcb52 24%,#ffd552 28%,#ffe452 32%,#fcf552 36%,#e6ff65 40%,#ceff7d 44%,#b2ff99 48%,#93ffb8 52%,#6effdd 56%,#52dfff 60%,#52aeff 64%,#527dff 68%,#5252ff 72%,#5252e3 76%,#5252cd 80%,#5252cd 84%,#5252e9 88%,#5252ff 92%,#5252ff 96%,#5252ff 100%)"></div><div style="background:linear-gradient(90deg,#ffc152 0%,#ffc152 4%,#ffc152 8%,#ffc652 12%,#ffcb52 16%,#ffd052 20%,#ffd552 24%,#ffdf52 28%,#ffeb52 32%,#f6fd55 36%,#e2ff69 40%,#ccff7f 44%,#b2ff99 48%,#95ffb6 52%,#70ffdb 56%,#52dfff 60%,#52a6ff 64%,#5273ff 68%,#5252ff 72%,#5252e0 76%,#5252cd 80%,#5252d0 84%,#5252ec 88%,#5252ff 92%,#5252ff 96%,#5252ff 100%)"></div><div style="background:linear-gradient(90deg,#ffc852 0%,#ffc852 4%,#ffc852 8%,#ffd052 12%,#ffd552 16%,#ffda52 20%,#ffe152 24%,#ffe952 28%,#fcf552 32%,#efff5c 36%,#ddff6e 40%,#c8ff84 44%,#afff9c 48%,#93ffb8 52%,#6effdd 56%,#52daff 60%,#529eff 64%,#526aff 68%,#5252fc 72%,#5252e0 76%,#5252d4 80%,#5252dd 84%,#5252f6 88%,#5257ff 92%,#5257ff 96%,#5257ff 100%)"></div><div style="background:linear-gradient(90deg,#ffd252 0%,#ffd252 4%,#ffd252 8%,#ffd752 12%,#ffdf52 16%,#ffe652 20%,#ffeb52 24%,#fcf552 28%,#f3ff58 32%,#e6ff65 36%,#d7ff74 40%,#c3ff88 44%,#abffa0 48%,#8effbd 52%,#69ffe2 56%,#52cfff 60%,#5296ff 64%,#5262ff 68%,#5252f6 72%,#5252e3 76%,#5252dd 80%,#5252e9 84%,#5252ff 88%,#525dff 92%,#525dff 96%,#525dff 100%)"></div><div style="background:linear-gradient(90deg,#ffd752 0%,#ffd752 4%,#ffd752 8%,#ffdf52 12%,#ffe952 16%,#fff052 20%,#faf852 24%,#f3ff58 28%,#ebff60 32%,#ddff6e 36%,#d0ff7b 40%,#bdff8e 44%,#a4ffa7 48%,#86ffc5 52%,#5efded 56%,#52c4ff 60%,#528bff 64%,#525dff 68%,#5252f6 72%,#5252e6 76%,#5252e9 80%,#5252f6 84%,#5252ff 88%,#5262ff 92%,#5262ff 96%,#5262ff 100%)"></div><div style="background:linear-gradient(90deg,#ffdf52 0%,#ffdf52 4%,#ffdf52 8%,#ffe952 12%,#fef352 16%,#f8fa53 20%,#f1ff5a 24%,#e8ff63 28%,#e0ff6b 32%,#d5ff76 36%,#c5ff86 40%,#b4ff97 44%,#99ffb2 48%,#7bffd0 52%,#53f0f8 56%,#52b9ff 60%,#5283ff 64%,#5257ff 68%,#5252f6 72%,#5252ec 76%,#5252ef 80%,#5252ff 84%,#5257ff 88%,#5265ff 92%,#5265ff 96%,#5265ff 100%)"></div><div style="background:linear-gradient(90deg,#ffe652 0%,#ffe652 4%,#ffe652 8%,#fff052 12%,#f8fa53 16%,#efff5c 20%,#e6ff65 24%,#ddff6e 28%,#d5ff76 32%,#caff81 36%,#baff91 40%,#a7ffa4 44%,#8cffbf 48%,#6bffe0 52%,#52ddff 56%,#52a9ff 60%,#5278ff 64%,#5255ff 68%,#5252f6 72%,#5252ef 76%,#5252f6 80%,#5252ff 84%,#525aff 88%,#5268ff 92%,#5268ff 96%,#5268ff 100%)"></div><div style="background:linear-gradient(90deg,#ffee52 0%,#ffee52 4%,#ffee52 8%,#faf852 12%,#efff5c 16%,#e4ff67 20%,#dbff70 24%,#d2ff79 28%,#c8ff84 32%,#bdff8e 36%,#adff9e 40%,#97ffb4 44%,#7bffd0 48%,#5af8f1 52%,#52caff 56%,#529bff 60%,#5270ff 64%,#5252ff 68%,#5252f6 72%,#5252f2 76%,#5252f9 80%,#5252ff 84%,#525aff 88%,#5265ff 92%,#5265ff 96%,#5265ff 100%)"></div><div style="background:linear-gradient(90deg,#faf852 0%,#faf852 4%,#faf852 8%,#f1ff5a 12%,#e4ff67 16%,#d9ff72 20%,#d0ff7b 24%,#c5ff86 28%,#b8ff93 32%,#abffa0 36%,#9cffaf 40%,#86ffc5 44%,#69ffe2 48%,#52dfff 52%,#52b4ff 56%,#528bff 60%,#5268ff 64%,#5252ff 68%,#5252f9 72%,#5252f6 76%,#5252f9 80%,#5252ff 84%,#525aff 88%,#5262ff 92%,#5262ff 96%,#5262ff 100%)"></div><div style="background:linear-gradient(90deg,#f1ff5a 0%,#f1ff5a 4%,#f1ff5a 8%,#e6ff65 12%,#d9ff72 16%,#ccff7f 20%,#c1ff8a 24%,#b4ff97 28%,#a7ffa4 32%,#99ffb2 36%,#88ffc3 40%,#70ffdb 44%,#53f0f8 48%,#52c7ff 52%,#529eff 56%,#527bff 60%,#5260ff 64%,#5252ff 68%,#5252f9 72%,#5252f6 76%,#5252f9 80%,#5252ff 84%,#5255ff 88%,#5260ff 92%,#5260ff 96%,#5260ff 100%)"></div><div style="background:linear-gradient(90deg,#e4ff67 0%,#e4ff67 4%,#e4ff67 8%,#d9ff72 12%,#ccff7f 16%,#bfff8c 20%,#afff9c 24%,#a2ffa9 28%,#93ffb8 32%,#84ffc8 36%,#70ffdb 40%,#5af8f1 44%,#52d2ff 48%,#52acff 52%,#5288ff 56%,#526aff 60%,#5257ff 64%,#5252ff 68%,#5252f9 72%,#5252f6 76%,#5252f6 80%,#5252fc 84%,#5252ff 88%,#5257ff 92%,#5257ff 96%,#5257ff 100%)"></div><div style="background:linear-gradient(90deg,#d2ff79 0%,#d2ff79 4%,#d2ff79 8%,#caff81 12%,#baff91 16%,#abffa0 20%,#9cffaf 24%,#8cffbf 28%,#7bffd0 32%,#69ffe2 36%,#55f2f6 40%,#52d4ff 44%,#52b4ff 48%,#528eff 52%,#5270ff 56%,#525aff 60%,#5252ff 64%,#5252fc 68%,#5252f6 72%,#5252f2 76%,#5252f2 80%,#5252f6 84%,#5252ff 88%,#5252ff 92%,#5252ff 96%,#5252ff 100%)"></div><div style="background:linear-gradient(90deg,#c1ff8a 0%,#c1ff8a 4%,#c1ff8a 8%,#b6ff95 12%,#a7ffa4 16%,#95ffb6 20%,#84ffc8 24%,#72ffd9 28%,#5efded 32%,#52e8fe 36%,#52ccff 40%,#52b1ff 44%,#5290ff 48%,#5273ff 52%,#525aff 56%,#5252ff 60%,#5252fc 64%,#5252f6 68%,#5252f2 72%,#5252ef 76%,#5252ec 80%,#5252ef 84%,#5252f9 88%,#5252ff 92%,#5252ff 96%,#5252ff 100%)"></div><div style="background:linear-gradient(90deg,#a9ffa2 0%,#a9ffa2 4%,#a9ffa2 8%,#9effad 12%,#8cffbf 16%,#7bffd0 20%,#67ffe4 24%,#53f0f8 28%,#52d7ff 32%,#52bcff 36%,#52a4ff 40%,#5288ff 44%,#526dff 48%,#5255ff 52%,#5252fc 56%,#5252f2 60%,#5252ef 64%,#5252ec 68%,#5252ec 72%,#5252e9 76%,#5252e6 80%,#5252e9 84%,#5252f2 88%,#5252f9 92%,#5252f9 96%,#5252f9 100%)"></div><div style="background:linear-gradient(90deg,#8cffbf 0%,#8cffbf 4%,#8cffbf 8%,#81ffca 12%,#70ffdb 16%,#5cfbef 20%,#52dfff 24%,#52c4ff 28%,#52a6ff 32%,#528bff 36%,#5273ff 40%,#525dff 44%,#5252ff 48%,#5252ef 52%,#5252e6 56%,#5252e0 60%,#5252e0 64%,#5252e3 68%,#5252e0 72%,#5252e0 76%,#5252e0 80%,#5252e3 84%,#5252e9 88%,#5252ef 92%,#5252ef 96%,#5252ef 100%)"></div><div style="background:linear-gradient(90deg,#69ffe2 0%,#69ffe2 4%,#69ffe2 8%,#60ffeb 12%,#52e8fe 16%,#52ccff 20%,#52aeff 24%,#5290ff 28%,#5273ff 32%,#5255ff 36%,#5252f6 40%,#5252e3 44%,#5252d7 48%,#5252d4 52%,#5252d0 56%,#5252d0 60%,#5252d0 64%,#5252d4 68%,#5252d4 72%,#5252d7 76%,#5252da 80%,#5252dd 84%,#5252e3 88%,#5252e9 92%,#5252e9 96%,#5252e9 100%)"></div><div style="background:linear-gradient(90deg,#63ffe8 0%,#63ffe8 4%,#63ffe8 8%,#58f5f3 12%,#52dfff 16%,#52c1ff 20%,#52a4ff 24%,#5283ff 28%,#5265ff 32%,#5252ff 36%,#5252e9 40%,#5252d7 44%,#5252cd 48%,#5252cd 52%,#5252cd 56%,#5252cd 60%,#5252cd 64%,#5252cd 68%,#5252d0 72%,#5252d4 76%,#5252d7 80%,#5252dd 84%,#5252e3 88%,#5252e6 92%,#5252e6 96%,#5252e6 100%)"></div><div style="background:linear-gradient(90deg,#63ffe8 0%,#63ffe8 4%,#63ffe8 8%,#58f5f3 12%,#52dfff 16%,#52c1ff 20%,#52a4ff 24%,#5283ff 28%,#5265ff 32%,#5252ff 36%,#5252e9 40%,#5252d7 44%,#5252cd 48%,#5252cd 52%,#5252cd 56%,#5252cd 60%,#5252cd 64%,#5252cd 68%,#5252d0 72%,#5252d4 76%,#5252d7 80%,#5252dd 84%,#5252e3 88%,#5252e6 92%,#5252e6 96%,#5252e6 100%)"></div><div style="background:linear-gradient(90deg,#63ffe8 0%,#63ffe8 4%,#63ffe8 8%,#58f5f3 12%,#52dfff 16%,#52c1ff 20%,#52a4ff 24%,#5283ff 28%,#5265ff 32%,#5252ff 36%,#5252e9 40%,#5252d7 44%,#5252cd 48%,#5252cd 52%,#5252cd 56%,#5252cd 60%,#5252cd 64%,#5252cd 68%,#5252d0 72%,#5252d4 76%,#5252d7 80%,#5252dd 84%,#5252e3 88%,#5252e6 92%,#5252e6 96%,#5252e6 100%)"></div><div style="background:linear-gradient(90deg,#63ffe8 0%,#63ffe8 4%,#63ffe8 8%,#58f5f3 12%,#52dfff 16%,#52c1ff 20%,#52a4ff 24%,#5283ff 28%,#5265ff 32%,#5252ff 36%,#5252e9 40%,#5252d7 44%,#5252cd 48%,#5252cd 52%,#5252cd 56%,#5252cd 60%,#5252cd 64%,#5252cd 68%,#5252d0 72%,#5252d4 76%,#5252d7 80%,#5252dd 84%,#5252e3 88%,#5252e6 92%,#5252e6 96%,#5252e6 100%)"></div><div style="background:linear-gradient(90deg,#63ffe8 0%,#63ffe8 4%,#63ffe8 8%,#58f5f3 12%,#52dfff 16%,#52c1ff 20%,#52a4ff 24%,#5283ff 28%,#5265ff 32%,#5252ff 36%,#5252e9 40%,#5252d7 44%,#5252cd 48%,#5252cd 52%,#5252cd 56%,#5252cd 60%,#5252cd 64%,#5252cd 68%,#5252d0 72%,#5252d4 76%,#5252d7 80%,#5252dd 84%,#5252e3 88%,#5252e6 92%,#5252e6 96%,#5252e6 100%)"></div></div></div>
<div class="hm" style="left:157px;top:962.4px;width:225px;height:225px"><div class="hmi" style="left:-8px;top:-8px;width:241px"><div style="background:linear-gradient(90deg,#5252ff 0%,#5252ff 4%,#5252ff 8%,#5252ef 12%,#5252dd 16%,#5252d7 20%,#5252da 24%,#5252e3 28%,#5252f2 32%,#5252ff 36%,#5260ff 40%,#5275ff 44%,#528eff 48%,#52a9ff 52%,#52bfff 56%,#52cfff 60%,#52daff 64%,#52dfff 68%,#52e2ff 72%,#52daff 76%,#52c4ff 80%,#529bff 84%,#525dff 88%,#5252d7 92%,#5252d7 96%,#5252d7 100%)"></div><div style="background:linear-gradient(90deg,#5252ff 0%,#5252ff 4%,#5252ff 8%,#5252ef 12%,#5252dd 16%,#5252d7 20%,#5252da 24%,#5252e3 28%,#5252f2 32%,#5252ff 36%,#5260ff 40%,#5275ff 44%,#528eff 48%,#52a9ff 52%,#52bfff 56%,#52cfff 60%,#52daff 64%,#52dfff 68%,#52e2ff 72%,#52daff 76%,#52c4ff 80%,#529bff 84%,#525dff 88%,#5252d7 92%,#5252d7 96%,#5252d7 100%)"></div><div style="background:linear-gradient(90deg,#5252ff 0%,#5252ff 4%,#5252ff 8%,#5252ef 12%,#5252dd 16%,#5252d7 20%,#5252da 24%,#5252e3 28%,#5252f2 32%,#5252ff 36%,#5260ff 40%,#5275ff 44%,#528eff 48%,#52a9ff 52%,#52bfff 56%,#52cfff 60%,#52daff 64%,#52dfff 68%,#52e2ff 72%,#52daff 76%,#52c4ff 80%,#529bff 84%,#525dff 88%,#5252d7 92%,#5252d7 96%,#5252d7 100%)"></div><div style="background:linear-gradient(90deg,#5252ff 0%,#5252ff 4%,#5252ff 8%,#5252ef 12%,#5252dd 16%,#5252d7 20%,#5252da 24%,#5252e3 28%,#5252f2 32%,#5252ff 36%,#5260ff 40%,#5275ff 44%,#528eff 48%,#52a9ff 52%,#52bfff 56%,#52cfff 60%,#52daff 64%,#52dfff 68%,#52e2ff 72%,#52daff 76%,#52c4ff 80%,#529bff 84%,#525dff 88%,#5252d7 92%,#5252d7 96%,#5252d7 100%)"></div><div style="background:linear-gradient(90deg,#5252ff 0%,#5252ff 4%,#5252ff 8%,#5252ef 12%,#5252dd 16%,#5252d7 20%,#5252da 24%,#5252e3 28%,#5252f2 32%,#5252ff 36%,#5262ff 40%,#5278ff 44%,#5290ff 48%,#52a9ff 52%,#52bfff 56%,#52cfff 60%,#52daff 64%,#52dfff 68%,#52e2ff 72%,#52daff 76%,#52c4ff 80%,#529eff 84%,#5260ff 88%,#5252dd 92%,#5252dd 96%,#5252dd 100%)"></div><div style="background:linear-gradient(90deg,#5252f6 0%,#5252f6 4%,#5252f6 8%,#5252ec 12%,#5252e0 16%,#5252d4 20%,#5252d0 24%,#5252d4 28%,#5252e6 32%,#5252ff 36%,#5273ff 40%,#5293ff 44%,#52aeff 48%,#52c1ff 52%,#52cfff 56%,#52d7ff 60%,#52ddff 64%,#52e2ff 68%,#52e5ff 72%,#52dfff 76%,#52d2ff 80%,#52b7ff 84%,#5286ff 88%,#5257ff 92%,#5257ff 96%,#5257ff 100%)"></div><div style="background:linear-gradient(90deg,#5252e9 0%,#5252e9 4%,#5252e9 8%,#5252e9 12%,#5252e0 16%,#5252d0 20%,#5252ca 24%,#5252ca 28%,#5252e0 32%,#5252ff 36%,#5280ff 40%,#52acff 44%,#52caff 48%,#52d7ff 52%,#52dfff 56%,#52e5ff 60%,#52e5ff 64%,#52e8fe 68%,#52eafc 72%,#52e8fe 76%,#52ddff 80%,#52c1ff 84%,#5296ff 88%,#526dff 92%,#526dff 96%,#526dff 100%)"></div><div style="background:linear-gradient(90deg,#5252e0 0%,#5252e0 4%,#5252e0 8%,#5252e3 12%,#5252dd 16%,#5252d0 20%,#5252c4 24%,#5252c7 28%,#5252e0 32%,#5257ff 36%,#528eff 40%,#52c1ff 44%,#52dfff 48%,#52edfa 52%,#53f0f8 56%,#55f2f6 60%,#55f2f6 64%,#55f2f6 68%,#55f2f6 72%,#53f0f8 76%,#52e2ff 80%,#52caff 84%,#529bff 88%,#5270ff 92%,#5270ff 96%,#5270ff 100%)"></div><div style="background:linear-gradient(90deg,#5252d7 0%,#5252d7 4%,#5252d7 8%,#5252dd 12%,#5252d7 16%,#5252cd 20%,#5252c4 24%,#5252c7 28%,#5252e3 32%,#5260ff 36%,#529eff 40%,#52d4ff 44%,#55f2f6 48%,#60ffeb 52%,#63ffe8 56%,#63ffe8 60%,#63ffe8 64%,#60ffeb 68%,#60ffeb 72%,#5cfbef 76%,#52eafc 80%,#52caff 84%,#5293ff 88%,#5262ff 92%,#5262ff 96%,#5262ff 100%)"></div><div style="background:linear-gradient(90deg,#5252d0 0%,#5252d0 4%,#5252d0 8%,#5252d7 12%,#5252d4 16%,#5252ca 20%,#5252c4 24%,#5252ca 28%,#5252ec 32%,#526aff 36%,#52acff 40%,#52e5ff 44%,#65ffe6 48%,#6effdd 52%,#70ffdb 56%,#72ffd9 60%,#70ffdb 64%,#70ffdb 68%,#6effdd 72%,#65ffe6 76%,#53f0f8 80%,#52c7ff 84%,#5288ff 88%,#5252ff 92%,#5252ff 96%,#5252ff 100%)"></div><div style="background:linear-gradient(90deg,#5252cd 0%,#5252cd 4%,#5252cd 8%,#5252d0 12%,#5252cd 16%,#5252c7 20%,#5252c4 24%,#5252d4 28%,#5252f6 32%,#5275ff 36%,#52b9ff 40%,#55f2f6 44%,#72ffd9 48%,#7dffce 52%,#7fffcc 56%,#81ffca 60%,#81ffca 64%,#81ffca 68%,#7dffce 72%,#72ffd9 76%,#5af8f1 80%,#52c4ff 84%,#5278ff 88%,#5252e9 92%,#5252e9 96%,#5252e9 100%)"></div><div style="background:linear-gradient(90deg,#5252ca 0%,#5252ca 4%,#5252ca 8%,#5252ca 12%,#5252c7 16%,#5252c4 20%,#5252c7 24%,#5252da 28%,#5252ff 32%,#5283ff 36%,#52c7ff 40%,#60ffeb 44%,#7dffce 48%,#8affc1 52%,#8effbd 56%,#93ffb8 60%,#95ffb6 64%,#95ffb6 68%,#8effbd 72%,#7fffcc 76%,#63ffe8 80%,#52c4ff 84%,#526aff 88%,#5252cd 92%,#5252cd 96%,#5252cd 100%)"></div><div style="background:linear-gradient(90deg,#5252c7 0%,#5252c7 4%,#5252c7 8%,#5252c4 12%,#5252c1 16%,#5252c1 20%,#5252cd 24%,#5252e6 28%,#5257ff 32%,#5290ff 36%,#52d4ff 40%,#6bffe0 44%,#88ffc3 48%,#97ffb4 52%,#9effad 56%,#a7ffa4 60%,#abffa0 64%,#abffa0 68%,#a4ffa7 72%,#91ffba 76%,#6effdd 80%,#52caff 84%,#5262ff 88%,#5252bb 92%,#5252bb 96%,#5252bb 100%)"></div><div style="background:linear-gradient(90deg,#5252c4 0%,#5252c4 4%,#5252c4 8%,#5252c1 12%,#5252be 16%,#5252c1 20%,#5252d0 24%,#5252ef 28%,#5265ff 32%,#529eff 36%,#52dfff 40%,#74ffd7 44%,#93ffb8 48%,#a4ffa7 52%,#afff9c 56%,#baff91 60%,#c1ff8a 64%,#c3ff88 68%,#bdff8e 72%,#a7ffa4 76%,#7dffce 80%,#52d7ff 84%,#5265ff 88%,#5252b5 92%,#5252b5 96%,#5252b5 100%)"></div><div style="background:linear-gradient(90deg,#5252c4 0%,#5252c4 4%,#5252c4 8%,#5252be 12%,#5252b8 16%,#5252c1 20%,#5252d7 24%,#5252fc 28%,#5270ff 32%,#52acff 36%,#52edfa 40%,#7dffce 44%,#9cffaf 48%,#afff9c 52%,#c1ff8a 56%,#ceff7d 60%,#dbff70 64%,#e0ff6b 68%,#d7ff74 72%,#bfff8c 76%,#93ffb8 80%,#52edfa 84%,#5278ff 88%,#5252c4 92%,#5252c4 96%,#5252c4 100%)"></div><div style="background:linear-gradient(90deg,#5252c7 0%,#5252c7 4%,#5252c7 8%,#5252bb 12%,#5252b8 16%,#5252c1 20%,#5252dd 24%,#5252ff 28%,#527dff 32%,#52b9ff 36%,#5af8f1 40%,#88ffc3 44%,#a7ffa4 48%,#bfff8c 52%,#d0ff7b 56%,#e4ff67 60%,#f6fd55 64%,#fcf552 68%,#f3ff58 72%,#ddff6e 76%,#afff9c 80%,#6bffe0 84%,#5299ff 88%,#5252ec 92%,#5252ec 96%,#5252ec 100%)"></div><div style="background:linear-gradient(90deg,#5252c7 0%,#5252c7 4%,#5252c7 8%,#5252bb 12%,#5252b8 16%,#5252c4 20%,#5252e0 24%,#5255ff 28%,#5286ff 32%,#52c4ff 36%,#63ffe8 40%,#91ffba 44%,#b2ff99 48%,#ccff7f 52%,#e2ff69 56%,#faf852 60%,#ffdf52 64%,#ffd552 68%,#ffda52 72%,#fef352 76%,#d2ff79 80%,#93ffb8 84%,#52d2ff 88%,#5278ff 92%,#5278ff 96%,#5278ff 100%)"></div><div style="background:linear-gradient(90deg,#5252ca 0%,#5252ca 4%,#5252ca 8%,#5252bb 12%,#5252b8 16%,#5252c7 20%,#5252e6 24%,#525aff 28%,#528eff 32%,#52ccff 36%,#6bffe0 40%,#99ffb2 44%,#bdff8e 48%,#d7ff74 52%,#f3ff58 56%,#ffdf52 60%,#ffc352 64%,#ffb152 68%,#ffb452 72%,#ffcb52 76%,#fcf552 80%,#c1ff8a 84%,#74ffd7 88%,#52ccff 92%,#52ccff 96%,#52ccff 100%)"></div><div style="background:linear-gradient(90deg,#5252ca 0%,#5252ca 4%,#5252ca 8%,#5252be 12%,#5252bb 16%,#5252ca 20%,#5252e9 24%,#5260ff 28%,#5293ff 32%,#52d2ff 36%,#70ffdb 40%,#9effad 44%,#c3ff88 48%,#e0ff6b 52%,#fef352 56%,#ffcd52 60%,#ffaa52 64%,#ff9352 68%,#ff9152 72%,#ffa552 76%,#ffcb52 80%,#f1ff5a 84%,#b2ff99 88%,#81ffca 92%,#81ffca 96%,#81ffca 100%)"></div><div style="background:linear-gradient(90deg,#5252cd 0%,#5252cd 4%,#5252cd 8%,#5252c1 12%,#5252be 16%,#5252cd 20%,#5252ec 24%,#5260ff 28%,#5296ff 32%,#52d2ff 36%,#70ffdb 40%,#9effad 44%,#c1ff8a 48%,#e0ff6b 52%,#fff052 56%,#ffc352 60%,#ff9852 64%,#ff7a52 68%,#ff7552 72%,#ff8252 76%,#ffa252 80%,#ffd052 84%,#efff5c 88%,#caff81 92%,#caff81 96%,#caff81 100%)"></div><div style="background:linear-gradient(90deg,#5252cd 0%,#5252cd 4%,#5252cd 8%,#5252c1 12%,#5252c1 16%,#5252d0 20%,#5252ef 24%,#5260ff 28%,#5293ff 32%,#52ccff 36%,#69ffe2 40%,#95ffb6 44%,#b8ff93 48%,#d7ff74 52%,#faf852 56%,#ffc652 60%,#ff9152 64%,#ff6d52 68%,#ff6152 72%,#ff6b52 76%,#ff8452 80%,#ffa552 84%,#ffcd52 88%,#ffe652 92%,#ffe652 96%,#ffe652 100%)"></div><div style="background:linear-gradient(90deg,#5252cd 0%,#5252cd 4%,#5252cd 8%,#5252c4 12%,#5252c4 16%,#5252d0 20%,#5252ef 24%,#525dff 28%,#528bff 32%,#52c1ff 36%,#5af8f1 40%,#84ffc8 44%,#a2ffa9 48%,#bfff8c 52%,#e6ff65 56%,#ffd552 60%,#ff9852 64%,#ff6d52 68%,#fc5c52 72%,#ff6152 76%,#ff7552 80%,#ff8e52 84%,#ffa752 88%,#ffb452 92%,#ffb452 96%,#ffb452 100%)"></div><div style="background:linear-gradient(90deg,#5252cd 0%,#5252cd 4%,#5252cd 8%,#5252c4 12%,#5252c4 16%,#5252d4 20%,#5252ec 24%,#5255ff 28%,#527dff 32%,#52aeff 36%,#52ddff 40%,#67ffe4 44%,#81ffca 48%,#9cffaf 52%,#c3ff88 56%,#fcf552 60%,#ffaf52 64%,#ff7a52 68%,#ff6652 72%,#ff6652 76%,#ff7852 80%,#ff8c52 84%,#ff9b52 88%,#ff9d52 92%,#ff9d52 96%,#ff9d52 100%)"></div><div style="background:linear-gradient(90deg,#5252cd 0%,#5252cd 4%,#5252cd 8%,#5252c7 12%,#5252c7 16%,#5252d4 20%,#5252e9 24%,#5252ff 28%,#5270ff 32%,#5296ff 36%,#52bcff 40%,#52ddff 44%,#5af8f1 48%,#72ffd9 52%,#9cffaf 56%,#d9ff72 60%,#ffd052 64%,#ff9352 68%,#ff7852 72%,#ff7852 76%,#ff8752 80%,#ff9852 84%,#ffa052 88%,#ff9d52 92%,#ff9d52 96%,#ff9d52 100%)"></div><div style="background:linear-gradient(90deg,#5252cd 0%,#5252cd 4%,#5252cd 8%,#5252c7 12%,#5252ca 16%,#5252d4 20%,#5252e3 24%,#5252fc 28%,#5260ff 32%,#527bff 36%,#5299ff 40%,#52b1ff 44%,#52c4ff 48%,#52e2ff 52%,#70ffdb 56%,#b4ff97 60%,#fef352 64%,#ffb152 68%,#ff9352 72%,#ff9152 76%,#ff9d52 80%,#ffac52 84%,#ffb452 88%,#ffac52 92%,#ffac52 96%,#ffac52 100%)"></div><div style="background:linear-gradient(90deg,#5252cd 0%,#5252cd 4%,#5252cd 8%,#5252ca 12%,#5252ca 16%,#5252d4 20%,#5252e0 24%,#5252f2 28%,#5252ff 32%,#5262ff 36%,#5278ff 40%,#5288ff 44%,#5299ff 48%,#52b1ff 52%,#52e8fe 56%,#93ffb8 60%,#e0ff6b 64%,#ffd052 68%,#ffaf52 72%,#ffac52 76%,#ffb952 80%,#ffc852 84%,#ffcb52 88%,#ffc352 92%,#ffc352 96%,#ffc352 100%)"></div><div style="background:linear-gradient(90deg,#5252cd 0%,#5252cd 4%,#5252cd 8%,#5252cd 12%,#5252cd 16%,#5252d4 20%,#5252dd 24%,#5252e9 28%,#5252f9 32%,#5252ff 36%,#525dff 40%,#526aff 44%,#5278ff 48%,#5290ff 52%,#52c7ff 56%,#79ffd2 60%,#c8ff84 64%,#ffee52 68%,#ffcd52 72%,#ffc852 76%,#ffd252 80%,#ffe152 84%,#ffe452 88%,#ffdc52 92%,#ffdc52 96%,#ffdc52 100%)"></div><div style="background:linear-gradient(90deg,#5252d0 0%,#5252d0 4%,#5252d0 8%,#5252d0 12%,#5252d0 16%,#5252d7 20%,#5252dd 24%,#5252e6 28%,#5252ef 32%,#5252f9 36%,#5252ff 40%,#5257ff 44%,#526aff 48%,#5288ff 52%,#52bfff 56%,#6effdd 60%,#b6ff95 64%,#efff5c 68%,#ffe452 72%,#ffdf52 76%,#ffe952 80%,#fcf552 84%,#faf852 88%,#fef352 92%,#fef352 96%,#fef352 100%)"></div><div style="background:linear-gradient(90deg,#5252d4 0%,#5252d4 4%,#5252d4 8%,#5252d4 12%,#5252d7 16%,#5252da 20%,#5252dd 24%,#5252e3 28%,#5252e9 32%,#5252f2 36%,#5252ff 40%,#5255ff 44%,#526dff 48%,#5290ff 52%,#52caff 56%,#72ffd9 60%,#b2ff99 64%,#e2ff69 68%,#fcf552 72%,#fff052 76%,#faf852 80%,#f1ff5a 84%,#edff5e 88%,#f1ff5a 92%,#f1ff5a 96%,#f1ff5a 100%)"></div><div style="background:linear-gradient(90deg,#5252da 0%,#5252da 4%,#5252da 8%,#5252da 12%,#5252dd 16%,#5252dd 20%,#5252e0 24%,#5252e3 28%,#5252e9 32%,#5252f2 36%,#5252ff 40%,#525dff 44%,#527dff 48%,#52a9ff 52%,#52e2ff 56%,#7dffce 60%,#b2ff99 64%,#d9ff72 68%,#efff5c 72%,#f6fd55 76%,#f1ff5a 80%,#ebff60 84%,#e6ff65 88%,#e6ff65 92%,#e6ff65 96%,#e6ff65 100%)"></div><div style="background:linear-gradient(90deg,#5252e3 0%,#5252e3 4%,#5252e3 8%,#5252e3 12%,#5252e3 16%,#5252e3 20%,#5252e6 24%,#5252e9 28%,#5252ef 32%,#5252f9 36%,#5252ff 40%,#526dff 44%,#5296ff 48%,#52caff 52%,#60ffeb 56%,#8effbd 60%,#b6ff95 64%,#d2ff79 68%,#e4ff67 72%,#ebff60 76%,#ebff60 80%,#e6ff65 84%,#e2ff69 88%,#e0ff6b 92%,#e0ff6b 96%,#e0ff6b 100%)"></div><div style="background:linear-gradient(90deg,#5252ec 0%,#5252ec 4%,#5252ec 8%,#5252ec 12%,#5252ec 16%,#5252ec 20%,#5252ec 24%,#5252f2 28%,#5252f9 32%,#5252ff 36%,#5260ff 40%,#5280ff 44%,#52aeff 48%,#52e8fe 52%,#79ffd2 56%,#9effad 60%,#baff91 64%,#ceff7d 68%,#dbff70 72%,#e2ff69 76%,#e4ff67 80%,#e2ff69 84%,#ddff6e 88%,#d9ff72 92%,#d9ff72 96%,#d9ff72 100%)"></div><div style="background:linear-gradient(90deg,#5252f6 0%,#5252f6 4%,#5252f6 8%,#5252f6 12%,#5252f6 16%,#5252f6 20%,#5252f9 24%,#5252fc 28%,#5252ff 32%,#5257ff 36%,#526dff 40%,#5293ff 44%,#52c7ff 48%,#63ffe8 52%,#8cffbf 56%,#a9ffa2 60%,#bdff8e 64%,#caff81 68%,#d2ff79 72%,#dbff70 76%,#ddff6e 80%,#ddff6e 84%,#d9ff72 88%,#d2ff79 92%,#d2ff79 96%,#d2ff79 100%)"></div><div style="background:linear-gradient(90deg,#5252ff 0%,#5252ff 4%,#5252ff 8%,#5252ff 12%,#5252ff 16%,#5252ff 20%,#5252ff 24%,#5252ff 28%,#525aff 32%,#5268ff 36%,#527dff 40%,#52a1ff 44%,#52d7ff 48%,#6effdd 52%,#95ffb6 56%,#adff9e 60%,#b8ff93 64%,#c1ff8a 68%,#caff81 72%,#d0ff7b 76%,#d7ff74 80%,#d7ff74 84%,#d2ff79 88%,#ccff7f 92%,#ccff7f 96%,#ccff7f 100%)"></div><div style="background:linear-gradient(90deg,#5257ff 0%,#5257ff 4%,#5257ff 8%,#5255ff 12%,#5255ff 16%,#5255ff 20%,#525aff 24%,#5260ff 28%,#526aff 32%,#5278ff 36%,#528eff 40%,#52aeff 44%,#52dfff 48%,#70ffdb 52%,#93ffb8 56%,#a7ffa4 60%,#b2ff99 64%,#b8ff93 68%,#bfff8c 72%,#c8ff84 76%,#ceff7d 80%,#ceff7d 84%,#ccff7f 88%,#c3ff88 92%,#c3ff88 96%,#c3ff88 100%)"></div><div style="background:linear-gradient(90deg,#5265ff 0%,#5265ff 4%,#5265ff 8%,#5260ff 12%,#5260ff 16%,#5262ff 20%,#5268ff 24%,#5270ff 28%,#527bff 32%,#5288ff 36%,#529bff 40%,#52b9ff 44%,#52e2ff 48%,#6bffe0 52%,#8affc1 56%,#9effad 60%,#a7ffa4 64%,#adff9e 68%,#b6ff95 72%,#bdff8e 76%,#c3ff88 80%,#c5ff86 84%,#c1ff8a 88%,#bdff8e 92%,#bdff8e 96%,#bdff8e 100%)"></div><div style="background:linear-gradient(90deg,#5273ff 0%,#5273ff 4%,#5273ff 8%,#526dff 12%,#526aff 16%,#5270ff 20%,#5275ff 24%,#5280ff 28%,#528bff 32%,#5299ff 36%,#52a9ff 40%,#52c1ff 44%,#52e2ff 48%,#65ffe6 52%,#7dffce 56%,#8effbd 60%,#99ffb2 64%,#a2ffa9 68%,#abffa0 72%,#b2ff99 76%,#b8ff93 80%,#baff91 84%,#b8ff93 88%,#b4ff97 92%,#b4ff97 96%,#b4ff97 100%)"></div><div style="background:linear-gradient(90deg,#527dff 0%,#527dff 4%,#527dff 8%,#5278ff 12%,#5278ff 16%,#527bff 20%,#5286ff 24%,#5290ff 28%,#529eff 32%,#52a9ff 36%,#52b7ff 40%,#52c7ff 44%,#52ddff 48%,#5af8f1 52%,#6effdd 56%,#7dffce 60%,#8cffbf 64%,#97ffb4 68%,#a0ffab 72%,#a9ffa2 76%,#adff9e 80%,#afff9c 84%,#adff9e 88%,#abffa0 92%,#abffa0 96%,#abffa0 100%)"></div><div style="background:linear-gradient(90deg,#5288ff 0%,#5288ff 4%,#5288ff 8%,#5283ff 12%,#5283ff 16%,#5288ff 20%,#5293ff 24%,#52a1ff 28%,#52acff 32%,#52b7ff 36%,#52c1ff 40%,#52ccff 44%,#52daff 48%,#52e8fe 52%,#5cfbef 56%,#6effdd 60%,#7fffcc 64%,#8cffbf 68%,#97ffb4 72%,#9effad 76%,#a2ffa9 80%,#a2ffa9 84%,#a2ffa9 88%,#a2ffa9 92%,#a2ffa9 96%,#a2ffa9 100%)"></div><div style="background:linear-gradient(90deg,#5293ff 0%,#5293ff 4%,#5293ff 8%,#528eff 12%,#528bff 16%,#5293ff 20%,#529eff 24%,#52acff 28%,#52b9ff 32%,#52c4ff 36%,#52ccff 40%,#52d2ff 44%,#52d4ff 48%,#52ddff 52%,#52eafc 56%,#5efded 60%,#72ffd9 64%,#84ffc8 68%,#8effbd 72%,#95ffb6 76%,#97ffb4 80%,#97ffb4 84%,#99ffb2 88%,#99ffb2 92%,#99ffb2 96%,#99ffb2 100%)"></div><div style="background:linear-gradient(90deg,#529bff 0%,#529bff 4%,#529bff 8%,#5296ff 12%,#5296ff 16%,#529eff 20%,#52a9ff 24%,#52b7ff 28%,#52c4ff 32%,#52cfff 36%,#52d4ff 40%,#52d4ff 44%,#52d2ff 48%,#52d4ff 52%,#52ddff 56%,#53f0f8 60%,#67ffe4 64%,#7bffd0 68%,#86ffc5 72%,#8cffbf 76%,#8effbd 80%,#8effbd 84%,#8effbd 88%,#91ffba 92%,#91ffba 96%,#91ffba 100%)"></div><div style="background:linear-gradient(90deg,#52a1ff 0%,#52a1ff 4%,#52a1ff 8%,#529bff 12%,#529eff 16%,#52a6ff 20%,#52b1ff 24%,#52bfff 28%,#52ccff 32%,#52d4ff 36%,#52daff 40%,#52daff 44%,#52d4ff 48%,#52d2ff 52%,#52d7ff 56%,#52eafc 60%,#63ffe8 64%,#74ffd7 68%,#7fffcc 72%,#84ffc8 76%,#86ffc5 80%,#86ffc5 84%,#86ffc5 88%,#88ffc3 92%,#88ffc3 96%,#88ffc3 100%)"></div><div style="background:linear-gradient(90deg,#52a4ff 0%,#52a4ff 4%,#52a4ff 8%,#52a1ff 12%,#52a4ff 16%,#52acff 20%,#52b7ff 24%,#52c1ff 28%,#52ccff 32%,#52d7ff 36%,#52ddff 40%,#52dfff 44%,#52daff 48%,#52d7ff 52%,#52ddff 56%,#52eafc 60%,#60ffeb 64%,#70ffdb 68%,#79ffd2 72%,#7dffce 76%,#7fffcc 80%,#7fffcc 84%,#7fffcc 88%,#81ffca 92%,#81ffca 96%,#81ffca 100%)"></div><div style="background:linear-gradient(90deg,#52a1ff 0%,#52a1ff 4%,#52a1ff 8%,#52a4ff 12%,#52a6ff 16%,#52acff 20%,#52b7ff 24%,#52bfff 28%,#52caff 32%,#52d4ff 36%,#52dfff 40%,#52e5ff 44%,#52e8fe 48%,#52eafc 52%,#53f0f8 56%,#5af8f1 60%,#65ffe6 64%,#6effdd 68%,#74ffd7 72%,#79ffd2 76%,#79ffd2 80%,#7bffd0 84%,#7bffd0 88%,#7bffd0 92%,#7bffd0 96%,#7bffd0 100%)"></div><div style="background:linear-gradient(90deg,#52a1ff 0%,#52a1ff 4%,#52a1ff 8%,#52a4ff 12%,#52a6ff 16%,#52acff 20%,#52b7ff 24%,#52bfff 28%,#52caff 32%,#52d4ff 36%,#52dfff 40%,#52e5ff 44%,#52eafc 48%,#53f0f8 52%,#58f5f3 56%,#5efded 60%,#67ffe4 64%,#6effdd 68%,#74ffd7 72%,#76ffd5 76%,#79ffd2 80%,#79ffd2 84%,#79ffd2 88%,#79ffd2 92%,#79ffd2 96%,#79ffd2 100%)"></div><div style="background:linear-gradient(90deg,#52a1ff 0%,#52a1ff 4%,#52a1ff 8%,#52a4ff 12%,#52a6ff 16%,#52acff 20%,#52b7ff 24%,#52bfff 28%,#52caff 32%,#52d4ff 36%,#52dfff 40%,#52e5ff 44%,#52eafc 48%,#53f0f8 52%,#58f5f3 56%,#5efded 60%,#67ffe4 64%,#6effdd 68%,#74ffd7 72%,#76ffd5 76%,#79ffd2 80%,#79ffd2 84%,#79ffd2 88%,#79ffd2 92%,#79ffd2 96%,#79ffd2 100%)"></div><div style="background:linear-gradient(90deg,#52a1ff 0%,#52a1ff 4%,#52a1ff 8%,#52a4ff 12%,#52a6ff 16%,#52acff 20%,#52b7ff 24%,#52bfff 28%,#52caff 32%,#52d4ff 36%,#52dfff 40%,#52e5ff 44%,#52eafc 48%,#53f0f8 52%,#58f5f3 56%,#5efded 60%,#67ffe4 64%,#6effdd 68%,#74ffd7 72%,#76ffd5 76%,#79ffd2 80%,#79ffd2 84%,#79ffd2 88%,#79ffd2 92%,#79ffd2 96%,#79ffd2 100%)"></div><div style="background:linear-gradient(90deg,#52a1ff 0%,#52a1ff 4%,#52a1ff 8%,#52a4ff 12%,#52a6ff 16%,#52acff 20%,#52b7ff 24%,#52bfff 28%,#52caff 32%,#52d4ff 36%,#52dfff 40%,#52e5ff 44%,#52eafc 48%,#53f0f8 52%,#58f5f3 56%,#5efded 60%,#67ffe4 64%,#6effdd 68%,#74ffd7 72%,#76ffd5 76%,#79ffd2 80%,#79ffd2 84%,#79ffd2 88%,#79ffd2 92%,#79ffd2 96%,#79ffd2 100%)"></div><div style="background:linear-gradient(90deg,#52a1ff 0%,#52a1ff 4%,#52a1ff 8%,#52a4ff 12%,#52a6ff 16%,#52acff 20%,#52b7ff 24%,#52bfff 28%,#52caff 32%,#52d4ff 36%,#52dfff 40%,#52e5ff 44%,#52eafc 48%,#53f0f8 52%,#58f5f3 56%,#5efded 60%,#67ffe4 64%,#6effdd 68%,#74ffd7 72%,#76ffd5 76%,#79ffd2 80%,#79ffd2 84%,#79ffd2 88%,#79ffd2 92%,#79ffd2 96%,#79ffd2 100%)"></div></div></div>
<div class="hm" style="left:471px;top:962.4px;width:225px;height:225px"><div class="hmi" style="left:-8px;top:-8px;width:241px"><div style="background:linear-gradient(90deg,#c1ff8a 0%,#c1ff8a 4%,#c1ff8a 8%,#c8ff84 12%,#d5ff76 16%,#e6ff65 20%,#f6fd55 24%,#ffe952 28%,#ffda52 32%,#ffcd52 36%,#ffc852 40%,#ffcb52 44%,#ffd552 48%,#ffe452 52%,#fef352 56%,#f3ff58 60%,#e8ff63 64%,#dbff70 68%,#ceff7d 72%,#bdff8e 76%,#adff9e 80%,#9effad 84%,#91ffba 88%,#8affc1 92%,#8affc1 96%,#8affc1 100%)"></div><div style="background:linear-gradient(90deg,#c1ff8a 0%,#c1ff8a 4%,#c1ff8a 8%,#c8ff84 12%,#d5ff76 16%,#e6ff65 20%,#f6fd55 24%,#ffe952 28%,#ffda52 32%,#ffcd52 36%,#ffc852 40%,#ffcb52 44%,#ffd552 48%,#ffe452 52%,#fef352 56%,#f3ff58 60%,#e8ff63 64%,#dbff70 68%,#ceff7d 72%,#bdff8e 76%,#adff9e 80%,#9effad 84%,#91ffba 88%,#8affc1 92%,#8affc1 96%,#8affc1 100%)"></div><div style="background:linear-gradient(90deg,#c1ff8a 0%,#c1ff8a 4%,#c1ff8a 8%,#c8ff84 12%,#d5ff76 16%,#e6ff65 20%,#f6fd55 24%,#ffe952 28%,#ffda52 32%,#ffcd52 36%,#ffc852 40%,#ffcb52 44%,#ffd552 48%,#ffe452 52%,#fef352 56%,#f3ff58 60%,#e8ff63 64%,#dbff70 68%,#ceff7d 72%,#bdff8e 76%,#adff9e 80%,#9effad 84%,#91ffba 88%,#8affc1 92%,#8affc1 96%,#8affc1 100%)"></div><div style="background:linear-gradient(90deg,#c1ff8a 0%,#c1ff8a 4%,#c1ff8a 8%,#c8ff84 12%,#d5ff76 16%,#e6ff65 20%,#f6fd55 24%,#ffe952 28%,#ffda52 32%,#ffcd52 36%,#ffc852 40%,#ffcb52 44%,#ffd552 48%,#ffe452 52%,#fef352 56%,#f3ff58 60%,#e8ff63 64%,#dbff70 68%,#ceff7d 72%,#bdff8e 76%,#adff9e 80%,#9effad 84%,#91ffba 88%,#8affc1 92%,#8affc1 96%,#8affc1 100%)"></div><div style="background:linear-gradient(90deg,#c3ff88 0%,#c3ff88 4%,#c3ff88 8%,#caff81 12%,#d9ff72 16%,#e8ff63 20%,#faf852 24%,#ffe652 28%,#ffd752 32%,#ffcd52 36%,#ffc852 40%,#ffcb52 44%,#ffd552 48%,#ffe452 52%,#fcf552 56%,#f1ff5a 60%,#e6ff65 64%,#d9ff72 68%,#ccff7f 72%,#bdff8e 76%,#adff9e 80%,#9effad 84%,#91ffba 88%,#8affc1 92%,#8affc1 96%,#8affc1 100%)"></div><div style="background:linear-gradient(90deg,#c5ff86 0%,#c5ff86 4%,#c5ff86 8%,#e0ff6b 12%,#f8fa53 16%,#ffe452 20%,#ffd552 24%,#ffcb52 28%,#ffc352 32%,#ffbc52 36%,#ffb952 40%,#ffbe52 44%,#ffd252 48%,#ffee52 52%,#edff5e 56%,#ddff6e 60%,#d2ff79 64%,#caff81 68%,#bfff8c 72%,#b4ff97 76%,#a7ffa4 80%,#9cffaf 84%,#93ffb8 88%,#8effbd 92%,#8effbd 96%,#8effbd 100%)"></div><div style="background:linear-gradient(90deg,#c3ff88 0%,#c3ff88 4%,#c3ff88 8%,#e2ff69 12%,#ffeb52 16%,#ffd252 20%,#ffc352 24%,#ffb952 28%,#ffb152 32%,#ffac52 36%,#ffac52 40%,#ffb652 44%,#ffd052 48%,#fff052 52%,#e6ff65 56%,#d5ff76 60%,#caff81 64%,#c1ff8a 68%,#b8ff93 72%,#afff9c 76%,#a4ffa7 80%,#9cffaf 84%,#95ffb6 88%,#93ffb8 92%,#93ffb8 96%,#93ffb8 100%)"></div><div style="background:linear-gradient(90deg,#bdff8e 0%,#bdff8e 4%,#bdff8e 8%,#dbff70 12%,#fef352 16%,#ffd552 20%,#ffbe52 24%,#ffac52 28%,#ffa552 32%,#ff9d52 36%,#ffa052 40%,#ffaf52 44%,#ffcb52 48%,#ffee52 52%,#e8ff63 56%,#d7ff74 60%,#caff81 64%,#c1ff8a 68%,#b8ff93 72%,#afff9c 76%,#a7ffa4 80%,#9effad 84%,#99ffb2 88%,#95ffb6 92%,#95ffb6 96%,#95ffb6 100%)"></div><div style="background:linear-gradient(90deg,#afff9c 0%,#afff9c 4%,#afff9c 8%,#caff81 12%,#edff5e 16%,#ffe152 20%,#ffc352 24%,#ffaa52 28%,#ff9852 32%,#ff9352 36%,#ff9852 40%,#ffaa52 44%,#ffc652 48%,#ffe652 52%,#efff5c 56%,#ddff6e 60%,#d0ff7b 64%,#c5ff86 68%,#baff91 72%,#b2ff99 76%,#a9ffa2 80%,#a2ffa9 84%,#9cffaf 88%,#97ffb4 92%,#97ffb4 96%,#97ffb4 100%)"></div><div style="background:linear-gradient(90deg,#a2ffa9 0%,#a2ffa9 4%,#a2ffa9 8%,#b2ff99 12%,#d2ff79 16%,#f8fa53 20%,#ffd052 24%,#ffaa52 28%,#ff9152 32%,#ff8952 36%,#ff9152 40%,#ffa552 44%,#ffc152 48%,#ffdf52 52%,#f8fa53 56%,#e6ff65 60%,#d9ff72 64%,#ccff7f 68%,#c1ff8a 72%,#b6ff95 76%,#adff9e 80%,#a4ffa7 84%,#9effad 88%,#99ffb2 92%,#99ffb2 96%,#99ffb2 100%)"></div><div style="background:linear-gradient(90deg,#93ffb8 0%,#93ffb8 4%,#93ffb8 8%,#99ffb2 12%,#b4ff97 16%,#e0ff6b 20%,#ffdf52 24%,#ffac52 28%,#ff8952 32%,#ff8252 36%,#ff8c52 40%,#ffa252 44%,#ffbe52 48%,#ffd752 52%,#ffee52 56%,#f1ff5a 60%,#e2ff69 64%,#d5ff76 68%,#c8ff84 72%,#baff91 76%,#afff9c 80%,#a7ffa4 84%,#9effad 88%,#99ffb2 92%,#99ffb2 96%,#99ffb2 100%)"></div><div style="background:linear-gradient(90deg,#86ffc5 0%,#86ffc5 4%,#86ffc5 8%,#7fffcc 12%,#95ffb6 16%,#c5ff86 20%,#fff052 24%,#ffb152 28%,#ff8452 32%,#ff7a52 36%,#ff8952 40%,#ffa252 44%,#ffbc52 48%,#ffd252 52%,#ffe652 56%,#faf852 60%,#ebff60 64%,#dbff70 68%,#ccff7f 72%,#bfff8c 76%,#b4ff97 80%,#a9ffa2 84%,#9effad 88%,#99ffb2 92%,#99ffb2 96%,#99ffb2 100%)"></div><div style="background:linear-gradient(90deg,#7bffd0 0%,#7bffd0 4%,#7bffd0 8%,#69ffe2 12%,#7bffd0 16%,#adff9e 20%,#f3ff58 24%,#ffb452 28%,#ff8252 32%,#ff7552 36%,#ff8752 40%,#ffa252 44%,#ffbc52 48%,#ffd052 52%,#ffe152 56%,#fef352 60%,#efff5c 64%,#e0ff6b 68%,#d0ff7b 72%,#c1ff8a 76%,#b4ff97 80%,#a9ffa2 84%,#9effad 88%,#97ffb4 92%,#97ffb4 96%,#97ffb4 100%)"></div><div style="background:linear-gradient(90deg,#74ffd7 0%,#74ffd7 4%,#74ffd7 8%,#5af8f1 12%,#67ffe4 16%,#9effad 20%,#e8ff63 24%,#ffb652 28%,#ff7d52 32%,#ff7052 36%,#ff8452 40%,#ffa552 44%,#ffc152 48%,#ffd552 52%,#ffe652 56%,#faf852 60%,#edff5e 64%,#ddff6e 68%,#ceff7d 72%,#c1ff8a 76%,#b2ff99 80%,#a7ffa4 84%,#9cffaf 88%,#95ffb6 92%,#95ffb6 96%,#95ffb6 100%)"></div><div style="background:linear-gradient(90deg,#72ffd9 0%,#72ffd9 4%,#72ffd9 8%,#53f0f8 12%,#5efded 16%,#97ffb4 20%,#e6ff65 24%,#ffb652 28%,#ff7a52 32%,#ff6d52 36%,#ff8452 40%,#ffaa52 44%,#ffcb52 48%,#ffe452 52%,#faf852 56%,#edff5e 60%,#e2ff69 64%,#d5ff76 68%,#c8ff84 72%,#baff91 76%,#adff9e 80%,#a2ffa9 84%,#97ffb4 88%,#91ffba 92%,#91ffba 96%,#91ffba 100%)"></div><div style="background:linear-gradient(90deg,#76ffd5 0%,#76ffd5 4%,#76ffd5 8%,#5af8f1 12%,#67ffe4 16%,#a0ffab 20%,#edff5e 24%,#ffb152 28%,#ff7552 32%,#ff6b52 36%,#ff8452 40%,#ffaf52 44%,#ffda52 48%,#f8fa53 52%,#e2ff69 56%,#d5ff76 60%,#ccff7f 64%,#c3ff88 68%,#baff91 72%,#afff9c 76%,#a4ffa7 80%,#99ffb2 84%,#91ffba 88%,#8affc1 92%,#8affc1 96%,#8affc1 100%)"></div><div style="background:linear-gradient(90deg,#86ffc5 0%,#86ffc5 4%,#86ffc5 8%,#70ffdb 12%,#81ffca 16%,#b8ff93 20%,#fef352 24%,#ffa552 28%,#ff7052 32%,#ff6852 36%,#ff8452 40%,#ffb652 44%,#ffeb52 48%,#d9ff72 52%,#baff91 56%,#abffa0 60%,#a9ffa2 64%,#a9ffa2 68%,#a4ffa7 72%,#9effad 76%,#97ffb4 80%,#8effbd 84%,#88ffc3 88%,#84ffc8 92%,#84ffc8 96%,#84ffc8 100%)"></div><div style="background:linear-gradient(90deg,#99ffb2 0%,#99ffb2 4%,#99ffb2 8%,#93ffb8 12%,#abffa0 16%,#ddff6e 20%,#ffd552 24%,#ff9352 28%,#ff6b52 32%,#ff6852 36%,#ff8752 40%,#ffbe52 44%,#efff5c 48%,#b4ff97 52%,#88ffc3 56%,#79ffd2 60%,#7dffce 64%,#84ffc8 68%,#88ffc3 72%,#88ffc3 76%,#86ffc5 80%,#81ffca 84%,#7dffce 88%,#7bffd0 92%,#7bffd0 96%,#7bffd0 100%)"></div><div style="background:linear-gradient(90deg,#afff9c 0%,#afff9c 4%,#afff9c 8%,#baff91 12%,#dbff70 16%,#ffe652 20%,#ffb152 24%,#ff8252 28%,#ff6852 32%,#ff6852 36%,#ff8952 40%,#ffc852 44%,#d9ff72 48%,#8affc1 52%,#53f0f8 56%,#52daff 60%,#52e5ff 64%,#5cfbef 68%,#69ffe2 72%,#6effdd 76%,#70ffdb 80%,#70ffdb 84%,#70ffdb 88%,#70ffdb 92%,#70ffdb 96%,#70ffdb 100%)"></div><div style="background:linear-gradient(90deg,#c8ff84 0%,#c8ff84 4%,#c8ff84 8%,#e4ff67 12%,#ffe152 16%,#ffb452 20%,#ff8e52 24%,#ff7252 28%,#ff6652 32%,#ff6d52 36%,#ff8e52 40%,#ffd252 44%,#c3ff88 48%,#63ffe8 52%,#52aeff 56%,#5299ff 60%,#52a9ff 64%,#52caff 68%,#52e2ff 72%,#53f0f8 76%,#5cfbef 80%,#60ffeb 84%,#63ffe8 88%,#65ffe6 92%,#65ffe6 96%,#65ffe6 100%)"></div><div style="background:linear-gradient(90deg,#ddff6e 0%,#ddff6e 4%,#ddff6e 8%,#ffe652 12%,#ffb152 16%,#ff8c52 20%,#ff7552 24%,#ff6b52 28%,#ff6b52 32%,#ff7552 36%,#ff9352 40%,#ffda52 44%,#afff9c 48%,#52d7ff 52%,#5278ff 56%,#525dff 60%,#5273ff 64%,#529bff 68%,#52b9ff 72%,#52d2ff 76%,#52dfff 80%,#52eafc 84%,#55f2f6 88%,#5af8f1 92%,#5af8f1 96%,#5af8f1 100%)"></div><div style="background:linear-gradient(90deg,#edff5e 0%,#edff5e 4%,#edff5e 8%,#ffcb52 12%,#ff8e52 16%,#ff7052 20%,#ff6652 24%,#ff6852 28%,#ff7252 32%,#ff7f52 36%,#ff9d52 40%,#ffe452 44%,#a0ffab 48%,#52b9ff 52%,#5252ff 56%,#5252e6 60%,#5252ff 64%,#5275ff 68%,#5299ff 72%,#52b4ff 76%,#52caff 80%,#52d7ff 84%,#52e2ff 88%,#52eafc 92%,#52eafc 96%,#52eafc 100%)"></div><div style="background:linear-gradient(90deg,#f6fd55 0%,#f6fd55 4%,#f6fd55 8%,#ffbc52 12%,#ff8252 16%,#ff6852 20%,#ff6652 24%,#ff7252 28%,#ff7f52 32%,#ff8c52 36%,#ffaa52 40%,#ffee52 44%,#95ffb6 48%,#52a9ff 52%,#5252ef 56%,#5252ca 60%,#5252e3 64%,#525aff 68%,#5280ff 72%,#529eff 76%,#52b7ff 80%,#52c7ff 84%,#52d4ff 88%,#52ddff 92%,#52ddff 96%,#52ddff 100%)"></div><div style="background:linear-gradient(90deg,#f8fa53 0%,#f8fa53 4%,#f8fa53 8%,#ffb952 12%,#ff8252 16%,#ff6d52 20%,#ff7252 24%,#ff8252 28%,#ff9352 32%,#ff9d52 36%,#ffb652 40%,#faf852 44%,#91ffba 48%,#52a6ff 52%,#5252e9 56%,#5252c1 60%,#5252d4 64%,#5252ff 68%,#5270ff 72%,#528eff 76%,#52a6ff 80%,#52bcff 84%,#52caff 88%,#52cfff 92%,#52cfff 96%,#52cfff 100%)"></div><div style="background:linear-gradient(90deg,#f6fd55 0%,#f6fd55 4%,#f6fd55 8%,#ffc152 12%,#ff8e52 16%,#ff7f52 20%,#ff8752 24%,#ff9652 28%,#ffa752 32%,#ffaf52 36%,#ffc652 40%,#f3ff58 44%,#8effbd 48%,#52a9ff 52%,#5252f2 56%,#5252c4 60%,#5252d0 64%,#5252f6 68%,#5262ff 72%,#5280ff 76%,#529bff 80%,#52b1ff 84%,#52bfff 88%,#52c1ff 92%,#52c1ff 96%,#52c1ff 100%)"></div><div style="background:linear-gradient(90deg,#f1ff5a 0%,#f1ff5a 4%,#f1ff5a 8%,#ffcd52 12%,#ffa252 16%,#ff9652 20%,#ff9d52 24%,#ffac52 28%,#ffbc52 32%,#ffc352 36%,#ffd552 40%,#ebff60 44%,#8effbd 48%,#52b4ff 52%,#5252ff 56%,#5252d0 60%,#5252d0 64%,#5252ef 68%,#5257ff 72%,#5278ff 76%,#5293ff 80%,#52a9ff 84%,#52b7ff 88%,#52b9ff 92%,#52b9ff 96%,#52b9ff 100%)"></div><div style="background:linear-gradient(90deg,#ebff60 0%,#ebff60 4%,#ebff60 8%,#ffdc52 12%,#ffb952 16%,#ffaf52 20%,#ffb652 24%,#ffc352 28%,#ffd052 32%,#ffd552 36%,#ffe452 40%,#e2ff69 44%,#91ffba 48%,#52c1ff 52%,#525dff 56%,#5252e0 60%,#5252d7 64%,#5252ec 68%,#5252ff 72%,#5270ff 76%,#528eff 80%,#52a4ff 84%,#52b1ff 88%,#52b1ff 92%,#52b1ff 96%,#52b1ff 100%)"></div><div style="background:linear-gradient(90deg,#e6ff65 0%,#e6ff65 4%,#e6ff65 8%,#ffe952 12%,#ffcd52 16%,#ffc652 20%,#ffcb52 24%,#ffd752 28%,#ffe152 32%,#ffe652 36%,#fef352 40%,#d9ff72 44%,#91ffba 48%,#52cfff 52%,#5270ff 56%,#5252ef 60%,#5252dd 64%,#5252e6 68%,#5252ff 72%,#526aff 76%,#528bff 80%,#52a4ff 84%,#52aeff 88%,#52acff 92%,#52acff 96%,#52acff 100%)"></div><div style="background:linear-gradient(90deg,#e0ff6b 0%,#e0ff6b 4%,#e0ff6b 8%,#fcf552 12%,#ffdc52 16%,#ffd752 20%,#ffdc52 24%,#ffe652 28%,#fff052 32%,#fcf552 36%,#f1ff5a 40%,#d0ff7b 44%,#91ffba 48%,#52daff 52%,#5280ff 56%,#5252ff 60%,#5252e0 64%,#5252e3 68%,#5252fc 72%,#5265ff 76%,#5288ff 80%,#52a6ff 84%,#52b1ff 88%,#52a9ff 92%,#52a9ff 96%,#52a9ff 100%)"></div><div style="background:linear-gradient(90deg,#d9ff72 0%,#d9ff72 4%,#d9ff72 8%,#f3ff58 12%,#ffeb52 16%,#ffe652 20%,#ffeb52 24%,#fcf552 28%,#f3ff58 32%,#edff5e 36%,#e2ff69 40%,#c5ff86 44%,#8cffbf 48%,#52dfff 52%,#528bff 56%,#5252ff 60%,#5252e3 64%,#5252dd 68%,#5252f6 72%,#5262ff 76%,#528bff 80%,#52a9ff 84%,#52b4ff 88%,#52a9ff 92%,#52a9ff 96%,#52a9ff 100%)"></div><div style="background:linear-gradient(90deg,#d2ff79 0%,#d2ff79 4%,#d2ff79 8%,#e8ff63 12%,#faf852 16%,#fcf552 20%,#f8fa53 24%,#efff5c 28%,#e6ff65 32%,#ddff6e 36%,#d2ff79 40%,#b6ff95 44%,#86ffc5 48%,#52dfff 52%,#5293ff 56%,#5257ff 60%,#5252e3 64%,#5252da 68%,#5252ef 72%,#5260ff 76%,#528bff 80%,#52aeff 84%,#52b7ff 88%,#52acff 92%,#52acff 96%,#52acff 100%)"></div><div style="background:linear-gradient(90deg,#ccff7f 0%,#ccff7f 4%,#ccff7f 8%,#ddff6e 12%,#ebff60 16%,#efff5c 20%,#ebff60 24%,#e0ff6b 28%,#d5ff76 32%,#ccff7f 36%,#bdff8e 40%,#a2ffa9 44%,#79ffd2 48%,#52daff 52%,#5296ff 56%,#525aff 60%,#5252e6 64%,#5252d7 68%,#5252ef 72%,#5260ff 76%,#528eff 80%,#52b1ff 84%,#52bcff 88%,#52acff 92%,#52acff 96%,#52acff 100%)"></div><div style="background:linear-gradient(90deg,#c1ff8a 0%,#c1ff8a 4%,#c1ff8a 8%,#d0ff7b 12%,#dbff70 16%,#ddff6e 20%,#d9ff72 24%,#ceff7d 28%,#c3ff88 32%,#b6ff95 36%,#a4ffa7 40%,#8affc1 44%,#63ffe8 48%,#52caff 52%,#528eff 56%,#5257ff 60%,#5252e3 64%,#5252d7 68%,#5252ef 72%,#5262ff 76%,#5290ff 80%,#52b4ff 84%,#52bfff 88%,#52aeff 92%,#52aeff 96%,#52aeff 100%)"></div><div style="background:linear-gradient(90deg,#b6ff95 0%,#b6ff95 4%,#b6ff95 8%,#c1ff8a 12%,#c8ff84 16%,#caff81 20%,#c3ff88 24%,#baff91 28%,#abffa0 32%,#99ffb2 36%,#86ffc5 40%,#6bffe0 44%,#52e2ff 48%,#52b4ff 52%,#5280ff 56%,#5252ff 60%,#5252e3 64%,#5252da 68%,#5252f2 72%,#5265ff 76%,#5290ff 80%,#52b4ff 84%,#52bfff 88%,#52aeff 92%,#52aeff 96%,#52aeff 100%)"></div><div style="background:linear-gradient(90deg,#a7ffa4 0%,#a7ffa4 4%,#a7ffa4 8%,#adff9e 12%,#b2ff99 16%,#b2ff99 20%,#abffa0 24%,#a0ffab 28%,#91ffba 32%,#7dffce 36%,#63ffe8 40%,#52e2ff 44%,#52bcff 48%,#5293ff 52%,#526dff 56%,#5252ff 60%,#5252e3 64%,#5252e0 68%,#5252f9 72%,#5268ff 76%,#5293ff 80%,#52b1ff 84%,#52bcff 88%,#52aeff 92%,#52aeff 96%,#52aeff 100%)"></div><div style="background:linear-gradient(90deg,#97ffb4 0%,#97ffb4 4%,#97ffb4 8%,#99ffb2 12%,#99ffb2 16%,#97ffb4 20%,#91ffba 24%,#86ffc5 28%,#74ffd7 32%,#5cfbef 36%,#52d7ff 40%,#52b4ff 44%,#5290ff 48%,#5273ff 52%,#5255ff 56%,#5252f2 60%,#5252e3 64%,#5252e9 68%,#5252ff 72%,#526dff 76%,#5293ff 80%,#52aeff 84%,#52b9ff 88%,#52aeff 92%,#52aeff 96%,#52aeff 100%)"></div><div style="background:linear-gradient(90deg,#84ffc8 0%,#84ffc8 4%,#84ffc8 8%,#84ffc8 12%,#81ffca 16%,#7dffce 20%,#76ffd5 24%,#6bffe0 28%,#58f5f3 32%,#52d4ff 36%,#52aeff 40%,#5288ff 44%,#526aff 48%,#5252ff 52%,#5252f6 56%,#5252e9 60%,#5252e6 64%,#5252f2 68%,#5255ff 72%,#5275ff 76%,#5296ff 80%,#52acff 84%,#52b7ff 88%,#52aeff 92%,#52aeff 96%,#52aeff 100%)"></div><div style="background:linear-gradient(90deg,#70ffdb 0%,#70ffdb 4%,#70ffdb 8%,#6bffe0 12%,#67ffe4 16%,#63ffe8 20%,#5cfbef 24%,#52eafc 28%,#52d2ff 32%,#52aeff 36%,#5286ff 40%,#5262ff 44%,#5252fc 48%,#5252e9 52%,#5252e0 56%,#5252e3 60%,#5252ec 64%,#5252ff 68%,#5262ff 72%,#527dff 76%,#5296ff 80%,#52a9ff 84%,#52b1ff 88%,#52aeff 92%,#52aeff 96%,#52aeff 100%)"></div><div style="background:linear-gradient(90deg,#58f5f3 0%,#58f5f3 4%,#58f5f3 8%,#53f0f8 12%,#52e8fe 16%,#52e2ff 20%,#52daff 24%,#52ccff 28%,#52b4ff 32%,#5290ff 36%,#5268ff 40%,#5252f9 44%,#5252dd 48%,#5252d0 52%,#5252d0 56%,#5252e0 60%,#5252f6 64%,#5257ff 68%,#5270ff 72%,#5286ff 76%,#5299ff 80%,#52a6ff 84%,#52aeff 88%,#52aeff 92%,#52aeff 96%,#52aeff 100%)"></div><div style="background:linear-gradient(90deg,#52d7ff 0%,#52d7ff 4%,#52d7ff 8%,#52cfff 12%,#52c7ff 16%,#52c4ff 20%,#52bcff 24%,#52b1ff 28%,#529bff 32%,#5278ff 36%,#5252ff 40%,#5252e3 44%,#5252ca 48%,#5252c4 52%,#5252cd 56%,#5252e3 60%,#5252ff 64%,#5268ff 68%,#527dff 72%,#528eff 76%,#529bff 80%,#52a6ff 84%,#52acff 88%,#52aeff 92%,#52aeff 96%,#52aeff 100%)"></div><div style="background:linear-gradient(90deg,#52b7ff 0%,#52b7ff 4%,#52b7ff 8%,#52b1ff 12%,#52acff 16%,#52a9ff 20%,#52a4ff 24%,#529bff 28%,#5288ff 32%,#526aff 36%,#5252ff 40%,#5252e0 44%,#5252ca 48%,#5252c7 52%,#5252d7 56%,#5252f2 60%,#525dff 64%,#5278ff 68%,#528eff 72%,#5299ff 76%,#52a1ff 80%,#52a6ff 84%,#52acff 88%,#52b1ff 92%,#52b1ff 96%,#52b1ff 100%)"></div><div style="background:linear-gradient(90deg,#5293ff 0%,#5293ff 4%,#5293ff 8%,#5290ff 12%,#5290ff 16%,#5290ff 20%,#5290ff 24%,#528bff 28%,#527dff 32%,#5268ff 36%,#5252ff 40%,#5252ef 44%,#5252e0 48%,#5252e0 52%,#5252ef 56%,#5252ff 60%,#5273ff 64%,#528bff 68%,#529bff 72%,#52a4ff 76%,#52a6ff 80%,#52a9ff 84%,#52aeff 88%,#52b4ff 92%,#52b4ff 96%,#52b4ff 100%)"></div><div style="background:linear-gradient(90deg,#5270ff 0%,#5270ff 4%,#5270ff 8%,#5273ff 12%,#527bff 16%,#5280ff 20%,#5283ff 24%,#5283ff 28%,#5280ff 32%,#5275ff 36%,#5268ff 40%,#525dff 44%,#5255ff 48%,#5257ff 52%,#5262ff 56%,#5275ff 60%,#528eff 64%,#52a1ff 68%,#52acff 72%,#52aeff 76%,#52aeff 80%,#52aeff 84%,#52b1ff 88%,#52b7ff 92%,#52b7ff 96%,#52b7ff 100%)"></div><div style="background:linear-gradient(90deg,#5252ff 0%,#5252ff 4%,#5252ff 8%,#5257ff 12%,#5268ff 16%,#5275ff 20%,#5280ff 24%,#5288ff 28%,#528eff 32%,#5293ff 36%,#5296ff 40%,#5299ff 44%,#5299ff 48%,#529bff 52%,#52a1ff 56%,#52a9ff 60%,#52b1ff 64%,#52b9ff 68%,#52bcff 72%,#52bcff 76%,#52b9ff 80%,#52b9ff 84%,#52b9ff 88%,#52bcff 92%,#52bcff 96%,#52bcff 100%)"></div><div style="background:linear-gradient(90deg,#5252f6 0%,#5252f6 4%,#5252f6 8%,#5252ff 12%,#5265ff 16%,#5275ff 20%,#5280ff 24%,#5288ff 28%,#5290ff 32%,#529bff 36%,#52a1ff 40%,#52a6ff 44%,#52acff 48%,#52acff 52%,#52aeff 56%,#52b4ff 60%,#52b9ff 64%,#52bcff 68%,#52bfff 72%,#52bfff 76%,#52bcff 80%,#52bcff 84%,#52bcff 88%,#52bcff 92%,#52bcff 96%,#52bcff 100%)"></div><div style="background:linear-gradient(90deg,#5252f6 0%,#5252f6 4%,#5252f6 8%,#5252ff 12%,#5265ff 16%,#5275ff 20%,#5280ff 24%,#5288ff 28%,#5290ff 32%,#529bff 36%,#52a1ff 40%,#52a6ff 44%,#52acff 48%,#52acff 52%,#52aeff 56%,#52b4ff 60%,#52b9ff 64%,#52bcff 68%,#52bfff 72%,#52bfff 76%,#52bcff 80%,#52bcff 84%,#52bcff 88%,#52bcff 92%,#52bcff 96%,#52bcff 100%)"></div><div style="background:linear-gradient(90deg,#5252f6 0%,#5252f6 4%,#5252f6 8%,#5252ff 12%,#5265ff 16%,#5275ff 20%,#5280ff 24%,#5288ff 28%,#5290ff 32%,#529bff 36%,#52a1ff 40%,#52a6ff 44%,#52acff 48%,#52acff 52%,#52aeff 56%,#52b4ff 60%,#52b9ff 64%,#52bcff 68%,#52bfff 72%,#52bfff 76%,#52bcff 80%,#52bcff 84%,#52bcff 88%,#52bcff 92%,#52bcff 96%,#52bcff 100%)"></div><div style="background:linear-gradient(90deg,#5252f6 0%,#5252f6 4%,#5252f6 8%,#5252ff 12%,#5265ff 16%,#5275ff 20%,#5280ff 24%,#5288ff 28%,#5290ff 32%,#529bff 36%,#52a1ff 40%,#52a6ff 44%,#52acff 48%,#52acff 52%,#52aeff 56%,#52b4ff 60%,#52b9ff 64%,#52bcff 68%,#52bfff 72%,#52bfff 76%,#52bcff 80%,#52bcff 84%,#52bcff 88%,#52bcff 92%,#52bcff 96%,#52bcff 100%)"></div><div style="background:linear-gradient(90deg,#5252f6 0%,#5252f6 4%,#5252f6 8%,#5252ff 12%,#5265ff 16%,#5275ff 20%,#5280ff 24%,#5288ff 28%,#5290ff 32%,#529bff 36%,#52a1ff 40%,#52a6ff 44%,#52acff 48%,#52acff 52%,#52aeff 56%,#52b4ff 60%,#52b9ff 64%,#52bcff 68%,#52bfff 72%,#52bfff 76%,#52bcff 80%,#52bcff 84%,#52bcff 88%,#52bcff 92%,#52bcff 96%,#52bcff 100%)"></div></div></div>
<div class="hm" style="left:785px;top:962.4px;width:225px;height:225px"><div class="hmi" style="left:-8px;top:-8px;width:241px"><div style="background:linear-gradient(90deg,#fef352 0%,#fef352 4%,#fef352 8%,#ffe652 12%,#ffda52 16%,#ffcd52 20%,#ffc352 24%,#ffbe52 28%,#ffb952 32%,#ffb452 36%,#ffb452 40%,#ffb152 44%,#ffaf52 48%,#ffaf52 52%,#ffb152 56%,#ffb652 60%,#ffc152 64%,#ffcd52 68%,#ffda52 72%,#ffe952 76%,#fcf552 80%,#f3ff58 84%,#edff5e 88%,#e8ff63 92%,#e8ff63 96%,#e8ff63 100%)"></div><div style="background:linear-gradient(90deg,#fef352 0%,#fef352 4%,#fef352 8%,#ffe652 12%,#ffda52 16%,#ffcd52 20%,#ffc352 24%,#ffbe52 28%,#ffb952 32%,#ffb452 36%,#ffb452 40%,#ffb152 44%,#ffaf52 48%,#ffaf52 52%,#ffb152 56%,#ffb652 60%,#ffc152 64%,#ffcd52 68%,#ffda52 72%,#ffe952 76%,#fcf552 80%,#f3ff58 84%,#edff5e 88%,#e8ff63 92%,#e8ff63 96%,#e8ff63 100%)"></div><div style="background:linear-gradient(90deg,#fef352 0%,#fef352 4%,#fef352 8%,#ffe652 12%,#ffda52 16%,#ffcd52 20%,#ffc352 24%,#ffbe52 28%,#ffb952 32%,#ffb452 36%,#ffb452 40%,#ffb152 44%,#ffaf52 48%,#ffaf52 52%,#ffb152 56%,#ffb652 60%,#ffc152 64%,#ffcd52 68%,#ffda52 72%,#ffe952 76%,#fcf552 80%,#f3ff58 84%,#edff5e 88%,#e8ff63 92%,#e8ff63 96%,#e8ff63 100%)"></div><div style="background:linear-gradient(90deg,#fef352 0%,#fef352 4%,#fef352 8%,#ffe652 12%,#ffda52 16%,#ffcd52 20%,#ffc352 24%,#ffbe52 28%,#ffb952 32%,#ffb452 36%,#ffb452 40%,#ffb152 44%,#ffaf52 48%,#ffaf52 52%,#ffb152 56%,#ffb652 60%,#ffc152 64%,#ffcd52 68%,#ffda52 72%,#ffe952 76%,#fcf552 80%,#f3ff58 84%,#edff5e 88%,#e8ff63 92%,#e8ff63 96%,#e8ff63 100%)"></div><div style="background:linear-gradient(90deg,#fff052 0%,#fff052 4%,#fff052 8%,#ffe652 12%,#ffd752 16%,#ffcb52 20%,#ffc152 24%,#ffbc52 28%,#ffb652 32%,#ffb452 36%,#ffb152 40%,#ffaf52 44%,#ffaf52 48%,#ffaf52 52%,#ffb152 56%,#ffb952 60%,#ffc352 64%,#ffcd52 68%,#ffda52 72%,#ffe952 76%,#fcf552 80%,#f3ff58 84%,#edff5e 88%,#e8ff63 92%,#e8ff63 96%,#e8ff63 100%)"></div><div style="background:linear-gradient(90deg,#ffeb52 0%,#ffeb52 4%,#ffeb52 8%,#ffdc52 12%,#ffc852 16%,#ffb652 20%,#ffaa52 24%,#ffa052 28%,#ff9b52 32%,#ff9b52 36%,#ff9d52 40%,#ffa252 44%,#ffa752 48%,#ffaf52 52%,#ffb652 56%,#ffc152 60%,#ffc852 64%,#ffd252 68%,#ffdf52 72%,#ffeb52 76%,#fcf552 80%,#f3ff58 84%,#edff5e 88%,#edff5e 92%,#edff5e 96%,#edff5e 100%)"></div><div style="background:linear-gradient(90deg,#ffe952 0%,#ffe952 4%,#ffe952 8%,#ffda52 12%,#ffc352 16%,#ffac52 20%,#ff9b52 24%,#ff8e52 28%,#ff8752 32%,#ff8752 36%,#ff8c52 40%,#ff9652 44%,#ffa052 48%,#ffac52 52%,#ffb652 56%,#ffc152 60%,#ffcb52 64%,#ffd552 68%,#ffdf52 72%,#ffeb52 76%,#fcf552 80%,#f3ff58 84%,#efff5c 88%,#edff5e 92%,#edff5e 96%,#edff5e 100%)"></div><div style="background:linear-gradient(90deg,#ffee52 0%,#ffee52 4%,#ffee52 8%,#ffdc52 12%,#ffc352 16%,#ffaa52 20%,#ff9352 24%,#ff8252 28%,#ff7852 32%,#ff7852 36%,#ff7f52 40%,#ff8c52 44%,#ff9b52 48%,#ffa752 52%,#ffb452 56%,#ffbe52 60%,#ffc852 64%,#ffd552 68%,#ffdf52 72%,#ffeb52 76%,#fcf552 80%,#f3ff58 84%,#efff5c 88%,#edff5e 92%,#edff5e 96%,#edff5e 100%)"></div><div style="background:linear-gradient(90deg,#fef352 0%,#fef352 4%,#fef352 8%,#ffe452 12%,#ffcb52 16%,#ffac52 20%,#ff9152 24%,#ff7d52 28%,#ff6d52 32%,#ff6d52 36%,#ff7852 40%,#ff8452 44%,#ff9352 48%,#ffa252 52%,#ffaf52 56%,#ffbc52 60%,#ffc652 64%,#ffd252 68%,#ffdf52 72%,#ffe952 76%,#fcf552 80%,#f3ff58 84%,#efff5c 88%,#edff5e 92%,#edff5e 96%,#edff5e 100%)"></div><div style="background:linear-gradient(90deg,#f8fa53 0%,#f8fa53 4%,#f8fa53 8%,#ffee52 12%,#ffd552 16%,#ffb452 20%,#ff9352 24%,#ff7852 28%,#ff6852 32%,#ff6652 36%,#ff7052 40%,#ff7f52 44%,#ff8e52 48%,#ff9b52 52%,#ffa752 56%,#ffb452 60%,#ffc352 64%,#ffd052 68%,#ffdc52 72%,#ffe952 76%,#fcf552 80%,#f3ff58 84%,#edff5e 88%,#ebff60 92%,#ebff60 96%,#ebff60 100%)"></div><div style="background:linear-gradient(90deg,#f1ff5a 0%,#f1ff5a 4%,#f1ff5a 8%,#f8fa53 12%,#ffdf52 16%,#ffbe52 20%,#ff9852 24%,#ff7852 28%,#ff6352 32%,#ff6152 36%,#ff6b52 40%,#ff7d52 44%,#ff8952 48%,#ff9652 52%,#ffa252 56%,#ffaf52 60%,#ffbe52 64%,#ffcd52 68%,#ffda52 72%,#ffe952 76%,#fcf552 80%,#f3ff58 84%,#ebff60 88%,#e8ff63 92%,#e8ff63 96%,#e8ff63 100%)"></div><div style="background:linear-gradient(90deg,#ebff60 0%,#ebff60 4%,#ebff60 8%,#efff5c 12%,#ffeb52 16%,#ffc652 20%,#ff9d52 24%,#ff7852 28%,#ff6152 32%,#ff5e52 36%,#ff6b52 40%,#ff7a52 44%,#ff8952 48%,#ff9352 52%,#ffa052 56%,#ffac52 60%,#ffbc52 64%,#ffcb52 68%,#ffda52 72%,#ffe952 76%,#fcf552 80%,#f1ff5a 84%,#ebff60 88%,#e4ff67 92%,#e4ff67 96%,#e4ff67 100%)"></div><div style="background:linear-gradient(90deg,#e4ff67 0%,#e4ff67 4%,#e4ff67 8%,#e6ff65 12%,#fcf552 16%,#ffcd52 20%,#ffa052 24%,#ff7a52 28%,#ff6152 32%,#fc5c52 36%,#ff6b52 40%,#ff7d52 44%,#ff8952 48%,#ff9352 52%,#ff9d52 56%,#ffaa52 60%,#ffb952 64%,#ffc852 68%,#ffda52 72%,#ffe952 76%,#fcf552 80%,#f1ff5a 84%,#e8ff63 88%,#e2ff69 92%,#e2ff69 96%,#e2ff69 100%)"></div><div style="background:linear-gradient(90deg,#e2ff69 0%,#e2ff69 4%,#e2ff69 8%,#e2ff69 12%,#f8fa53 16%,#ffd252 20%,#ffa252 24%,#ff7a52 28%,#ff5e52 32%,#fc5c52 36%,#ff6b52 40%,#ff7f52 44%,#ff8e52 48%,#ff9852 52%,#ffa252 56%,#ffac52 60%,#ffbc52 64%,#ffcb52 68%,#ffda52 72%,#ffe952 76%,#faf852 80%,#efff5c 84%,#e4ff67 88%,#e0ff6b 92%,#e0ff6b 96%,#e0ff6b 100%)"></div><div style="background:linear-gradient(90deg,#e2ff69 0%,#e2ff69 4%,#e2ff69 8%,#e2ff69 12%,#f8fa53 16%,#ffd252 20%,#ffa252 24%,#ff7852 28%,#fc5c52 32%,#fc5c52 36%,#ff6d52 40%,#ff8252 44%,#ff9352 48%,#ffa052 52%,#ffaa52 56%,#ffb652 60%,#ffc352 64%,#ffd052 68%,#ffdf52 72%,#ffee52 76%,#f6fd55 80%,#ebff60 84%,#e2ff69 88%,#e0ff6b 92%,#e0ff6b 96%,#e0ff6b 100%)"></div><div style="background:linear-gradient(90deg,#e8ff63 0%,#e8ff63 4%,#e8ff63 8%,#e8ff63 12%,#fef352 16%,#ffcb52 20%,#ff9b52 24%,#ff7052 28%,#f95952 32%,#f95952 36%,#ff6d52 40%,#ff8952 44%,#ffa052 48%,#ffaf52 52%,#ffbc52 56%,#ffc652 60%,#ffcd52 64%,#ffd752 68%,#ffe452 72%,#fef352 76%,#f1ff5a 80%,#e8ff63 84%,#e0ff6b 88%,#ddff6e 92%,#ddff6e 96%,#ddff6e 100%)"></div><div style="background:linear-gradient(90deg,#f1ff5a 0%,#f1ff5a 4%,#f1ff5a 8%,#f6fd55 12%,#ffe152 16%,#ffb952 20%,#ff8e52 24%,#ff6852 28%,#f25452 32%,#f95952 36%,#ff7052 40%,#ff9152 44%,#ffaf52 48%,#ffc652 52%,#ffd552 56%,#ffdc52 60%,#ffdf52 64%,#ffe652 68%,#ffee52 72%,#f8fa53 76%,#edff5e 80%,#e4ff67 84%,#ddff6e 88%,#ddff6e 92%,#ddff6e 96%,#ddff6e 100%)"></div><div style="background:linear-gradient(90deg,#fff052 0%,#fff052 4%,#fff052 8%,#ffe952 12%,#ffcb52 16%,#ffa552 20%,#ff7d52 24%,#fc5c52 28%,#e95252 32%,#f65752 36%,#ff7252 40%,#ff9b52 44%,#ffc152 48%,#ffdf52 52%,#fef352 56%,#f8fa53 60%,#faf852 64%,#faf852 68%,#f6fd55 72%,#efff5c 76%,#e6ff65 80%,#ddff6e 84%,#dbff70 88%,#e0ff6b 92%,#e0ff6b 96%,#e0ff6b 100%)"></div><div style="background:linear-gradient(90deg,#ffdf52 0%,#ffdf52 4%,#ffdf52 8%,#ffd052 12%,#ffb152 16%,#ff8c52 20%,#ff6852 24%,#ec5252 28%,#e05252 32%,#f25452 36%,#ff7852 40%,#ffa252 44%,#ffd252 48%,#f8fa53 52%,#e0ff6b 56%,#dbff70 60%,#e0ff6b 64%,#e6ff65 68%,#e6ff65 72%,#e2ff69 76%,#ddff6e 80%,#d9ff72 84%,#dbff70 88%,#e0ff6b 92%,#e0ff6b 96%,#e0ff6b 100%)"></div><div style="background:linear-gradient(90deg,#ffcd52 0%,#ffcd52 4%,#ffcd52 8%,#ffb952 12%,#ff9852 16%,#ff7552 20%,#f65752 24%,#e05252 28%,#dd5252 32%,#f65752 36%,#ff7d52 40%,#ffac52 44%,#ffe452 48%,#e0ff6b 52%,#c3ff88 56%,#bdff8e 60%,#c3ff88 64%,#ccff7f 68%,#d2ff79 72%,#d5ff76 76%,#d5ff76 80%,#d7ff74 84%,#dbff70 88%,#e0ff6b 92%,#e0ff6b 96%,#e0ff6b 100%)"></div><div style="background:linear-gradient(90deg,#ffbc52 0%,#ffbc52 4%,#ffbc52 8%,#ffa552 12%,#ff8252 16%,#ff6352 20%,#e95252 24%,#da5252 28%,#dd5252 32%,#f95952 36%,#ff8252 40%,#ffb652 44%,#fef352 48%,#ccff7f 52%,#a9ffa2 56%,#9cffaf 60%,#a2ffa9 64%,#adff9e 68%,#b8ff93 72%,#c3ff88 76%,#ccff7f 80%,#d5ff76 84%,#dbff70 88%,#e0ff6b 92%,#e0ff6b 96%,#e0ff6b 100%)"></div><div style="background:linear-gradient(90deg,#ffaf52 0%,#ffaf52 4%,#ffaf52 8%,#ff9652 12%,#ff7552 16%,#f95952 20%,#e65252 24%,#dd5252 28%,#e65252 32%,#ff6352 36%,#ff8952 40%,#ffbe52 44%,#f3ff58 48%,#bfff8c 52%,#95ffb6 56%,#7fffcc 60%,#7dffce 64%,#88ffc3 68%,#99ffb2 72%,#afff9c 76%,#c3ff88 80%,#d5ff76 84%,#ddff6e 88%,#ddff6e 92%,#ddff6e 96%,#ddff6e 100%)"></div><div style="background:linear-gradient(90deg,#ffa752 0%,#ffa752 4%,#ffa752 8%,#ff8e52 12%,#ff7052 16%,#fc5c52 20%,#ec5252 24%,#ec5252 28%,#f95952 32%,#ff7052 36%,#ff9352 40%,#ffc652 44%,#efff5c 48%,#b8ff93 52%,#86ffc5 56%,#65ffe6 60%,#58f5f3 64%,#5efded 68%,#76ffd5 72%,#97ffb4 76%,#bdff8e 80%,#d7ff74 84%,#e0ff6b 88%,#d9ff72 92%,#d9ff72 96%,#d9ff72 100%)"></div><div style="background:linear-gradient(90deg,#ffa252 0%,#ffa252 4%,#ffa252 8%,#ff8c52 12%,#ff7252 16%,#ff6352 20%,#ff5e52 24%,#ff6152 28%,#ff6b52 32%,#ff7f52 36%,#ffa052 40%,#ffcb52 44%,#efff5c 48%,#b6ff95 52%,#7fffcc 56%,#52edfa 60%,#52caff 64%,#52c7ff 68%,#52edfa 72%,#81ffca 76%,#b4ff97 80%,#dbff70 84%,#e4ff67 88%,#d2ff79 92%,#d2ff79 96%,#d2ff79 100%)"></div><div style="background:linear-gradient(90deg,#ffa052 0%,#ffa052 4%,#ffa052 8%,#ff8e52 12%,#ff7d52 16%,#ff7252 20%,#ff7052 24%,#ff7552 28%,#ff7f52 32%,#ff9352 36%,#ffac52 40%,#ffd252 44%,#efff5c 48%,#b8ff93 52%,#7dffce 56%,#52d7ff 60%,#52a1ff 64%,#5299ff 68%,#52c4ff 72%,#6bffe0 76%,#adff9e 80%,#ddff6e 84%,#e6ff65 88%,#ceff7d 92%,#ceff7d 96%,#ceff7d 100%)"></div><div style="background:linear-gradient(90deg,#ffa252 0%,#ffa252 4%,#ffa252 8%,#ff9352 12%,#ff8752 16%,#ff8252 20%,#ff8452 24%,#ff8c52 28%,#ff9652 32%,#ffa552 36%,#ffb952 40%,#ffda52 44%,#efff5c 48%,#bdff8e 52%,#7dffce 56%,#52caff 60%,#5286ff 64%,#5273ff 68%,#52a1ff 72%,#5cfbef 76%,#a9ffa2 80%,#e0ff6b 84%,#e8ff63 88%,#c8ff84 92%,#c8ff84 96%,#c8ff84 100%)"></div><div style="background:linear-gradient(90deg,#ffa252 0%,#ffa252 4%,#ffa252 8%,#ff9b52 12%,#ff9352 16%,#ff9152 20%,#ff9652 24%,#ffa052 28%,#ffaa52 32%,#ffb652 36%,#ffc852 40%,#ffe152 44%,#edff5e 48%,#bfff8c 52%,#7fffcc 56%,#52c7ff 60%,#5278ff 64%,#5260ff 68%,#5290ff 72%,#52edfa 76%,#a4ffa7 80%,#e0ff6b 84%,#e8ff63 88%,#c3ff88 92%,#c3ff88 96%,#c3ff88 100%)"></div><div style="background:linear-gradient(90deg,#ffa552 0%,#ffa552 4%,#ffa552 8%,#ffa052 12%,#ff9d52 16%,#ff9d52 20%,#ffa552 24%,#ffaf52 28%,#ffb952 32%,#ffc652 36%,#ffd552 40%,#ffeb52 44%,#e8ff63 48%,#bdff8e 52%,#81ffca 56%,#52caff 60%,#527bff 64%,#5260ff 68%,#528eff 72%,#52eafc 76%,#a0ffab 80%,#dbff70 84%,#e4ff67 88%,#c1ff8a 92%,#c1ff8a 96%,#c1ff8a 100%)"></div><div style="background:linear-gradient(90deg,#ffa752 0%,#ffa752 4%,#ffa752 8%,#ffa552 12%,#ffa552 16%,#ffa752 20%,#ffaf52 24%,#ffb952 28%,#ffc652 32%,#ffd252 36%,#ffe152 40%,#fcf552 44%,#e0ff6b 48%,#b8ff93 52%,#81ffca 56%,#52d4ff 60%,#528eff 64%,#5275ff 68%,#52a1ff 72%,#55f2f6 76%,#9effad 80%,#d5ff76 84%,#ddff6e 88%,#bfff8c 92%,#bfff8c 96%,#bfff8c 100%)"></div><div style="background:linear-gradient(90deg,#ffac52 0%,#ffac52 4%,#ffac52 8%,#ffaa52 12%,#ffaa52 16%,#ffaf52 20%,#ffb952 24%,#ffc352 28%,#ffd052 32%,#ffdc52 36%,#ffee52 40%,#efff5c 44%,#d5ff76 48%,#b2ff99 52%,#84ffc8 56%,#52e5ff 60%,#52acff 64%,#5299ff 68%,#52bcff 72%,#60ffeb 76%,#9effad 80%,#ccff7f 84%,#d7ff74 88%,#bfff8c 92%,#bfff8c 96%,#bfff8c 100%)"></div><div style="background:linear-gradient(90deg,#ffaf52 0%,#ffaf52 4%,#ffaf52 8%,#ffaf52 12%,#ffb152 16%,#ffb652 20%,#ffc152 24%,#ffcb52 28%,#ffda52 32%,#ffe952 36%,#f6fd55 40%,#e2ff69 44%,#c8ff84 48%,#a9ffa2 52%,#84ffc8 56%,#5af8f1 60%,#52cfff 64%,#52c4ff 68%,#52dfff 72%,#70ffdb 76%,#9effad 80%,#c1ff8a 84%,#ceff7d 88%,#bfff8c 92%,#bfff8c 96%,#bfff8c 100%)"></div><div style="background:linear-gradient(90deg,#ffb652 0%,#ffb652 4%,#ffb652 8%,#ffb652 12%,#ffb952 16%,#ffc152 20%,#ffc852 24%,#ffd552 28%,#ffe452 32%,#fcf552 36%,#e8ff63 40%,#d2ff79 44%,#baff91 48%,#a0ffab 52%,#84ffc8 56%,#69ffe2 60%,#55f2f6 64%,#52edfa 68%,#63ffe8 72%,#7fffcc 76%,#9effad 80%,#b8ff93 84%,#c5ff86 88%,#c1ff8a 92%,#c1ff8a 96%,#c1ff8a 100%)"></div><div style="background:linear-gradient(90deg,#ffbe52 0%,#ffbe52 4%,#ffbe52 8%,#ffc152 12%,#ffc352 16%,#ffcb52 20%,#ffd252 24%,#ffdf52 28%,#fff052 32%,#efff5c 36%,#d9ff72 40%,#c1ff8a 44%,#abffa0 48%,#95ffb6 52%,#84ffc8 56%,#74ffd7 60%,#6effdd 64%,#70ffdb 68%,#7bffd0 72%,#8cffbf 76%,#a0ffab 80%,#b2ff99 84%,#bfff8c 88%,#c1ff8a 92%,#c1ff8a 96%,#c1ff8a 100%)"></div><div style="background:linear-gradient(90deg,#ffcb52 0%,#ffcb52 4%,#ffcb52 8%,#ffcd52 12%,#ffd052 16%,#ffd752 20%,#ffe152 24%,#ffee52 28%,#f3ff58 32%,#ddff6e 36%,#c8ff84 40%,#afff9c 44%,#9cffaf 48%,#8cffbf 52%,#81ffca 56%,#7dffce 60%,#7dffce 64%,#81ffca 68%,#8affc1 72%,#95ffb6 76%,#a0ffab 80%,#adff9e 84%,#baff91 88%,#c3ff88 92%,#c3ff88 96%,#c3ff88 100%)"></div><div style="background:linear-gradient(90deg,#ffd752 0%,#ffd752 4%,#ffd752 8%,#ffdc52 12%,#ffe152 16%,#ffe952 20%,#fef352 24%,#f3ff58 28%,#e2ff69 32%,#ccff7f 36%,#b4ff97 40%,#9cffaf 44%,#8cffbf 48%,#84ffc8 52%,#7fffcc 56%,#81ffca 60%,#86ffc5 64%,#8cffbf 68%,#93ffb8 72%,#99ffb2 76%,#a2ffa9 80%,#abffa0 84%,#b8ff93 88%,#c3ff88 92%,#c3ff88 96%,#c3ff88 100%)"></div><div style="background:linear-gradient(90deg,#ffe952 0%,#ffe952 4%,#ffe952 8%,#ffee52 12%,#fef352 16%,#f8fa53 20%,#edff5e 24%,#e0ff6b 28%,#ceff7d 32%,#b8ff93 36%,#9effad 40%,#8affc1 44%,#7fffcc 48%,#7bffd0 52%,#7dffce 56%,#84ffc8 60%,#8affc1 64%,#91ffba 68%,#97ffb4 72%,#9effad 76%,#a4ffa7 80%,#adff9e 84%,#b8ff93 88%,#c3ff88 92%,#c3ff88 96%,#c3ff88 100%)"></div><div style="background:linear-gradient(90deg,#f6fd55 0%,#f6fd55 4%,#f6fd55 8%,#f1ff5a 12%,#ebff60 16%,#e4ff67 20%,#dbff70 24%,#ceff7d 28%,#baff91 32%,#a2ffa9 36%,#8affc1 40%,#79ffd2 44%,#72ffd9 48%,#74ffd7 52%,#7bffd0 56%,#84ffc8 60%,#8affc1 64%,#91ffba 68%,#97ffb4 72%,#9effad 76%,#a4ffa7 80%,#adff9e 84%,#b8ff93 88%,#c1ff8a 92%,#c1ff8a 96%,#c1ff8a 100%)"></div><div style="background:linear-gradient(90deg,#e0ff6b 0%,#e0ff6b 4%,#e0ff6b 8%,#dbff70 12%,#d7ff74 16%,#d0ff7b 20%,#c8ff84 24%,#baff91 28%,#a7ffa4 32%,#91ffba 36%,#79ffd2 40%,#69ffe2 44%,#67ffe4 48%,#70ffdb 52%,#7bffd0 56%,#81ffca 60%,#88ffc3 64%,#8cffbf 68%,#95ffb6 72%,#9effad 76%,#a7ffa4 80%,#b2ff99 84%,#baff91 88%,#c1ff8a 92%,#c1ff8a 96%,#c1ff8a 100%)"></div><div style="background:linear-gradient(90deg,#c8ff84 0%,#c8ff84 4%,#c8ff84 8%,#c5ff86 12%,#c1ff8a 16%,#baff91 20%,#b2ff99 24%,#a7ffa4 28%,#95ffb6 32%,#7fffcc 36%,#69ffe2 40%,#5efded 44%,#60ffeb 48%,#6effdd 52%,#79ffd2 56%,#7fffcc 60%,#84ffc8 64%,#88ffc3 68%,#91ffba 72%,#9cffaf 76%,#a9ffa2 80%,#b4ff97 84%,#bfff8c 88%,#c1ff8a 92%,#c1ff8a 96%,#c1ff8a 100%)"></div><div style="background:linear-gradient(90deg,#adff9e 0%,#adff9e 4%,#adff9e 8%,#abffa0 12%,#a9ffa2 16%,#a4ffa7 20%,#9effad 24%,#93ffb8 28%,#86ffc5 32%,#72ffd9 36%,#5efded 40%,#55f2f6 44%,#5cfbef 48%,#6bffe0 52%,#79ffd2 56%,#7fffcc 60%,#81ffca 64%,#84ffc8 68%,#8effbd 72%,#9cffaf 76%,#abffa0 80%,#b8ff93 84%,#c1ff8a 88%,#c1ff8a 92%,#c1ff8a 96%,#c1ff8a 100%)"></div><div style="background:linear-gradient(90deg,#8effbd 0%,#8effbd 4%,#8effbd 8%,#8effbd 12%,#8effbd 16%,#8effbd 20%,#8affc1 24%,#84ffc8 28%,#79ffd2 32%,#67ffe4 36%,#5af8f1 40%,#53f0f8 44%,#5cfbef 48%,#6effdd 52%,#7bffd0 56%,#7fffcc 60%,#7fffcc 64%,#84ffc8 68%,#8cffbf 72%,#9cffaf 76%,#adff9e 80%,#baff91 84%,#c3ff88 88%,#c1ff8a 92%,#c1ff8a 96%,#c1ff8a 100%)"></div><div style="background:linear-gradient(90deg,#6bffe0 0%,#6bffe0 4%,#6bffe0 8%,#70ffdb 12%,#74ffd7 16%,#76ffd5 20%,#79ffd2 24%,#76ffd5 28%,#6effdd 32%,#63ffe8 36%,#5af8f1 40%,#58f5f3 44%,#60ffeb 48%,#72ffd9 52%,#7fffcc 56%,#84ffc8 60%,#84ffc8 64%,#86ffc5 68%,#91ffba 72%,#9effad 76%,#afff9c 80%,#bdff8e 84%,#c3ff88 88%,#c3ff88 92%,#c3ff88 96%,#c3ff88 100%)"></div><div style="background:linear-gradient(90deg,#52dfff 0%,#52dfff 4%,#52dfff 8%,#52eafc 12%,#58f5f3 16%,#60ffeb 20%,#67ffe4 24%,#6bffe0 28%,#69ffe2 32%,#65ffe6 36%,#60ffeb 40%,#60ffeb 44%,#6bffe0 48%,#79ffd2 52%,#86ffc5 56%,#8affc1 60%,#8cffbf 64%,#91ffba 68%,#97ffb4 72%,#a4ffa7 76%,#afff9c 80%,#baff91 84%,#c3ff88 88%,#c5ff86 92%,#c5ff86 96%,#c5ff86 100%)"></div><div style="background:linear-gradient(90deg,#52acff 0%,#52acff 4%,#52acff 8%,#52bcff 12%,#52d4ff 16%,#52e8fe 20%,#5af8f1 24%,#65ffe6 28%,#6bffe0 32%,#70ffdb 36%,#70ffdb 40%,#74ffd7 44%,#7bffd0 48%,#84ffc8 52%,#8effbd 56%,#95ffb6 60%,#9cffaf 64%,#a2ffa9 68%,#a7ffa4 72%,#abffa0 76%,#b2ff99 80%,#b8ff93 84%,#c1ff8a 88%,#c8ff84 92%,#c8ff84 96%,#c8ff84 100%)"></div><div style="background:linear-gradient(90deg,#52a1ff 0%,#52a1ff 4%,#52a1ff 8%,#52b4ff 12%,#52ccff 16%,#52e2ff 20%,#58f5f3 24%,#65ffe6 28%,#6effdd 32%,#72ffd9 36%,#74ffd7 40%,#79ffd2 44%,#7fffcc 48%,#86ffc5 52%,#91ffba 56%,#99ffb2 60%,#a0ffab 64%,#a7ffa4 68%,#abffa0 72%,#adff9e 76%,#b2ff99 80%,#b8ff93 84%,#bfff8c 88%,#c8ff84 92%,#c8ff84 96%,#c8ff84 100%)"></div><div style="background:linear-gradient(90deg,#52a1ff 0%,#52a1ff 4%,#52a1ff 8%,#52b4ff 12%,#52ccff 16%,#52e2ff 20%,#58f5f3 24%,#65ffe6 28%,#6effdd 32%,#72ffd9 36%,#74ffd7 40%,#79ffd2 44%,#7fffcc 48%,#86ffc5 52%,#91ffba 56%,#99ffb2 60%,#a0ffab 64%,#a7ffa4 68%,#abffa0 72%,#adff9e 76%,#b2ff99 80%,#b8ff93 84%,#bfff8c 88%,#c8ff84 92%,#c8ff84 96%,#c8ff84 100%)"></div><div style="background:linear-gradient(90deg,#52a1ff 0%,#52a1ff 4%,#52a1ff 8%,#52b4ff 12%,#52ccff 16%,#52e2ff 20%,#58f5f3 24%,#65ffe6 28%,#6effdd 32%,#72ffd9 36%,#74ffd7 40%,#79ffd2 44%,#7fffcc 48%,#86ffc5 52%,#91ffba 56%,#99ffb2 60%,#a0ffab 64%,#a7ffa4 68%,#abffa0 72%,#adff9e 76%,#b2ff99 80%,#b8ff93 84%,#bfff8c 88%,#c8ff84 92%,#c8ff84 96%,#c8ff84 100%)"></div><div style="background:linear-gradient(90deg,#52a1ff 0%,#52a1ff 4%,#52a1ff 8%,#52b4ff 12%,#52ccff 16%,#52e2ff 20%,#58f5f3 24%,#65ffe6 28%,#6effdd 32%,#72ffd9 36%,#74ffd7 40%,#79ffd2 44%,#7fffcc 48%,#86ffc5 52%,#91ffba 56%,#99ffb2 60%,#a0ffab 64%,#a7ffa4 68%,#abffa0 72%,#adff9e 76%,#b2ff99 80%,#b8ff93 84%,#bfff8c 88%,#c8ff84 92%,#c8ff84 96%,#c8ff84 100%)"></div><div style="background:linear-gradient(90deg,#52a1ff 0%,#52a1ff 4%,#52a1ff 8%,#52b4ff 12%,#52ccff 16%,#52e2ff 20%,#58f5f3 24%,#65ffe6 28%,#6effdd 32%,#72ffd9 36%,#74ffd7 40%,#79ffd2 44%,#7fffcc 48%,#86ffc5 52%,#91ffba 56%,#99ffb2 60%,#a0ffab 64%,#a7ffa4 68%,#abffa0 72%,#adff9e 76%,#b2ff99 80%,#b8ff93 84%,#bfff8c 88%,#c8ff84 92%,#c8ff84 96%,#c8ff84 100%)"></div></div></div>
<div class="hm" style="left:1099.3px;top:962.4px;width:225px;height:225px"><div class="hmi" style="left:-8px;top:-8px;width:241px"><div style="background:linear-gradient(90deg,#5252f6 0%,#5252f6 4%,#5252f6 8%,#5252ec 12%,#5252e6 16%,#5252e6 20%,#5252e9 24%,#5252ef 28%,#5252f6 32%,#5252fc 36%,#5252ff 40%,#525aff 44%,#5270ff 48%,#528bff 52%,#52a1ff 56%,#52b4ff 60%,#52c1ff 64%,#52ccff 68%,#52d7ff 72%,#52e5ff 76%,#53f0f8 80%,#5af8f1 84%,#60ffeb 88%,#63ffe8 92%,#63ffe8 96%,#63ffe8 100%)"></div><div style="background:linear-gradient(90deg,#5252f6 0%,#5252f6 4%,#5252f6 8%,#5252ec 12%,#5252e6 16%,#5252e6 20%,#5252e9 24%,#5252ef 28%,#5252f6 32%,#5252fc 36%,#5252ff 40%,#525aff 44%,#5270ff 48%,#528bff 52%,#52a1ff 56%,#52b4ff 60%,#52c1ff 64%,#52ccff 68%,#52d7ff 72%,#52e5ff 76%,#53f0f8 80%,#5af8f1 84%,#60ffeb 88%,#63ffe8 92%,#63ffe8 96%,#63ffe8 100%)"></div><div style="background:linear-gradient(90deg,#5252f6 0%,#5252f6 4%,#5252f6 8%,#5252ec 12%,#5252e6 16%,#5252e6 20%,#5252e9 24%,#5252ef 28%,#5252f6 32%,#5252fc 36%,#5252ff 40%,#525aff 44%,#5270ff 48%,#528bff 52%,#52a1ff 56%,#52b4ff 60%,#52c1ff 64%,#52ccff 68%,#52d7ff 72%,#52e5ff 76%,#53f0f8 80%,#5af8f1 84%,#60ffeb 88%,#63ffe8 92%,#63ffe8 96%,#63ffe8 100%)"></div><div style="background:linear-gradient(90deg,#5252f6 0%,#5252f6 4%,#5252f6 8%,#5252ec 12%,#5252e6 16%,#5252e6 20%,#5252e9 24%,#5252ef 28%,#5252f6 32%,#5252fc 36%,#5252ff 40%,#525aff 44%,#5270ff 48%,#528bff 52%,#52a1ff 56%,#52b4ff 60%,#52c1ff 64%,#52ccff 68%,#52d7ff 72%,#52e5ff 76%,#53f0f8 80%,#5af8f1 84%,#60ffeb 88%,#63ffe8 92%,#63ffe8 96%,#63ffe8 100%)"></div><div style="background:linear-gradient(90deg,#5252f6 0%,#5252f6 4%,#5252f6 8%,#5252ec 12%,#5252e6 16%,#5252e6 20%,#5252e9 24%,#5252ef 28%,#5252f6 32%,#5252fc 36%,#5252ff 40%,#525aff 44%,#5273ff 48%,#528bff 52%,#52a4ff 56%,#52b7ff 60%,#52c4ff 64%,#52cfff 68%,#52daff 72%,#52e8fe 76%,#55f2f6 80%,#5cfbef 84%,#63ffe8 88%,#65ffe6 92%,#65ffe6 96%,#65ffe6 100%)"></div><div style="background:linear-gradient(90deg,#5252f9 0%,#5252f9 4%,#5252f9 8%,#5252ec 12%,#5252e3 16%,#5252e0 20%,#5252e3 24%,#5252e9 28%,#5252f2 32%,#5252fc 36%,#5252ff 40%,#5265ff 44%,#5283ff 48%,#52a1ff 52%,#52bcff 56%,#52d2ff 60%,#52e2ff 64%,#52edfa 68%,#5cfbef 72%,#65ffe6 76%,#6bffe0 80%,#72ffd9 84%,#76ffd5 88%,#76ffd5 92%,#76ffd5 96%,#76ffd5 100%)"></div><div style="background:linear-gradient(90deg,#5252f9 0%,#5252f9 4%,#5252f9 8%,#5252e9 12%,#5252e0 16%,#5252da 20%,#5252dd 24%,#5252e3 28%,#5252ef 32%,#5252ff 36%,#525aff 40%,#5273ff 44%,#5290ff 48%,#52b4ff 52%,#52d2ff 56%,#52e8fe 60%,#5af8f1 64%,#65ffe6 68%,#6effdd 72%,#76ffd5 76%,#7fffcc 80%,#84ffc8 84%,#86ffc5 88%,#86ffc5 92%,#86ffc5 96%,#86ffc5 100%)"></div><div style="background:linear-gradient(90deg,#5252f9 0%,#5252f9 4%,#5252f9 8%,#5252e9 12%,#5252dd 16%,#5252d7 20%,#5252da 24%,#5252e0 28%,#5252ef 32%,#5252ff 36%,#5262ff 40%,#527dff 44%,#52a1ff 48%,#52c4ff 52%,#52e2ff 56%,#5cfbef 60%,#69ffe2 64%,#74ffd7 68%,#7dffce 72%,#86ffc5 76%,#8cffbf 80%,#93ffb8 84%,#95ffb6 88%,#95ffb6 92%,#95ffb6 96%,#95ffb6 100%)"></div><div style="background:linear-gradient(90deg,#5252f9 0%,#5252f9 4%,#5252f9 8%,#5252e9 12%,#5252dd 16%,#5252d7 20%,#5252d7 24%,#5252e0 28%,#5252ef 32%,#5252ff 36%,#526aff 40%,#528bff 44%,#52aeff 48%,#52d4ff 52%,#55f2f6 56%,#67ffe4 60%,#74ffd7 64%,#7fffcc 68%,#88ffc3 72%,#91ffba 76%,#99ffb2 80%,#9effad 84%,#a0ffab 88%,#a0ffab 92%,#a0ffab 96%,#a0ffab 100%)"></div><div style="background:linear-gradient(90deg,#5252f6 0%,#5252f6 4%,#5252f6 8%,#5252e9 12%,#5252dd 16%,#5252d7 20%,#5252d7 24%,#5252e0 28%,#5252f2 32%,#5255ff 36%,#5275ff 40%,#5299ff 44%,#52bfff 48%,#52e2ff 52%,#5efded 56%,#70ffdb 60%,#7dffce 64%,#88ffc3 68%,#91ffba 72%,#9cffaf 76%,#a2ffa9 80%,#a9ffa2 84%,#abffa0 88%,#abffa0 92%,#abffa0 96%,#abffa0 100%)"></div><div style="background:linear-gradient(90deg,#5252f6 0%,#5252f6 4%,#5252f6 8%,#5252e9 12%,#5252e0 16%,#5252d7 20%,#5252d7 24%,#5252e0 28%,#5252f6 32%,#525aff 36%,#527dff 40%,#52a6ff 44%,#52ccff 48%,#52edfa 52%,#67ffe4 56%,#76ffd5 60%,#84ffc8 64%,#8effbd 68%,#99ffb2 72%,#a2ffa9 76%,#abffa0 80%,#b2ff99 84%,#b6ff95 88%,#b6ff95 92%,#b6ff95 96%,#b6ff95 100%)"></div><div style="background:linear-gradient(90deg,#5252f2 0%,#5252f2 4%,#5252f2 8%,#5252e9 12%,#5252e0 16%,#5252da 20%,#5252da 24%,#5252e3 28%,#5252f9 32%,#5262ff 36%,#5288ff 40%,#52b4ff 44%,#52d7ff 48%,#5af8f1 52%,#6effdd 56%,#7dffce 60%,#8affc1 64%,#93ffb8 68%,#9effad 72%,#a9ffa2 76%,#b2ff99 80%,#baff91 84%,#bfff8c 88%,#bfff8c 92%,#bfff8c 96%,#bfff8c 100%)"></div><div style="background:linear-gradient(90deg,#5252ef 0%,#5252ef 4%,#5252ef 8%,#5252e9 12%,#5252e3 16%,#5252dd 20%,#5252dd 24%,#5252e6 28%,#5252ff 32%,#5268ff 36%,#5293ff 40%,#52bfff 44%,#52e5ff 48%,#63ffe8 52%,#74ffd7 56%,#84ffc8 60%,#8effbd 64%,#99ffb2 68%,#a4ffa7 72%,#afff9c 76%,#baff91 80%,#c1ff8a 84%,#c8ff84 88%,#c8ff84 92%,#c8ff84 96%,#c8ff84 100%)"></div><div style="background:linear-gradient(90deg,#5252ec 0%,#5252ec 4%,#5252ec 8%,#5252e9 12%,#5252e3 16%,#5252e0 20%,#5252e0 24%,#5252ec 28%,#5252ff 32%,#5273ff 36%,#529eff 40%,#52caff 44%,#53f0f8 48%,#69ffe2 52%,#7bffd0 56%,#8affc1 60%,#95ffb6 64%,#a0ffab 68%,#abffa0 72%,#b6ff95 76%,#c1ff8a 80%,#caff81 84%,#d0ff7b 88%,#d0ff7b 92%,#d0ff7b 96%,#d0ff7b 100%)"></div><div style="background:linear-gradient(90deg,#5252e9 0%,#5252e9 4%,#5252e9 8%,#5252e9 12%,#5252e3 16%,#5252e3 20%,#5252e6 24%,#5252f2 28%,#5255ff 32%,#527bff 36%,#52a9ff 40%,#52d4ff 44%,#5af8f1 48%,#72ffd9 52%,#81ffca 56%,#91ffba 60%,#9cffaf 64%,#a7ffa4 68%,#b2ff99 72%,#bfff8c 76%,#caff81 80%,#d2ff79 84%,#d9ff72 88%,#dbff70 92%,#dbff70 96%,#dbff70 100%)"></div><div style="background:linear-gradient(90deg,#5252e6 0%,#5252e6 4%,#5252e6 8%,#5252e6 12%,#5252e3 16%,#5252e6 20%,#5252ec 24%,#5252fc 28%,#525dff 32%,#5283ff 36%,#52b1ff 40%,#52ddff 44%,#60ffeb 48%,#79ffd2 52%,#8affc1 56%,#97ffb4 60%,#a4ffa7 64%,#b2ff99 68%,#bdff8e 72%,#c8ff84 76%,#d2ff79 80%,#ddff6e 84%,#e4ff67 88%,#e6ff65 92%,#e6ff65 96%,#e6ff65 100%)"></div><div style="background:linear-gradient(90deg,#5252e3 0%,#5252e3 4%,#5252e3 8%,#5252e3 12%,#5252e3 16%,#5252e6 20%,#5252f2 24%,#5252ff 28%,#5268ff 32%,#528eff 36%,#52b9ff 40%,#52e5ff 44%,#67ffe4 48%,#7fffcc 52%,#91ffba 56%,#a2ffa9 60%,#b2ff99 64%,#bfff8c 68%,#caff81 72%,#d5ff76 76%,#e0ff6b 80%,#e8ff63 84%,#efff5c 88%,#f3ff58 92%,#f3ff58 96%,#f3ff58 100%)"></div><div style="background:linear-gradient(90deg,#5252e0 0%,#5252e0 4%,#5252e0 8%,#5252e0 12%,#5252e3 16%,#5252e9 20%,#5252f9 24%,#5255ff 28%,#5270ff 32%,#5296ff 36%,#52c1ff 40%,#52eafc 44%,#6bffe0 48%,#84ffc8 52%,#99ffb2 56%,#adff9e 60%,#bfff8c 64%,#ceff7d 68%,#d9ff72 72%,#e4ff67 76%,#edff5e 80%,#f6fd55 84%,#fcf552 88%,#ffee52 92%,#ffee52 96%,#ffee52 100%)"></div><div style="background:linear-gradient(90deg,#5252da 0%,#5252da 4%,#5252da 8%,#5252da 12%,#5252e0 16%,#5252ec 20%,#5252ff 24%,#525dff 28%,#527bff 32%,#529eff 36%,#52c7ff 40%,#53f0f8 44%,#70ffdb 48%,#8affc1 52%,#a2ffa9 56%,#b8ff93 60%,#ccff7f 64%,#ddff6e 68%,#ebff60 72%,#f3ff58 76%,#fcf552 80%,#ffee52 84%,#ffe452 88%,#ffdf52 92%,#ffdf52 96%,#ffdf52 100%)"></div><div style="background:linear-gradient(90deg,#5252da 0%,#5252da 4%,#5252da 8%,#5252d7 12%,#5252e0 16%,#5252ef 20%,#5252ff 24%,#5265ff 28%,#5283ff 32%,#52a6ff 36%,#52ccff 40%,#55f2f6 44%,#72ffd9 48%,#8effbd 52%,#a9ffa2 56%,#c3ff88 60%,#dbff70 64%,#edff5e 68%,#faf852 72%,#ffee52 76%,#ffe452 80%,#ffdc52 84%,#ffd552 88%,#ffcd52 92%,#ffcd52 96%,#ffcd52 100%)"></div><div style="background:linear-gradient(90deg,#5252d7 0%,#5252d7 4%,#5252d7 8%,#5252d7 12%,#5252dd 16%,#5252ef 20%,#5252ff 24%,#526dff 28%,#528bff 32%,#52acff 36%,#52cfff 40%,#55f2f6 44%,#74ffd7 48%,#91ffba 52%,#afff9c 56%,#ccff7f 60%,#e6ff65 64%,#faf852 68%,#ffe652 72%,#ffdc52 76%,#ffd552 80%,#ffcd52 84%,#ffc652 88%,#ffc152 92%,#ffc152 96%,#ffc152 100%)"></div><div style="background:linear-gradient(90deg,#5252d7 0%,#5252d7 4%,#5252d7 8%,#5252d4 12%,#5252dd 16%,#5252f2 20%,#5255ff 24%,#5270ff 28%,#5290ff 32%,#52b1ff 36%,#52d2ff 40%,#55f2f6 44%,#74ffd7 48%,#93ffb8 52%,#b4ff97 56%,#d2ff79 60%,#efff5c 64%,#ffeb52 68%,#ffda52 72%,#ffcd52 76%,#ffc652 80%,#ffc152 84%,#ffbc52 88%,#ffb652 92%,#ffb652 96%,#ffb652 100%)"></div><div style="background:linear-gradient(90deg,#5252d7 0%,#5252d7 4%,#5252d7 8%,#5252d7 12%,#5252e0 16%,#5252f2 20%,#5255ff 24%,#5273ff 28%,#5290ff 32%,#52b1ff 36%,#52cfff 40%,#55f2f6 44%,#74ffd7 48%,#93ffb8 52%,#b6ff95 56%,#d5ff76 60%,#f3ff58 64%,#ffe652 68%,#ffd252 72%,#ffc352 76%,#ffb952 80%,#ffb452 84%,#ffaf52 88%,#ffac52 92%,#ffac52 96%,#ffac52 100%)"></div><div style="background:linear-gradient(90deg,#5252da 0%,#5252da 4%,#5252da 8%,#5252d7 12%,#5252e0 16%,#5252f2 20%,#5255ff 24%,#5273ff 28%,#5290ff 32%,#52aeff 36%,#52cfff 40%,#53f0f8 44%,#72ffd9 48%,#93ffb8 52%,#b4ff97 56%,#d5ff76 60%,#f3ff58 64%,#ffe152 68%,#ffcb52 72%,#ffbc52 76%,#ffaf52 80%,#ffaa52 84%,#ffa752 88%,#ffa752 92%,#ffa752 96%,#ffa752 100%)"></div><div style="background:linear-gradient(90deg,#5252dd 0%,#5252dd 4%,#5252dd 8%,#5252da 12%,#5252e3 16%,#5252f2 20%,#5255ff 24%,#5270ff 28%,#528eff 32%,#52acff 36%,#52caff 40%,#52edfa 44%,#6effdd 48%,#8effbd 52%,#afff9c 56%,#d0ff7b 60%,#f1ff5a 64%,#ffe452 68%,#ffc852 72%,#ffb452 76%,#ffa752 80%,#ffa052 84%,#ff9d52 88%,#ffa052 92%,#ffa052 96%,#ffa052 100%)"></div><div style="background:linear-gradient(90deg,#5252e3 0%,#5252e3 4%,#5252e3 8%,#5252dd 12%,#5252e3 16%,#5252f2 20%,#5252ff 24%,#526aff 28%,#5288ff 32%,#52a6ff 36%,#52c7ff 40%,#52e8fe 44%,#69ffe2 48%,#88ffc3 52%,#a9ffa2 56%,#ccff7f 60%,#edff5e 64%,#ffe652 68%,#ffc852 72%,#ffaf52 76%,#ff9d52 80%,#ff9652 84%,#ff9352 88%,#ff9852 92%,#ff9852 96%,#ff9852 100%)"></div><div style="background:linear-gradient(90deg,#5252e6 0%,#5252e6 4%,#5252e6 8%,#5252e0 12%,#5252e6 16%,#5252f2 20%,#5252ff 24%,#5268ff 28%,#5283ff 32%,#52a1ff 36%,#52c1ff 40%,#52e2ff 44%,#63ffe8 48%,#81ffca 52%,#a0ffab 56%,#c3ff88 60%,#e4ff67 64%,#ffe952 68%,#ffc852 72%,#ffaa52 76%,#ff9652 80%,#ff8952 84%,#ff8952 88%,#ff8e52 92%,#ff8e52 96%,#ff8e52 100%)"></div><div style="background:linear-gradient(90deg,#5252e9 0%,#5252e9 4%,#5252e9 8%,#5252e3 12%,#5252e6 16%,#5252f2 20%,#5252ff 24%,#5262ff 28%,#527dff 32%,#529bff 36%,#52b9ff 40%,#52daff 44%,#5cfbef 48%,#76ffd5 52%,#95ffb6 56%,#b8ff93 60%,#ddff6e 64%,#fff052 68%,#ffc852 72%,#ffa752 76%,#ff8e52 80%,#ff7f52 84%,#ff7a52 88%,#ff8252 92%,#ff8252 96%,#ff8252 100%)"></div><div style="background:linear-gradient(90deg,#5252e9 0%,#5252e9 4%,#5252e9 8%,#5252e3 12%,#5252e6 16%,#5252ef 20%,#5252ff 24%,#5260ff 28%,#527bff 32%,#5296ff 36%,#52b4ff 40%,#52d2ff 44%,#52edfa 48%,#69ffe2 52%,#88ffc3 56%,#abffa0 60%,#d5ff76 64%,#fcf552 68%,#ffc852 72%,#ffa252 76%,#ff8452 80%,#ff7052 84%,#ff6b52 88%,#ff7052 92%,#ff7052 96%,#ff7052 100%)"></div><div style="background:linear-gradient(90deg,#5252ec 0%,#5252ec 4%,#5252ec 8%,#5252e6 12%,#5252e6 16%,#5252ef 20%,#5252ff 24%,#525dff 28%,#5275ff 32%,#5290ff 36%,#52aeff 40%,#52caff 44%,#52e2ff 48%,#5efded 52%,#7bffd0 56%,#a0ffab 60%,#ccff7f 64%,#f8fa53 68%,#ffcb52 72%,#ffa052 76%,#ff7d52 80%,#ff6652 84%,#fc5c52 88%,#ff5e52 92%,#ff5e52 96%,#ff5e52 100%)"></div><div style="background:linear-gradient(90deg,#5252ef 0%,#5252ef 4%,#5252ef 8%,#5252e6 12%,#5252e6 16%,#5252ef 20%,#5252ff 24%,#525aff 28%,#5273ff 32%,#528eff 36%,#52a9ff 40%,#52c1ff 44%,#52d7ff 48%,#53f0f8 52%,#70ffdb 56%,#95ffb6 60%,#c3ff88 64%,#f3ff58 68%,#ffcb52 72%,#ff9d52 76%,#ff7852 80%,#fc5c52 84%,#ec5252 88%,#ec5252 92%,#ec5252 96%,#ec5252 100%)"></div><div style="background:linear-gradient(90deg,#5252f2 0%,#5252f2 4%,#5252f2 8%,#5252e9 12%,#5252e9 16%,#5252ef 20%,#5252ff 24%,#525aff 28%,#5273ff 32%,#528eff 36%,#52a6ff 40%,#52bfff 44%,#52d2ff 48%,#52e8fe 52%,#67ffe4 56%,#8effbd 60%,#bfff8c 64%,#f1ff5a 68%,#ffcb52 72%,#ff9b52 76%,#ff7552 80%,#f65752 84%,#e35252 88%,#e05252 92%,#e05252 96%,#e05252 100%)"></div><div style="background:linear-gradient(90deg,#5252f6 0%,#5252f6 4%,#5252f6 8%,#5252ef 12%,#5252ec 16%,#5252f2 20%,#5252ff 24%,#525dff 28%,#5275ff 32%,#528eff 36%,#52a6ff 40%,#52bcff 44%,#52cfff 48%,#52e5ff 52%,#65ffe6 56%,#8cffbf 60%,#bdff8e 64%,#f1ff5a 68%,#ffcd52 72%,#ff9d52 76%,#ff7552 80%,#f95952 84%,#e35252 88%,#dd5252 92%,#dd5252 96%,#dd5252 100%)"></div><div style="background:linear-gradient(90deg,#5252fc 0%,#5252fc 4%,#5252fc 8%,#5252f6 12%,#5252f2 16%,#5252f9 20%,#5252ff 24%,#5262ff 28%,#5278ff 32%,#5290ff 36%,#52a9ff 40%,#52bfff 44%,#52d2ff 48%,#52e8fe 52%,#67ffe4 56%,#91ffba 60%,#c1ff8a 64%,#f1ff5a 68%,#ffcd52 72%,#ffa052 76%,#ff7a52 80%,#ff5e52 84%,#ec5252 88%,#e65252 92%,#e65252 96%,#e65252 100%)"></div><div style="background:linear-gradient(90deg,#5252ff 0%,#5252ff 4%,#5252ff 8%,#5252fc 12%,#5252fc 16%,#5252ff 20%,#5257ff 24%,#526aff 28%,#527dff 32%,#5296ff 36%,#52acff 40%,#52c4ff 44%,#52daff 48%,#55f2f6 52%,#72ffd9 56%,#97ffb4 60%,#c5ff86 64%,#f3ff58 68%,#ffd052 72%,#ffa752 76%,#ff8452 80%,#ff6d52 84%,#ff5e52 88%,#fc5c52 92%,#fc5c52 96%,#fc5c52 100%)"></div><div style="background:linear-gradient(90deg,#5252ff 0%,#5252ff 4%,#5252ff 8%,#5252ff 12%,#5252ff 16%,#5255ff 20%,#5262ff 24%,#5273ff 28%,#5288ff 32%,#529eff 36%,#52b4ff 40%,#52ccff 44%,#52e5ff 48%,#60ffeb 52%,#7dffce 56%,#a4ffa7 60%,#ceff7d 64%,#f6fd55 68%,#ffd252 72%,#ffaf52 76%,#ff9152 80%,#ff7d52 84%,#ff7252 88%,#ff7052 92%,#ff7052 96%,#ff7052 100%)"></div><div style="background:linear-gradient(90deg,#525aff 0%,#525aff 4%,#525aff 8%,#5257ff 12%,#525aff 16%,#5260ff 20%,#526dff 24%,#527dff 28%,#5290ff 32%,#52a6ff 36%,#52bfff 40%,#52d7ff 44%,#55f2f6 48%,#70ffdb 52%,#8effbd 56%,#b2ff99 60%,#d7ff74 64%,#faf852 68%,#ffd552 72%,#ffb652 76%,#ffa052 80%,#ff9352 84%,#ff8c52 88%,#ff8c52 92%,#ff8c52 96%,#ff8c52 100%)"></div><div style="background:linear-gradient(90deg,#5265ff 0%,#5265ff 4%,#5265ff 8%,#5262ff 12%,#5265ff 16%,#526dff 20%,#527bff 24%,#528bff 28%,#529eff 32%,#52b1ff 36%,#52caff 40%,#52e5ff 44%,#63ffe8 48%,#7fffcc 52%,#9effad 56%,#bfff8c 60%,#e0ff6b 64%,#fcf552 68%,#ffda52 72%,#ffc352 76%,#ffb152 80%,#ffa752 84%,#ffa552 88%,#ffa752 92%,#ffa752 96%,#ffa752 100%)"></div><div style="background:linear-gradient(90deg,#526dff 0%,#526dff 4%,#526dff 8%,#526dff 12%,#5270ff 16%,#527bff 20%,#5288ff 24%,#5299ff 28%,#52acff 32%,#52bfff 36%,#52d7ff 40%,#55f2f6 44%,#70ffdb 48%,#8effbd 52%,#adff9e 56%,#ccff7f 60%,#e6ff65 64%,#fef352 68%,#ffdf52 72%,#ffcd52 76%,#ffc352 80%,#ffbe52 84%,#ffbe52 88%,#ffc352 92%,#ffc352 96%,#ffc352 100%)"></div><div style="background:linear-gradient(90deg,#5275ff 0%,#5275ff 4%,#5275ff 8%,#5275ff 12%,#527dff 16%,#5288ff 20%,#5296ff 24%,#52a6ff 28%,#52b9ff 32%,#52cfff 36%,#52e5ff 40%,#63ffe8 44%,#7fffcc 48%,#9effad 52%,#bdff8e 56%,#d7ff74 60%,#edff5e 64%,#fef352 68%,#ffe452 72%,#ffda52 76%,#ffd252 80%,#ffd252 84%,#ffd752 88%,#ffdc52 92%,#ffdc52 96%,#ffdc52 100%)"></div><div style="background:linear-gradient(90deg,#527dff 0%,#527dff 4%,#527dff 8%,#5280ff 12%,#5288ff 16%,#5293ff 20%,#52a4ff 24%,#52b7ff 28%,#52caff 32%,#52dfff 36%,#58f5f3 40%,#70ffdb 44%,#8cffbf 48%,#abffa0 52%,#c8ff84 56%,#ddff6e 60%,#efff5c 64%,#fcf552 68%,#ffeb52 72%,#ffe452 76%,#ffe152 80%,#ffe452 84%,#ffeb52 88%,#fff052 92%,#fff052 96%,#fff052 100%)"></div><div style="background:linear-gradient(90deg,#5286ff 0%,#5286ff 4%,#5286ff 8%,#5288ff 12%,#5293ff 16%,#52a1ff 20%,#52b1ff 24%,#52c4ff 28%,#52daff 32%,#53f0f8 36%,#67ffe4 40%,#7dffce 44%,#97ffb4 48%,#b4ff97 52%,#ceff7d 56%,#e0ff6b 60%,#edff5e 64%,#f8fa53 68%,#fef352 72%,#fff052 76%,#ffee52 80%,#fff052 84%,#faf852 88%,#f3ff58 92%,#f3ff58 96%,#f3ff58 100%)"></div><div style="background:linear-gradient(90deg,#528bff 0%,#528bff 4%,#528bff 8%,#5290ff 12%,#529eff 16%,#52acff 20%,#52bfff 24%,#52d4ff 28%,#52eafc 32%,#63ffe8 36%,#76ffd5 40%,#8affc1 44%,#a2ffa9 48%,#b8ff93 52%,#ccff7f 56%,#dbff70 60%,#e6ff65 64%,#efff5c 68%,#f6fd55 72%,#f8fa53 76%,#faf852 80%,#f8fa53 84%,#f3ff58 88%,#edff5e 92%,#edff5e 96%,#edff5e 100%)"></div><div style="background:linear-gradient(90deg,#5290ff 0%,#5290ff 4%,#5290ff 8%,#5299ff 12%,#52a4ff 16%,#52b7ff 20%,#52ccff 24%,#52e2ff 28%,#5cfbef 32%,#72ffd9 36%,#86ffc5 40%,#97ffb4 44%,#a9ffa2 48%,#b8ff93 52%,#c5ff86 56%,#d0ff7b 60%,#d9ff72 64%,#e2ff69 68%,#ebff60 72%,#f1ff5a 76%,#f6fd55 80%,#f8fa53 84%,#f6fd55 88%,#f1ff5a 92%,#f1ff5a 96%,#f1ff5a 100%)"></div><div style="background:linear-gradient(90deg,#5293ff 0%,#5293ff 4%,#5293ff 8%,#5299ff 12%,#52a6ff 16%,#52b9ff 20%,#52cfff 24%,#52e5ff 28%,#60ffeb 32%,#74ffd7 36%,#88ffc3 40%,#99ffb2 44%,#a9ffa2 48%,#b6ff95 52%,#c3ff88 56%,#ccff7f 60%,#d7ff74 64%,#e0ff6b 68%,#e8ff63 72%,#efff5c 76%,#f6fd55 80%,#f8fa53 84%,#f8fa53 88%,#f3ff58 92%,#f3ff58 96%,#f3ff58 100%)"></div><div style="background:linear-gradient(90deg,#5293ff 0%,#5293ff 4%,#5293ff 8%,#5299ff 12%,#52a6ff 16%,#52b9ff 20%,#52cfff 24%,#52e5ff 28%,#60ffeb 32%,#74ffd7 36%,#88ffc3 40%,#99ffb2 44%,#a9ffa2 48%,#b6ff95 52%,#c3ff88 56%,#ccff7f 60%,#d7ff74 64%,#e0ff6b 68%,#e8ff63 72%,#efff5c 76%,#f6fd55 80%,#f8fa53 84%,#f8fa53 88%,#f3ff58 92%,#f3ff58 96%,#f3ff58 100%)"></div><div style="background:linear-gradient(90deg,#5293ff 0%,#5293ff 4%,#5293ff 8%,#5299ff 12%,#52a6ff 16%,#52b9ff 20%,#52cfff 24%,#52e5ff 28%,#60ffeb 32%,#74ffd7 36%,#88ffc3 40%,#99ffb2 44%,#a9ffa2 48%,#b6ff95 52%,#c3ff88 56%,#ccff7f 60%,#d7ff74 64%,#e0ff6b 68%,#e8ff63 72%,#efff5c 76%,#f6fd55 80%,#f8fa53 84%,#f8fa53 88%,#f3ff58 92%,#f3ff58 96%,#f3ff58 100%)"></div><div style="background:linear-gradient(90deg,#5293ff 0%,#5293ff 4%,#5293ff 8%,#5299ff 12%,#52a6ff 16%,#52b9ff 20%,#52cfff 24%,#52e5ff 28%,#60ffeb 32%,#74ffd7 36%,#88ffc3 40%,#99ffb2 44%,#a9ffa2 48%,#b6ff95 52%,#c3ff88 56%,#ccff7f 60%,#d7ff74 64%,#e0ff6b 68%,#e8ff63 72%,#efff5c 76%,#f6fd55 80%,#f8fa53 84%,#f8fa53 88%,#f3ff58 92%,#f3ff58 96%,#f3ff58 100%)"></div><div style="background:linear-gradient(90deg,#5293ff 0%,#5293ff 4%,#5293ff 8%,#5299ff 12%,#52a6ff 16%,#52b9ff 20%,#52cfff 24%,#52e5ff 28%,#60ffeb 32%,#74ffd7 36%,#88ffc3 40%,#99ffb2 44%,#a9ffa2 48%,#b6ff95 52%,#c3ff88 56%,#ccff7f 60%,#d7ff74 64%,#e0ff6b 68%,#e8ff63 72%,#efff5c 76%,#f6fd55 80%,#f8fa53 84%,#f8fa53 88%,#f3ff58 92%,#f3ff58 96%,#f3ff58 100%)"></div></div></div>
<svg width="1417" height="1610" viewBox="0 0 1417 1610">
<circle cx="171.1" cy="659.9" r="3.3"/>
<circle cx="171.1" cy="687.96" r="3.3"/>
<circle cx="171.1" cy="716.02" r="3.3"/>
<circle cx="171.1" cy="744.08" r="3.3"/>
<circle cx="171.1" cy="772.14" r="3.3"/>
<circle cx="171.1" cy="800.2" r="3.3"/>
<circle cx="171.1" cy="828.26" r="3.3"/>
<circle cx="171.1" cy="856.32" r="3.3"/>
<circle cx="199.16" cy="659.9" r="3.3"/>
<circle cx="199.16" cy="687.96" r="3.3"/>
<circle cx="199.16" cy="716.02" r="3.3"/>
<circle cx="199.16" cy="744.08" r="3.3"/>
<circle cx="199.16" cy="772.14" r="3.3"/>
<circle cx="199.16" cy="800.2" r="3.3"/>
<circle cx="199.16" cy="828.26" r="3.3"/>
<circle cx="199.16" cy="856.32" r="3.3"/>
<circle cx="227.22" cy="659.9" r="3.3"/>
<circle cx="227.22" cy="687.96" r="3.3"/>
<circle cx="227.22" cy="716.02" r="3.3"/>
<circle cx="227.22" cy="744.08" r="3.3"/>
<circle cx="227.22" cy="772.14" r="3.3"/>
<circle cx="227.22" cy="800.2" r="3.3"/>
<circle cx="227.22" cy="828.26" r="3.3"/>
<circle cx="227.22" cy="856.32" r="3.3"/>
<circle cx="255.28" cy="659.9" r="3.3"/>
<circle cx="255.28" cy="687.96" r="3.3"/>
<circle cx="255.28" cy="716.02" r="3.3"/>
<circle cx="255.28" cy="744.08" r="3.3"/>
<circle cx="255.28" cy="772.14" r="3.3"/>
<circle cx="255.28" cy="800.2" r="3.3"/>
<circle cx="255.28" cy="828.26" r="3.3"/>
<circle cx="255.28" cy="856.32" r="3.3"/>
<circle cx="283.34" cy="659.9" r="3.3"/>
<circle cx="283.34" cy="687.96" r="3.3"/>
<circle cx="283.34" cy="716.02" r="3.3"/>
<circle cx="283.34" cy="744.08" r="3.3"/>
<circle cx="283.34" cy="772.14" r="3.3"/>
<circle cx="283.34" cy="800.2" r="3.3"/>
<circle cx="283.34" cy="828.26" r="3.3"/>
<circle cx="283.34" cy="856.32" r="3.3"/>
<circle cx="311.4" cy="659.9" r="3.3"/>
<circle cx="311.4" cy="687.96" r="3.3"/>
<circle cx="311.4" cy="716.02" r="3.3"/>
<circle cx="311.4" cy="744.08" r="3.3"/>
<circle cx="311.4" cy="772.14" r="3.3"/>
<circle cx="311.4" cy="800.2" r="3.3"/>
<circle cx="311.4" cy="828.26" r="3.3"/>
<circle cx="311.4" cy="856.32" r="3.3"/>
<circle cx="339.46" cy="659.9" r="3.3"/>
<circle cx="339.46" cy="687.96" r="3.3"/>
<circle cx="339.46" cy="716.02" r="3.3"/>
<circle cx="339.46" cy="744.08" r="3.3"/>
<circle cx="339.46" cy="772.14" r="3.3"/>
<circle cx="339.46" cy="800.2" r="3.3"/>
<circle cx="339.46" cy="828.26" r="3.3"/>
<circle cx="339.46" cy="856.32" r="3.3"/>
<circle cx="367.52" cy="659.9" r="3.3"/>
<circle cx="367.52" cy="687.96" r="3.3"/>
<circle cx="367.52" cy="716.02" r="3.3"/>
<circle cx="367.52" cy="744.08" r="3.3"/>
<circle cx="367.52" cy="772.14" r="3.3"/>
<circle cx="367.52" cy="800.2" r="3.3"/>
<circle cx="367.52" cy="828.26" r="3.3"/>
<circle cx="367.52" cy="856.32" r="3.3"/>
<rect x="157" y="645.6" width="225" height="225" fill="none" stroke="#000" stroke-width="2.5"/>
<circle cx="485.1" cy="659.9" r="3.3"/>
<circle cx="485.1" cy="687.96" r="3.3"/>
<circle cx="485.1" cy="716.02" r="3.3"/>
<circle cx="485.1" cy="744.08" r="3.3"/>
<circle cx="485.1" cy="772.14" r="3.3"/>
<circle cx="485.1" cy="800.2" r="3.3"/>
<circle cx="485.1" cy="828.26" r="3.3"/>
<circle cx="485.1" cy="856.32" r="3.3"/>
<circle cx="513.16" cy="659.9" r="3.3"/>
<circle cx="513.16" cy="687.96" r="3.3"/>
<circle cx="513.16" cy="716.02" r="3.3"/>
<circle cx="513.16" cy="744.08" r="3.3"/>
<circle cx="513.16" cy="772.14" r="3.3"/>
<circle cx="513.16" cy="800.2" r="3.3"/>
<circle cx="513.16" cy="828.26" r="3.3"/>
<circle cx="513.16" cy="856.32" r="3.3"/>
<circle cx="541.22" cy="659.9" r="3.3"/>
<circle cx="541.22" cy="687.96" r="3.3"/>
<circle cx="541.22" cy="716.02" r="3.3"/>
<circle cx="541.22" cy="744.08" r="3.3"/>
<circle cx="541.22" cy="772.14" r="3.3"/>
<circle cx="541.22" cy="800.2" r="3.3"/>
<circle cx="541.22" cy="828.26" r="3.3"/>
<circle cx="541.22" cy="856.32" r="3.3"/>
<circle cx="569.28" cy="659.9" r="3.3"/>
<circle cx="569.28" cy="687.96" r="3.3"/>
<circle cx="569.28" cy="716.02" r="3.3"/>
<circle cx="569.28" cy="744.08" r="3.3"/>
<circle cx="569.28" cy="772.14" r="3.3"/>
<circle cx="569.28" cy="800.2" r="3.3"/>
<circle cx="569.28" cy="828.26" r="3.3"/>
<circle cx="569.28" cy="856.32" r="3.3"/>
<circle cx="597.34" cy="659.9" r="3.3"/>
<circle cx="597.34" cy="687.96" r="3.3"/>
<circle cx="597.34" cy="716.02" r="3.3"/>
<circle cx="597.34" cy="744.08" r="3.3"/>
<circle cx="597.34" cy="772.14" r="3.3"/>
<circle cx="597.34" cy="800.2" r="3.3"/>
<circle cx="597.34" cy="828.26" r="3.3"/>
<circle cx="597.34" cy="856.32" r="3.3"/>
<circle cx="625.4" cy="659.9" r="3.3"/>
<circle cx="625.4" cy="687.96" r="3.3"/>
<circle cx="625.4" cy="716.02" r="3.3"/>
<circle cx="625.4" cy="744.08" r="3.3"/>
<circle cx="625.4" cy="772.14" r="3.3"/>
<circle cx="625.4" cy="800.2" r="3.3"/>
<circle cx="625.4" cy="828.26" r="3.3"/>
<circle cx="625.4" cy="856.32" r="3.3"/>
<circle cx="653.46" cy="659.9" r="3.3"/>
<circle cx="653.46" cy="687.96" r="3.3"/>
<circle cx="653.46" cy="716.02" r="3.3"/>
<circle cx="653.46" cy="744.08" r="3.3"/>
<circle cx="653.46" cy="772.14" r="3.3"/>
<circle cx="653.46" cy="800.2" r="3.3"/>
<circle cx="653.46" cy="828.26" r="3.3"/>
<circle cx="653.46" cy="856.32" r="3.3"/>
<circle cx="681.52" cy="659.9" r="3.3"/>
<circle cx="681.52" cy="687.96" r="3.3"/>
<circle cx="681.52" cy="716.02" r="3.3"/>
<circle cx="681.52" cy="744.08" r="3.3"/>
<circle cx="681.52" cy="772.14" r="3.3"/>
<circle cx="681.52" cy="800.2" r="3.3"/>
<circle cx="681.52" cy="828.26" r="3.3"/>
<circle cx="681.52" cy="856.32" r="3.3"/>
<rect x="471" y="645.6" width="225" height="225" fill="none" stroke="#000" stroke-width="2.5"/>
<circle cx="799.1" cy="659.9" r="3.3"/>
<circle cx="799.1" cy="687.96" r="3.3"/>
<circle cx="799.1" cy="716.02" r="3.3"/>
<circle cx="799.1" cy="744.08" r="3.3"/>
<circle cx="799.1" cy="772.14" r="3.3"/>
<circle cx="799.1" cy="800.2" r="3.3"/>
<circle cx="799.1" cy="828.26" r="3.3"/>
<circle cx="799.1" cy="856.32" r="3.3"/>
<circle cx="827.16" cy="659.9" r="3.3"/>
<circle cx="827.16" cy="687.96" r="3.3"/>
<circle cx="827.16" cy="716.02" r="3.3"/>
<circle cx="827.16" cy="744.08" r="3.3"/>
<circle cx="827.16" cy="772.14" r="3.3"/>
<circle cx="827.16" cy="800.2" r="3.3"/>
<circle cx="827.16" cy="828.26" r="3.3"/>
<circle cx="827.16" cy="856.32" r="3.3"/>
<circle cx="855.22" cy="659.9" r="3.3"/>
<circle cx="855.22" cy="687.96" r="3.3"/>
<circle cx="855.22" cy="716.02" r="3.3"/>
<circle cx="855.22" cy="744.08" r="3.3"/>
<circle cx="855.22" cy="772.14" r="3.3"/>
<circle cx="855.22" cy="800.2" r="3.3"/>
<circle cx="855.22" cy="828.26" r="3.3"/>
<circle cx="855.22" cy="856.32" r="3.3"/>
<circle cx="883.28" cy="659.9" r="3.3"/>
<circle cx="883.28" cy="687.96" r="3.3"/>
<circle cx="883.28" cy="716.02" r="3.3"/>
<circle cx="883.28" cy="744.08" r="3.3"/>
<circle cx="883.28" cy="772.14" r="3.3"/>
<circle cx="883.28" cy="800.2" r="3.3"/>
<circle cx="883.28" cy="828.26" r="3.3"/>
<circle cx="883.28" cy="856.32" r="3.3"/>
<circle cx="911.34" cy="659.9" r="3.3"/>
<circle cx="911.34" cy="687.96" r="3.3"/>
<circle cx="911.34" cy="716.02" r="3.3"/>
<circle cx="911.34" cy="744.08" r="3.3"/>
<circle cx="911.34" cy="772.14" r="3.3"/>
<circle cx="911.34" cy="800.2" r="3.3"/>
<circle cx="911.34" cy="828.26" r="3.3"/>
<circle cx="911.34" cy="856.32" r="3.3"/>
<circle cx="939.4" cy="659.9" r="3.3"/>
<circle cx="939.4" cy="687.96" r="3.3"/>
<circle cx="939.4" cy="716.02" r="3.3"/>
<circle cx="939.4" cy="744.08" r="3.3"/>
<circle cx="939.4" cy="772.14" r="3.3"/>
<circle cx="939.4" cy="800.2" r="3.3"/>
<circle cx="939.4" cy="828.26" r="3.3"/>
<circle cx="939.4" cy="856.32" r="3.3"/>
<circle cx="967.46" cy="659.9" r="3.3"/>
<circle cx="967.46" cy="687.96" r="3.3"/>
<circle cx="967.46" cy="716.02" r="3.3"/>
<circle cx="967.46" cy="744.08" r="3.3"/>
<circle cx="967.46" cy="772.14" r="3.3"/>
<circle cx="967.46" cy="800.2" r="3.3"/>
<circle cx="967.46" cy="828.26" r="3.3"/>
<circle cx="967.46" cy="856.32" r="3.3"/>
<circle cx="995.52" cy="659.9" r="3.3"/>
<circle cx="995.52" cy="687.96" r="3.3"/>
<circle cx="995.52" cy="716.02" r="3.3"/>
<circle cx="995.52" cy="744.08" r="3.3"/>
<circle cx="995.52" cy="772.14" r="3.3"/>
<circle cx="995.52" cy="800.2" r="3.3"/>
<circle cx="995.52" cy="828.26" r="3.3"/>
<circle cx="995.52" cy="856.32" r="3.3"/>
<rect x="785" y="645.6" width="225" height="225" fill="none" stroke="#000" stroke-width="2.5"/>
<circle cx="1113.4" cy="659.9" r="3.3"/>
<circle cx="1113.4" cy="687.96" r="3.3"/>
<circle cx="1113.4" cy="716.02" r="3.3"/>
<circle cx="1113.4" cy="744.08" r="3.3"/>
<circle cx="1113.4" cy="772.14" r="3.3"/>
<circle cx="1113.4" cy="800.2" r="3.3"/>
<circle cx="1113.4" cy="828.26" r="3.3"/>
<circle cx="1113.4" cy="856.32" r="3.3"/>
<circle cx="1141.46" cy="659.9" r="3.3"/>
<circle cx="1141.46" cy="687.96" r="3.3"/>
<circle cx="1141.46" cy="716.02" r="3.3"/>
<circle cx="1141.46" cy="744.08" r="3.3"/>
<circle cx="1141.46" cy="772.14" r="3.3"/>
<circle cx="1141.46" cy="800.2" r="3.3"/>
<circle cx="1141.46" cy="828.26" r="3.3"/>
<circle cx="1141.46" cy="856.32" r="3.3"/>
<circle cx="1169.52" cy="659.9" r="3.3"/>
<circle cx="1169.52" cy="687.96" r="3.3"/>
<circle cx="1169.52" cy="716.02" r="3.3"/>
<circle cx="1169.52" cy="744.08" r="3.3"/>
<circle cx="1169.52" cy="772.14" r="3.3"/>
<circle cx="1169.52" cy="800.2" r="3.3"/>
<circle cx="1169.52" cy="828.26" r="3.3"/>
<circle cx="1169.52" cy="856.32" r="3.3"/>
<circle cx="1197.58" cy="659.9" r="3.3"/>
<circle cx="1197.58" cy="687.96" r="3.3"/>
<circle cx="1197.58" cy="716.02" r="3.3"/>
<circle cx="1197.58" cy="744.08" r="3.3"/>
<circle cx="1197.58" cy="772.14" r="3.3"/>
<circle cx="1197.58" cy="800.2" r="3.3"/>
<circle cx="1197.58" cy="828.26" r="3.3"/>
<circle cx="1197.58" cy="856.32" r="3.3"/>
<circle cx="1225.64" cy="659.9" r="3.3"/>
<circle cx="1225.64" cy="687.96" r="3.3"/>
<circle cx="1225.64" cy="716.02" r="3.3"/>
<circle cx="1225.64" cy="744.08" r="3.3"/>
<circle cx="1225.64" cy="772.14" r="3.3"/>
<circle cx="1225.64" cy="800.2" r="3.3"/>
<circle cx="1225.64" cy="828.26" r="3.3"/>
<circle cx="1225.64" cy="856.32" r="3.3"/>
<circle cx="1253.7" cy="659.9" r="3.3"/>
<circle cx="1253.7" cy="687.96" r="3.3"/>
<circle cx="1253.7" cy="716.02" r="3.3"/>
<circle cx="1253.7" cy="744.08" r="3.3"/>
<circle cx="1253.7" cy="772.14" r="3.3"/>
<circle cx="1253.7" cy="800.2" r="3.3"/>
<circle cx="1253.7" cy="828.26" r="3.3"/>
<circle cx="1253.7" cy="856.32" r="3.3"/>
<circle cx="1281.76" cy="659.9" r="3.3"/>
<circle cx="1281.76" cy="687.96" r="3.3"/>
<circle cx="1281.76" cy="716.02" r="3.3"/>
<circle cx="1281.76" cy="744.08" r="3.3"/>
<circle cx="1281.76" cy="772.14" r="3.3"/>
<circle cx="1281.76" cy="800.2" r="3.3"/>
<circle cx="1281.76" cy="828.26" r="3.3"/>
<circle cx="1281.76" cy="856.32" r="3.3"/>
<circle cx="1309.82" cy="659.9" r="3.3"/>
<circle cx="1309.82" cy="687.96" r="3.3"/>
<circle cx="1309.82" cy="716.02" r="3.3"/>
<circle cx="1309.82" cy="744.08" r="3.3"/>
<circle cx="1309.82" cy="772.14" r="3.3"/>
<circle cx="1309.82" cy="800.2" r="3.3"/>
<circle cx="1309.82" cy="828.26" r="3.3"/>
<circle cx="1309.82" cy="856.32" r="3.3"/>
<rect x="1099.3" y="645.6" width="225" height="225" fill="none" stroke="#000" stroke-width="2.5"/>
<circle cx="171.1" cy="976.7" r="3.3"/>
<circle cx="171.1" cy="1004.76" r="3.3"/>
<circle cx="171.1" cy="1032.82" r="3.3"/>
<circle cx="171.1" cy="1060.88" r="3.3"/>
<circle cx="171.1" cy="1088.94" r="3.3"/>
<circle cx="171.1" cy="1117" r="3.3"/>
<circle cx="171.1" cy="1145.06" r="3.3"/>
<circle cx="171.1" cy="1173.12" r="3.3"/>
<circle cx="199.16" cy="976.7" r="3.3"/>
<circle cx="199.16" cy="1004.76" r="3.3"/>
<circle cx="199.16" cy="1032.82" r="3.3"/>
<circle cx="199.16" cy="1060.88" r="3.3"/>
<circle cx="199.16" cy="1088.94" r="3.3"/>
<circle cx="199.16" cy="1117" r="3.3"/>
<circle cx="199.16" cy="1145.06" r="3.3"/>
<circle cx="199.16" cy="1173.12" r="3.3"/>
<circle cx="227.22" cy="976.7" r="3.3"/>
<circle cx="227.22" cy="1004.76" r="3.3"/>
<circle cx="227.22" cy="1032.82" r="3.3"/>
<circle cx="227.22" cy="1060.88" r="3.3"/>
<circle cx="227.22" cy="1088.94" r="3.3"/>
<circle cx="227.22" cy="1117" r="3.3"/>
<circle cx="227.22" cy="1145.06" r="3.3"/>
<circle cx="227.22" cy="1173.12" r="3.3"/>
<circle cx="255.28" cy="976.7" r="3.3"/>
<circle cx="255.28" cy="1004.76" r="3.3"/>
<circle cx="255.28" cy="1032.82" r="3.3"/>
<circle cx="255.28" cy="1060.88" r="3.3"/>
<circle cx="255.28" cy="1088.94" r="3.3"/>
<circle cx="255.28" cy="1117" r="3.3"/>
<circle cx="255.28" cy="1145.06" r="3.3"/>
<circle cx="255.28" cy="1173.12" r="3.3"/>
<circle cx="283.34" cy="976.7" r="3.3"/>
<circle cx="283.34" cy="1004.76" r="3.3"/>
<circle cx="283.34" cy="1032.82" r="3.3"/>
<circle cx="283.34" cy="1060.88" r="3.3"/>
<circle cx="283.34" cy="1088.94" r="3.3"/>
<circle cx="283.34" cy="1117" r="3.3"/>
<circle cx="283.34" cy="1145.06" r="3.3"/>
<circle cx="283.34" cy="1173.12" r="3.3"/>
<circle cx="311.4" cy="976.7" r="3.3"/>
<circle cx="311.4" cy="1004.76" r="3.3"/>
<circle cx="311.4" cy="1032.82" r="3.3"/>
<circle cx="311.4" cy="1060.88" r="3.3"/>
<circle cx="311.4" cy="1088.94" r="3.3"/>
<circle cx="311.4" cy="1117" r="3.3"/>
<circle cx="311.4" cy="1145.06" r="3.3"/>
<circle cx="311.4" cy="1173.12" r="3.3"/>
<circle cx="339.46" cy="976.7" r="3.3"/>
<circle cx="339.46" cy="1004.76" r="3.3"/>
<circle cx="339.46" cy="1032.82" r="3.3"/>
<circle cx="339.46" cy="1060.88" r="3.3"/>
<circle cx="339.46" cy="1088.94" r="3.3"/>
<circle cx="339.46" cy="1117" r="3.3"/>
<circle cx="339.46" cy="1145.06" r="3.3"/>
<circle cx="339.46" cy="1173.12" r="3.3"/>
<circle cx="367.52" cy="976.7" r="3.3"/>
<circle cx="367.52" cy="1004.76" r="3.3"/>
<circle cx="367.52" cy="1032.82" r="3.3"/>
<circle cx="367.52" cy="1060.88" r="3.3"/>
<circle cx="367.52" cy="1088.94" r="3.3"/>
<circle cx="367.52" cy="1117" r="3.3"/>
<circle cx="367.52" cy="1145.06" r="3.3"/>
<circle cx="367.52" cy="1173.12" r="3.3"/>
<rect x="157" y="962.4" width="225" height="225" fill="none" stroke="#000" stroke-width="2.5"/>
<circle cx="485.1" cy="976.7" r="3.3"/>
<circle cx="485.1" cy="1004.76" r="3.3"/>
<circle cx="485.1" cy="1032.82" r="3.3"/>
<circle cx="485.1" cy="1060.88" r="3.3"/>
<circle cx="485.1" cy="1088.94" r="3.3"/>
<circle cx="485.1" cy="1117" r="3.3"/>
<circle cx="485.1" cy="1145.06" r="3.3"/>
<circle cx="485.1" cy="1173.12" r="3.3"/>
<circle cx="513.16" cy="976.7" r="3.3"/>
<circle cx="513.16" cy="1004.76" r="3.3"/>
<circle cx="513.16" cy="1032.82" r="3.3"/>
<circle cx="513.16" cy="1060.88" r="3.3"/>
<circle cx="513.16" cy="1088.94" r="3.3"/>
<circle cx="513.16" cy="1117" r="3.3"/>
<circle cx="513.16" cy="1145.06" r="3.3"/>
<circle cx="513.16" cy="1173.12" r="3.3"/>
<circle cx="541.22" cy="976.7" r="3.3"/>
<circle cx="541.22" cy="1004.76" r="3.3"/>
<circle cx="541.22" cy="1032.82" r="3.3"/>
<circle cx="541.22" cy="1060.88" r="3.3"/>
<circle cx="541.22" cy="1088.94" r="3.3"/>
<circle cx="541.22" cy="1117" r="3.3"/>
<circle cx="541.22" cy="1145.06" r="3.3"/>
<circle cx="541.22" cy="1173.12" r="3.3"/>
<circle cx="569.28" cy="976.7" r="3.3"/>
<circle cx="569.28" cy="1004.76" r="3.3"/>
<circle cx="569.28" cy="1032.82" r="3.3"/>
<circle cx="569.28" cy="1060.88" r="3.3"/>
<circle cx="569.28" cy="1088.94" r="3.3"/>
<circle cx="569.28" cy="1117" r="3.3"/>
<circle cx="569.28" cy="1145.06" r="3.3"/>
<circle cx="569.28" cy="1173.12" r="3.3"/>
<circle cx="597.34" cy="976.7" r="3.3"/>
<circle cx="597.34" cy="1004.76" r="3.3"/>
<circle cx="597.34" cy="1032.82" r="3.3"/>
<circle cx="597.34" cy="1060.88" r="3.3"/>
<circle cx="597.34" cy="1088.94" r="3.3"/>
<circle cx="597.34" cy="1117" r="3.3"/>
<circle cx="597.34" cy="1145.06" r="3.3"/>
<circle cx="597.34" cy="1173.12" r="3.3"/>
<circle cx="625.4" cy="976.7" r="3.3"/>
<circle cx="625.4" cy="1004.76" r="3.3"/>
<circle cx="625.4" cy="1032.82" r="3.3"/>
<circle cx="625.4" cy="1060.88" r="3.3"/>
<circle cx="625.4" cy="1088.94" r="3.3"/>
<circle cx="625.4" cy="1117" r="3.3"/>
<circle cx="625.4" cy="1145.06" r="3.3"/>
<circle cx="625.4" cy="1173.12" r="3.3"/>
<circle cx="653.46" cy="976.7" r="3.3"/>
<circle cx="653.46" cy="1004.76" r="3.3"/>
<circle cx="653.46" cy="1032.82" r="3.3"/>
<circle cx="653.46" cy="1060.88" r="3.3"/>
<circle cx="653.46" cy="1088.94" r="3.3"/>
<circle cx="653.46" cy="1117" r="3.3"/>
<circle cx="653.46" cy="1145.06" r="3.3"/>
<circle cx="653.46" cy="1173.12" r="3.3"/>
<circle cx="681.52" cy="976.7" r="3.3"/>
<circle cx="681.52" cy="1004.76" r="3.3"/>
<circle cx="681.52" cy="1032.82" r="3.3"/>
<circle cx="681.52" cy="1060.88" r="3.3"/>
<circle cx="681.52" cy="1088.94" r="3.3"/>
<circle cx="681.52" cy="1117" r="3.3"/>
<circle cx="681.52" cy="1145.06" r="3.3"/>
<circle cx="681.52" cy="1173.12" r="3.3"/>
<rect x="471" y="962.4" width="225" height="225" fill="none" stroke="#000" stroke-width="2.5"/>
<circle cx="799.1" cy="976.7" r="3.3"/>
<circle cx="799.1" cy="1004.76" r="3.3"/>
<circle cx="799.1" cy="1032.82" r="3.3"/>
<circle cx="799.1" cy="1060.88" r="3.3"/>
<circle cx="799.1" cy="1088.94" r="3.3"/>
<circle cx="799.1" cy="1117" r="3.3"/>
<circle cx="799.1" cy="1145.06" r="3.3"/>
<circle cx="799.1" cy="1173.12" r="3.3"/>
<circle cx="827.16" cy="976.7" r="3.3"/>
<circle cx="827.16" cy="1004.76" r="3.3"/>
<circle cx="827.16" cy="1032.82" r="3.3"/>
<circle cx="827.16" cy="1060.88" r="3.3"/>
<circle cx="827.16" cy="1088.94" r="3.3"/>
<circle cx="827.16" cy="1117" r="3.3"/>
<circle cx="827.16" cy="1145.06" r="3.3"/>
<circle cx="827.16" cy="1173.12" r="3.3"/>
<circle cx="855.22" cy="976.7" r="3.3"/>
<circle cx="855.22" cy="1004.76" r="3.3"/>
<circle cx="855.22" cy="1032.82" r="3.3"/>
<circle cx="855.22" cy="1060.88" r="3.3"/>
<circle cx="855.22" cy="1088.94" r="3.3"/>
<circle cx="855.22" cy="1117" r="3.3"/>
<circle cx="855.22" cy="1145.06" r="3.3"/>
<circle cx="855.22" cy="1173.12" r="3.3"/>
<circle cx="883.28" cy="976.7" r="3.3"/>
<circle cx="883.28" cy="1004.76" r="3.3"/>
<circle cx="883.28" cy="1032.82" r="3.3"/>
<circle cx="883.28" cy="1060.88" r="3.3"/>
<circle cx="883.28" cy="1088.94" r="3.3"/>
<circle cx="883.28" cy="1117" r="3.3"/>
<circle cx="883.28" cy="1145.06" r="3.3"/>
<circle cx="883.28" cy="1173.12" r="3.3"/>
<circle cx="911.34" cy="976.7" r="3.3"/>
<circle cx="911.34" cy="1004.76" r="3.3"/>
<circle cx="911.34" cy="1032.82" r="3.3"/>
<circle cx="911.34" cy="1060.88" r="3.3"/>
<circle cx="911.34" cy="1088.94" r="3.3"/>
<circle cx="911.34" cy="1117" r="3.3"/>
<circle cx="911.34" cy="1145.06" r="3.3"/>
<circle cx="911.34" cy="1173.12" r="3.3"/>
<circle cx="939.4" cy="976.7" r="3.3"/>
<circle cx="939.4" cy="1004.76" r="3.3"/>
<circle cx="939.4" cy="1032.82" r="3.3"/>
<circle cx="939.4" cy="1060.88" r="3.3"/>
<circle cx="939.4" cy="1088.94" r="3.3"/>
<circle cx="939.4" cy="1117" r="3.3"/>
<circle cx="939.4" cy="1145.06" r="3.3"/>
<circle cx="939.4" cy="1173.12" r="3.3"/>
<circle cx="967.46" cy="976.7" r="3.3"/>
<circle cx="967.46" cy="1004.76" r="3.3"/>
<circle cx="967.46" cy="1032.82" r="3.3"/>
<circle cx="967.46" cy="1060.88" r="3.3"/>
<circle cx="967.46" cy="1088.94" r="3.3"/>
<circle cx="967.46" cy="1117" r="3.3"/>
<circle cx="967.46" cy="1145.06" r="3.3"/>
<circle cx="967.46" cy="1173.12" r="3.3"/>
<circle cx="995.52" cy="976.7" r="3.3"/>
<circle cx="995.52" cy="1004.76" r="3.3"/>
<circle cx="995.52" cy="1032.82" r="3.3"/>
<circle cx="995.52" cy="1060.88" r="3.3"/>
<circle cx="995.52" cy="1088.94" r="3.3"/>
<circle cx="995.52" cy="1117" r="3.3"/>
<circle cx="995.52" cy="1145.06" r="3.3"/>
<circle cx="995.52" cy="1173.12" r="3.3"/>
<rect x="785" y="962.4" width="225" height="225" fill="none" stroke="#000" stroke-width="2.5"/>
<circle cx="1113.4" cy="976.7" r="3.3"/>
<circle cx="1113.4" cy="1004.76" r="3.3"/>
<circle cx="1113.4" cy="1032.82" r="3.3"/>
<circle cx="1113.4" cy="1060.88" r="3.3"/>
<circle cx="1113.4" cy="1088.94" r="3.3"/>
<circle cx="1113.4" cy="1117" r="3.3"/>
<circle cx="1113.4" cy="1145.06" r="3.3"/>
<circle cx="1113.4" cy="1173.12" r="3.3"/>
<circle cx="1141.46" cy="976.7" r="3.3"/>
<circle cx="1141.46" cy="1004.76" r="3.3"/>
<circle cx="1141.46" cy="1032.82" r="3.3"/>
<circle cx="1141.46" cy="1060.88" r="3.3"/>
<circle cx="1141.46" cy="1088.94" r="3.3"/>
<circle cx="1141.46" cy="1117" r="3.3"/>
<circle cx="1141.46" cy="1145.06" r="3.3"/>
<circle cx="1141.46" cy="1173.12" r="3.3"/>
<circle cx="1169.52" cy="976.7" r="3.3"/>
<circle cx="1169.52" cy="1004.76" r="3.3"/>
<circle cx="1169.52" cy="1032.82" r="3.3"/>
<circle cx="1169.52" cy="1060.88" r="3.3"/>
<circle cx="1169.52" cy="1088.94" r="3.3"/>
<circle cx="1169.52" cy="1117" r="3.3"/>
<circle cx="1169.52" cy="1145.06" r="3.3"/>
<circle cx="1169.52" cy="1173.12" r="3.3"/>
<circle cx="1197.58" cy="976.7" r="3.3"/>
<circle cx="1197.58" cy="1004.76" r="3.3"/>
<circle cx="1197.58" cy="1032.82" r="3.3"/>
<circle cx="1197.58" cy="1060.88" r="3.3"/>
<circle cx="1197.58" cy="1088.94" r="3.3"/>
<circle cx="1197.58" cy="1117" r="3.3"/>
<circle cx="1197.58" cy="1145.06" r="3.3"/>
<circle cx="1197.58" cy="1173.12" r="3.3"/>
<circle cx="1225.64" cy="976.7" r="3.3"/>
<circle cx="1225.64" cy="1004.76" r="3.3"/>
<circle cx="1225.64" cy="1032.82" r="3.3"/>
<circle cx="1225.64" cy="1060.88" r="3.3"/>
<circle cx="1225.64" cy="1088.94" r="3.3"/>
<circle cx="1225.64" cy="1117" r="3.3"/>
<circle cx="1225.64" cy="1145.06" r="3.3"/>
<circle cx="1225.64" cy="1173.12" r="3.3"/>
<circle cx="1253.7" cy="976.7" r="3.3"/>
<circle cx="1253.7" cy="1004.76" r="3.3"/>
<circle cx="1253.7" cy="1032.82" r="3.3"/>
<circle cx="1253.7" cy="1060.88" r="3.3"/>
<circle cx="1253.7" cy="1088.94" r="3.3"/>
<circle cx="1253.7" cy="1117" r="3.3"/>
<circle cx="1253.7" cy="1145.06" r="3.3"/>
<circle cx="1253.7" cy="1173.12" r="3.3"/>
<circle cx="1281.76" cy="976.7" r="3.3"/>
<circle cx="1281.76" cy="1004.76" r="3.3"/>
<circle cx="1281.76" cy="1032.82" r="3.3"/>
<circle cx="1281.76" cy="1060.88" r="3.3"/>
<circle cx="1281.76" cy="1088.94" r="3.3"/>
<circle cx="1281.76" cy="1117" r="3.3"/>
<circle cx="1281.76" cy="1145.06" r="3.3"/>
<circle cx="1281.76" cy="1173.12" r="3.3"/>
<circle cx="1309.82" cy="976.7" r="3.3"/>
<circle cx="1309.82" cy="1004.76" r="3.3"/>
<circle cx="1309.82" cy="1032.82" r="3.3"/>
<circle cx="1309.82" cy="1060.88" r="3.3"/>
<circle cx="1309.82" cy="1088.94" r="3.3"/>
<circle cx="1309.82" cy="1117" r="3.3"/>
<circle cx="1309.82" cy="1145.06" r="3.3"/>
<circle cx="1309.82" cy="1173.12" r="3.3"/>
<rect x="1099.3" y="962.4" width="225" height="225" fill="none" stroke="#000" stroke-width="2.5"/>
<text x="14" y="613.4" font-size="33" font-weight="bold">C</text>
<rect x="266.6" y="887.8" width="5.8" height="24" fill="#228b22"/>
<path d="M254.8 910.4 L284.2 910.4 L269.5 939.2 Z" fill="#228b22"/>
<rect x="580.3" y="887.8" width="5.8" height="24" fill="#ffd700"/>
<path d="M568.5 910.4 L597.9 910.4 L583.2 939.2 Z" fill="#ffd700"/>
<rect x="894.7" y="887.8" width="5.8" height="24" fill="#ff8c00"/>
<path d="M882.9 910.4 L912.3 910.4 L897.6 939.2 Z" fill="#ff8c00"/>
<rect x="1208.6" y="887.8" width="5.8" height="24" fill="#b22222"/>
<path d="M1196.8 910.4 L1226.2 910.4 L1211.5 939.2 Z" fill="#b22222"/>
<text x="74" y="765.7" font-size="33.92" font-style="italic">S</text>
<text x="96" y="771" font-size="23.85" font-style="italic">α</text>
<text x="111" y="774.5" font-size="16.96" font-style="italic">i</text>
<text x="75" y="1081.9" font-size="33.92" font-style="italic">S</text>
<text x="96" y="1087.3" font-size="23.85" font-style="italic">β</text>
<text x="109.5" y="1090.5" font-size="16.96" font-style="italic">j</text>
<text x="15" y="41.6" font-size="32.5" font-weight="bold">A</text>
<text x="953.7" y="40.9" font-size="32.5" font-weight="bold">B</text>
<defs><clipPath id="clipA"><rect x="157.2" y="69.8" width="757.2" height="410.8"/></clipPath><filter id="blurA" filterUnits="userSpaceOnUse" x="100" y="20" width="900" height="520"><feGaussianBlur stdDeviation="18"/></filter><filter id="blurB" filterUnits="userSpaceOnUse" x="100" y="20" width="900" height="520"><feGaussianBlur stdDeviation="6"/></filter></defs>
<g clip-path="url(#clipA)"><rect x="100" y="20" width="900" height="520" fill="#e7e7e7"/><path d="M470 250 C508.33 250.33 620 252 700 252 C780 252 908.33 250.33 950 250" fill="none" stroke="#949494" stroke-width="70" stroke-linecap="round" stroke-linejoin="round" opacity="1" filter="url(#blurA)"/><path d="M500 200 C523.33 200.83 591.67 205 640 205 C688.33 205 765 200.83 790 200" fill="none" stroke="#b8b8b8" stroke-width="55" stroke-linecap="round" stroke-linejoin="round" opacity="1" filter="url(#blurA)"/><path d="M790 212 C818.33 210 931.67 202 960 200" fill="none" stroke="#a0a0a0" stroke-width="90" stroke-linecap="round" stroke-linejoin="round" opacity="1" filter="url(#blurA)"/><path d="M120 540 C125 530 142.17 496 150 480 C157.83 464 160.33 459 167 444 C173.67 429 182.5 407.83 190 390 C197.5 372.17 202 361 212 337 C222 313 238 274.5 250 246 C262 217.5 274.33 190.83 284 166 C293.67 141.17 301.17 118 308 97 C314.83 76 322.17 49.5 325 40" fill="none" stroke="#6e6e6e" stroke-width="58" stroke-linecap="round" stroke-linejoin="round" opacity="1" filter="url(#blurA)"/><path d="M100 238 C133.33 238 240.83 237.67 300 238 C359.17 238.33 429.17 239.67 455 240" fill="none" stroke="#6c6c6c" stroke-width="38" stroke-linecap="round" stroke-linejoin="round" opacity="1" filter="url(#blurA)"/><path d="M290 60 C298.33 62 321.67 67 340 72 C358.33 77 383.33 83.33 400 90 C416.67 96.67 433.33 108.33 440 112" fill="none" stroke="#6e6e6e" stroke-width="70" stroke-linecap="round" stroke-linejoin="round" opacity="1" filter="url(#blurA)"/><path d="M436 105 C436.67 109.17 437.67 120 440 130 C442.33 140 445 152.5 450 165 C455 177.5 462.5 192.5 470 205 C477.5 217.5 484.83 228.83 495 240 C505.17 251.17 519.33 262.83 531 272 C542.67 281.17 553.83 287.33 565 295 C576.17 302.67 588.5 310.17 598 318 C607.5 325.83 613.67 335 622 342 C630.33 349 640 358.33 648 360 C656 361.67 663 356.5 670 352 C677 347.5 684.67 340 690 333 C695.33 326 698.33 317.5 702 310 C705.67 302.5 708.33 295 712 288 C715.67 281 718.5 274.33 724 268 C729.5 261.67 736.5 256 745 250 C753.5 244 765.83 238.33 775 232 C784.17 225.67 787.5 218.17 800 212 C812.5 205.83 833.33 200.33 850 195 C866.67 189.67 883.33 185 900 180 C916.67 175 941.67 167.5 950 165" fill="none" stroke="#646464" stroke-width="48" stroke-linecap="round" stroke-linejoin="round" opacity="1" filter="url(#blurA)"/></g>
<g clip-path="url(#clipA)"><circle cx="158.7" cy="239.3" r="3.7"/><circle cx="166.97" cy="239.3" r="3.7"/><circle cx="175.24" cy="239.3" r="3.7"/><circle cx="183.51" cy="239.3" r="3.7"/><circle cx="191.78" cy="239.3" r="3.7"/><circle cx="200.05" cy="239.3" r="3.7"/><circle cx="208.32" cy="239.3" r="3.7"/><circle cx="216.59" cy="239.3" r="3.7"/><circle cx="241.4" cy="239.3" r="3.7"/><circle cx="249.67" cy="239.3" r="3.7"/><circle cx="257.94" cy="239.3" r="3.7"/><circle cx="266.21" cy="239.3" r="3.7"/><circle cx="274.48" cy="239.3" r="3.7"/><circle cx="233.13" cy="275.04" r="3.7"/><circle cx="200.05" cy="364.39" r="3.7"/><circle cx="183.51" cy="382.26" r="3.7"/><circle cx="191.78" cy="382.26" r="3.7"/><circle cx="166.97" cy="400.13" r="3.7"/><circle cx="175.24" cy="400.13" r="3.7"/><circle cx="158.7" cy="418" r="3.7"/><circle cx="315.83" cy="78.47" r="3.7"/><circle cx="324.1" cy="78.47" r="3.7"/><circle cx="332.37" cy="78.47" r="3.7"/><circle cx="340.64" cy="78.47" r="3.7"/><circle cx="348.91" cy="78.47" r="3.7"/><circle cx="357.18" cy="78.47" r="3.7"/><circle cx="365.45" cy="78.47" r="3.7"/><circle cx="307.56" cy="96.34" r="3.7"/><circle cx="373.72" cy="96.34" r="3.7"/><circle cx="381.99" cy="96.34" r="3.7"/><circle cx="390.26" cy="96.34" r="3.7"/><circle cx="398.53" cy="96.34" r="3.7"/><circle cx="406.8" cy="96.34" r="3.7"/><circle cx="415.07" cy="96.34" r="3.7"/><circle cx="423.34" cy="114.21" r="3.7"/><circle cx="787.22" cy="221.43" r="3.7"/><circle cx="795.49" cy="221.43" r="3.7"/><circle cx="803.76" cy="203.56" r="3.7"/><circle cx="812.03" cy="203.56" r="3.7"/><circle cx="820.3" cy="203.56" r="3.7"/><circle cx="828.57" cy="203.56" r="3.7"/><circle cx="853.38" cy="203.56" r="3.7"/><circle cx="861.65" cy="203.56" r="3.7"/><circle cx="869.92" cy="203.56" r="3.7"/><circle cx="836.84" cy="185.69" r="3.7"/><circle cx="845.11" cy="185.69" r="3.7"/><circle cx="878.19" cy="185.69" r="3.7"/><circle cx="886.46" cy="185.69" r="3.7"/><circle cx="894.73" cy="185.69" r="3.7"/><circle cx="903" cy="185.69" r="3.7"/><circle cx="911.27" cy="167.82" r="3.7"/><circle cx="903" cy="257.17" r="3.7"/><circle cx="911.27" cy="257.17" r="3.7"/><circle cx="282.75" cy="239.3" r="6" fill="#6495ed"/><circle cx="291.02" cy="239.3" r="6" fill="#6495ed"/><circle cx="299.29" cy="239.3" r="6" fill="#6495ed"/><circle cx="307.56" cy="239.3" r="6" fill="#6495ed"/><circle cx="315.83" cy="239.3" r="6" fill="#6495ed"/><circle cx="324.1" cy="239.3" r="6" fill="#6495ed"/><circle cx="332.37" cy="239.3" r="6" fill="#6495ed"/><circle cx="340.64" cy="239.3" r="6" fill="#6495ed"/><circle cx="348.91" cy="239.3" r="6" fill="#6495ed"/><circle cx="357.18" cy="239.3" r="6" fill="#6495ed"/><circle cx="365.45" cy="239.3" r="6" fill="#6495ed"/><circle cx="373.72" cy="239.3" r="6" fill="#6495ed"/><circle cx="381.99" cy="239.3" r="6" fill="#6495ed"/><circle cx="390.26" cy="239.3" r="6" fill="#6495ed"/><circle cx="398.53" cy="239.3" r="6" fill="#6495ed"/><circle cx="406.8" cy="239.3" r="6" fill="#6495ed"/><circle cx="415.07" cy="239.3" r="6" fill="#6495ed"/><circle cx="423.34" cy="239.3" r="6" fill="#6495ed"/><circle cx="431.61" cy="239.3" r="6" fill="#6495ed"/><circle cx="489.5" cy="239.3" r="6" fill="#6495ed"/><circle cx="497.77" cy="239.3" r="6" fill="#6495ed"/><circle cx="588.74" cy="239.3" r="6" fill="#6495ed"/><circle cx="597.01" cy="239.3" r="6" fill="#6495ed"/><circle cx="605.28" cy="239.3" r="6" fill="#6495ed"/><circle cx="613.55" cy="239.3" r="6" fill="#6495ed"/><circle cx="621.82" cy="239.3" r="6" fill="#6495ed"/><circle cx="630.09" cy="239.3" r="6" fill="#6495ed"/><circle cx="638.36" cy="239.3" r="6" fill="#6495ed"/><circle cx="646.63" cy="239.3" r="6" fill="#6495ed"/><circle cx="654.9" cy="239.3" r="6" fill="#6495ed"/><circle cx="663.17" cy="239.3" r="6" fill="#6495ed"/><circle cx="745.87" cy="239.3" r="6" fill="#6495ed"/><circle cx="754.14" cy="239.3" r="6" fill="#6495ed"/><circle cx="762.41" cy="239.3" r="6" fill="#6495ed"/><circle cx="770.68" cy="239.3" r="6" fill="#6495ed"/><circle cx="431.61" cy="132.08" r="6" fill="#6495ed"/><circle cx="439.88" cy="149.95" r="6" fill="#6495ed"/><circle cx="464.69" cy="203.56" r="6" fill="#6495ed"/><circle cx="472.96" cy="221.43" r="6" fill="#6495ed"/><circle cx="481.23" cy="221.43" r="6" fill="#6495ed"/><circle cx="778.95" cy="221.43" r="6" fill="#6495ed"/><circle cx="506.04" cy="257.17" r="6" fill="#6495ed"/><circle cx="514.31" cy="257.17" r="6" fill="#6495ed"/><circle cx="671.44" cy="257.17" r="6" fill="#6495ed"/><circle cx="721.06" cy="257.17" r="6" fill="#6495ed"/><circle cx="729.33" cy="257.17" r="6" fill="#6495ed"/><circle cx="737.6" cy="257.17" r="6" fill="#6495ed"/><circle cx="522.58" cy="275.04" r="6" fill="#6495ed"/><circle cx="712.79" cy="275.04" r="6" fill="#6495ed"/><circle cx="539.12" cy="292.91" r="6" fill="#6495ed"/><circle cx="547.39" cy="292.91" r="6" fill="#6495ed"/><circle cx="555.66" cy="292.91" r="6" fill="#6495ed"/><circle cx="704.52" cy="292.91" r="6" fill="#6495ed"/><circle cx="563.93" cy="310.78" r="6" fill="#6495ed"/><circle cx="572.2" cy="310.78" r="6" fill="#6495ed"/><circle cx="580.47" cy="310.78" r="6" fill="#6495ed"/><circle cx="588.74" cy="310.78" r="6" fill="#6495ed"/><circle cx="696.25" cy="310.78" r="6" fill="#6495ed"/><circle cx="597.01" cy="328.65" r="6" fill="#6495ed"/><circle cx="605.28" cy="328.65" r="6" fill="#6495ed"/><circle cx="613.55" cy="328.65" r="6" fill="#6495ed"/><circle cx="621.82" cy="328.65" r="6" fill="#6495ed"/><circle cx="679.71" cy="328.65" r="6" fill="#6495ed"/><circle cx="687.98" cy="328.65" r="6" fill="#6495ed"/><circle cx="630.09" cy="346.52" r="6" fill="#6495ed"/><circle cx="638.36" cy="346.52" r="6" fill="#6495ed"/><circle cx="646.63" cy="346.52" r="6" fill="#6495ed"/><circle cx="654.9" cy="346.52" r="6" fill="#6495ed"/><circle cx="663.17" cy="346.52" r="6" fill="#6495ed"/><circle cx="671.44" cy="346.52" r="6" fill="#6495ed"/></g>
<rect x="277.7" y="127.9" width="506.1" height="293.1" fill="none" stroke="#000" stroke-width="2.6"/>
<line x1="496.7" y1="239.1" x2="1298.4" y2="239.1" stroke="#c41e24" stroke-width="2.4"/>
<line x1="554.9" y1="292.8" x2="1129.9" y2="292.8" stroke="#c41e24" stroke-width="2.4"/>
<line x1="531" y1="274.9" x2="1020.8" y2="274.9" stroke="#191970" stroke-width="2.5" stroke-dasharray="11 5.1" stroke-dashoffset="14.8" stroke-linecap="round"/>
<circle cx="531" cy="275" r="8.3" fill="#191970"/>
<line x1="784" y1="127.9" x2="1324.5" y2="127.9" stroke="#000" stroke-width="1.8" stroke-dasharray="9 9.2"/>
<line x1="784" y1="421" x2="1324.5" y2="421" stroke="#000" stroke-width="1.8" stroke-dasharray="9 9.2"/>
<rect x="157.2" y="69.8" width="757.2" height="410.8" fill="none" stroke="#000" stroke-width="2"/>
<line x1="157.2" y1="480.6" x2="157.2" y2="489.1" stroke="#000" stroke-width="2"/>
<text x="139.07" y="525.9" font-size="31.07" textLength="36.27" lengthAdjust="spacingAndGlyphs">55</text>
<line x1="283.4" y1="480.6" x2="283.4" y2="489.1" stroke="#000" stroke-width="2"/>
<text x="265.27" y="525.9" font-size="31.07" textLength="36.27" lengthAdjust="spacingAndGlyphs">60</text>
<line x1="409.6" y1="480.6" x2="409.6" y2="489.1" stroke="#000" stroke-width="2"/>
<text x="391.47" y="525.9" font-size="31.07" textLength="36.27" lengthAdjust="spacingAndGlyphs">65</text>
<line x1="535.8" y1="480.6" x2="535.8" y2="489.1" stroke="#000" stroke-width="2"/>
<text x="517.67" y="525.9" font-size="31.07" textLength="36.27" lengthAdjust="spacingAndGlyphs">70</text>
<line x1="662" y1="480.6" x2="662" y2="489.1" stroke="#000" stroke-width="2"/>
<text x="643.87" y="525.9" font-size="31.07" textLength="36.27" lengthAdjust="spacingAndGlyphs">75</text>
<line x1="788.2" y1="480.6" x2="788.2" y2="489.1" stroke="#000" stroke-width="2"/>
<text x="770.07" y="525.9" font-size="31.07" textLength="36.27" lengthAdjust="spacingAndGlyphs">80</text>
<line x1="914.4" y1="480.6" x2="914.4" y2="489.1" stroke="#000" stroke-width="2"/>
<text x="896.27" y="525.9" font-size="31.07" textLength="36.27" lengthAdjust="spacingAndGlyphs">85</text>
<line x1="148.7" y1="146.1" x2="157.2" y2="146.1" stroke="#000" stroke-width="2"/>
<text x="80.1" y="157.3" font-size="31.07" textLength="54.4" lengthAdjust="spacingAndGlyphs">922</text>
<line x1="148.7" y1="263.5" x2="157.2" y2="263.5" stroke="#000" stroke-width="2"/>
<text x="80.1" y="274.7" font-size="31.07" textLength="54.4" lengthAdjust="spacingAndGlyphs">920</text>
<line x1="148.7" y1="380.6" x2="157.2" y2="380.6" stroke="#000" stroke-width="2"/>
<text x="80.1" y="391.8" font-size="31.07" textLength="54.4" lengthAdjust="spacingAndGlyphs">918</text>
<text x="465.59" y="571.9" font-size="38.16" textLength="139.63" lengthAdjust="spacingAndGlyphs">time [s]</text>
<text transform="translate(58.2,276.2) rotate(-90)" x="-133.04" y="0" font-size="38.16" textLength="266.07" lengthAdjust="spacingAndGlyphs">frequency [Hz]</text>
<text x="452.3" y="121.7" font-size="32.86">2</text>
<text x="481" y="121.7" font-size="32.86">×</text>
<text x="508.8" y="121.7" font-size="32.86">Δ</text>
<text x="531.5" y="121.7" font-size="33.92" font-style="italic">t</text>
<text x="542" y="125.2" font-size="21.94" font-style="italic" textLength="66.39" lengthAdjust="spacingAndGlyphs">thresh</text>
<text transform="translate(270.8,352) rotate(-90)" x="0" y="0" font-size="32.86">2</text>
<text transform="translate(270.8,325.5) rotate(-90)" x="0" y="0" font-size="32.86">×</text>
<text transform="translate(270.8,299.5) rotate(-90)" x="0" y="0" font-size="32.86">Δ</text>
<text transform="translate(270.8,276.5) rotate(-90)" x="0" y="0" font-size="32.86" font-style="italic">f</text>
<text transform="translate(275.8,264.5) rotate(-90)" x="0" y="0" font-size="21.94" font-style="italic" textLength="66.39" lengthAdjust="spacingAndGlyphs">thresh</text>
<path d="M1310 123 C1310 135.83 1310.13 183.4 1310 200 C1309.87 216.6 1309.9 216.95 1309.2 222.6 C1308.5 228.25 1308.62 231.08 1305.8 233.9 C1302.98 236.72 1300.2 237.62 1292.3 239.5 C1284.4 241.38 1271.58 243.58 1258.4 245.2 C1245.22 246.82 1232.02 247.78 1213.2 249.2 C1194.38 250.62 1168.08 252.03 1145.5 253.7 C1122.92 255.37 1094.63 257.5 1077.7 259.2 C1060.77 260.9 1051.42 262.47 1043.9 263.9 C1036.38 265.33 1036.32 266.02 1032.6 267.8 C1028.88 269.58 1021.6 272.35 1021.6 274.6 C1021.6 276.85 1027 279.25 1032.6 281.3 C1038.2 283.35 1039.02 285.02 1055.2 286.9 C1071.38 288.78 1107.12 290.97 1129.7 292.6 C1152.28 294.23 1169.25 295 1190.7 296.7 C1212.15 298.4 1240.35 300.47 1258.4 302.8 C1276.45 305.13 1290.73 307.88 1299 310.7 C1307.27 313.52 1306.17 314.82 1308 319.7 C1309.83 324.58 1309.67 322.12 1310 340 C1310.33 357.88 1310 412.5 1310 427" fill="none" stroke="#191970" stroke-width="6" stroke-linejoin="round"/>
<rect x="1307.2" y="73.7" width="5.6" height="5.6" fill="#191970"/>
<rect x="1307.2" y="89.7" width="5.6" height="5.6" fill="#191970"/>
<rect x="1307.2" y="105.7" width="5.6" height="5.6" fill="#191970"/>
<rect x="1307.2" y="438.2" width="5.6" height="5.6" fill="#191970"/>
<rect x="1307.2" y="454.2" width="5.6" height="5.6" fill="#191970"/>
<rect x="1307.2" y="470.2" width="5.6" height="5.6" fill="#191970"/>
<line x1="1298.4" y1="239" x2="1298.4" y2="480.6" stroke="#b22222" stroke-width="3.5"/>
<line x1="1129.9" y1="292.8" x2="1129.9" y2="480.6" stroke="#b22222" stroke-width="3.5"/>
<rect x="1020.8" y="69.8" width="303.7" height="410.8" fill="none" stroke="#000" stroke-width="2"/>
<line x1="1020.8" y1="480.6" x2="1020.8" y2="489.1" stroke="#000" stroke-width="2"/>
<text x="998.14" y="525.9" font-size="31.07" textLength="45.33" lengthAdjust="spacingAndGlyphs">0.0</text>
<line x1="1165.25" y1="480.6" x2="1165.25" y2="489.1" stroke="#000" stroke-width="2"/>
<text x="1142.59" y="525.9" font-size="31.07" textLength="45.33" lengthAdjust="spacingAndGlyphs">0.5</text>
<line x1="1309.7" y1="480.6" x2="1309.7" y2="489.1" stroke="#000" stroke-width="2"/>
<text x="1287.04" y="525.9" font-size="31.07" textLength="45.33" lengthAdjust="spacingAndGlyphs">1.0</text>
<line x1="1324.5" y1="450.4" x2="1333" y2="450.4" stroke="#000" stroke-width="2"/>
<text x="1345" y="461.6" font-size="31.07">3</text>
<line x1="1324.5" y1="391.8" x2="1333" y2="391.8" stroke="#000" stroke-width="2"/>
<text x="1345" y="403" font-size="31.07">2</text>
<line x1="1324.5" y1="333.2" x2="1333" y2="333.2" stroke="#000" stroke-width="2"/>
<text x="1345" y="344.4" font-size="31.07">1</text>
<line x1="1324.5" y1="274.6" x2="1333" y2="274.6" stroke="#000" stroke-width="2"/>
<text x="1345" y="285.8" font-size="31.07">0</text>
<line x1="1324.5" y1="216" x2="1333" y2="216" stroke="#000" stroke-width="2"/>
<text x="1345" y="227.2" font-size="31.07">1</text>
<line x1="1324.5" y1="157.4" x2="1333" y2="157.4" stroke="#000" stroke-width="2"/>
<text x="1345" y="168.6" font-size="31.07">2</text>
<line x1="1324.5" y1="98.8" x2="1333" y2="98.8" stroke="#000" stroke-width="2"/>
<text x="1345" y="110" font-size="31.07">3</text>
<text x="1156" y="572" font-size="38.16" font-style="italic">ε</text>
<text x="1174.5" y="576" font-size="26.71" font-style="italic">f</text>
<text transform="translate(1404.4,336.5) rotate(-90)" x="0" y="0" font-size="38.16">Δ</text>
<text transform="translate(1404.4,311.87) rotate(-90)" x="0" y="0" font-size="38.16" font-style="italic">f</text>
<text transform="translate(1404.4,287.76) rotate(-90)" x="0" y="0" font-size="38.16" textLength="74.06" lengthAdjust="spacingAndGlyphs">[Hz]</text>
<text x="13.1" y="1244.9" font-size="32.5" font-weight="bold">D</text>
<path d="M157.2 1507 C158.25 1506.98 150 1507.82 163.5 1506.9 C177 1505.98 222.05 1502.55 238.2 1501.5 C254.35 1500.45 248.23 1501.28 260.4 1500.6 C272.57 1499.92 287.93 1498.47 311.2 1497.4 C334.47 1496.33 379.55 1494.95 400 1494.2 C420.45 1493.45 421.9 1493.33 433.9 1492.9 C445.9 1492.47 456.48 1492.45 472 1491.6 C487.52 1490.75 510.77 1490.07 527 1487.8 C543.23 1485.53 555.28 1481.73 569.4 1478 C583.52 1474.27 597.6 1469.62 611.7 1465.4 C625.8 1461.18 639.88 1457.08 654 1452.7 C668.12 1448.32 684.25 1442.78 696.4 1439.1 C708.55 1435.42 712.8 1434.7 726.9 1430.6 C741 1426.5 764.92 1419.08 781 1414.5 C797.08 1409.92 809.27 1407.12 823.4 1403.1 C837.53 1399.08 851.68 1395.2 865.8 1390.4 C879.92 1385.6 892.72 1380.23 908.1 1374.3 C923.48 1368.37 941.22 1361.22 958.1 1354.8 C974.98 1348.38 994.77 1341.7 1009.4 1335.8 C1024.03 1329.9 1033.73 1325.18 1045.9 1319.4 C1058.07 1313.62 1070.85 1305.97 1082.4 1301.1 C1093.95 1296.23 1104.87 1292.8 1115.2 1290.2 C1125.53 1287.6 1131.62 1286.83 1144.4 1285.5 C1157.18 1284.17 1171.83 1283.23 1191.9 1282.2 C1211.97 1281.17 1242.62 1279.87 1264.8 1279.3 C1286.98 1278.73 1314.97 1278.88 1325 1278.8" fill="none" stroke="#191970" stroke-width="4"/>
<rect x="157.2" y="1279.3" width="1166.7" height="227.5" fill="none" stroke="#000" stroke-width="2"/>
<circle cx="163.5" cy="1507" r="10.3" fill="#228b22"/>
<circle cx="726.9" cy="1430.6" r="10.3" fill="#ffd700"/>
<circle cx="958.3" cy="1355" r="10.3" fill="#ff8c00"/>
<circle cx="1300.6" cy="1279.5" r="10.3" fill="#b22222"/>
<line x1="157.2" y1="1506.8" x2="157.2" y2="1515.3" stroke="#000" stroke-width="2"/>
<text x="134.54" y="1552" font-size="31.07" textLength="45.33" lengthAdjust="spacingAndGlyphs">0.0</text>
<line x1="295.8" y1="1506.8" x2="295.8" y2="1515.3" stroke="#000" stroke-width="2"/>
<text x="273.14" y="1552" font-size="31.07" textLength="45.33" lengthAdjust="spacingAndGlyphs">0.5</text>
<line x1="434.4" y1="1506.8" x2="434.4" y2="1515.3" stroke="#000" stroke-width="2"/>
<text x="411.74" y="1552" font-size="31.07" textLength="45.33" lengthAdjust="spacingAndGlyphs">1.0</text>
<line x1="573" y1="1506.8" x2="573" y2="1515.3" stroke="#000" stroke-width="2"/>
<text x="550.34" y="1552" font-size="31.07" textLength="45.33" lengthAdjust="spacingAndGlyphs">1.5</text>
<line x1="711.6" y1="1506.8" x2="711.6" y2="1515.3" stroke="#000" stroke-width="2"/>
<text x="688.94" y="1552" font-size="31.07" textLength="45.33" lengthAdjust="spacingAndGlyphs">2.0</text>
<line x1="850.2" y1="1506.8" x2="850.2" y2="1515.3" stroke="#000" stroke-width="2"/>
<text x="827.54" y="1552" font-size="31.07" textLength="45.33" lengthAdjust="spacingAndGlyphs">2.5</text>
<line x1="988.8" y1="1506.8" x2="988.8" y2="1515.3" stroke="#000" stroke-width="2"/>
<text x="966.14" y="1552" font-size="31.07" textLength="45.33" lengthAdjust="spacingAndGlyphs">3.0</text>
<line x1="1127.4" y1="1506.8" x2="1127.4" y2="1515.3" stroke="#000" stroke-width="2"/>
<text x="1104.74" y="1552" font-size="31.07" textLength="45.33" lengthAdjust="spacingAndGlyphs">3.5</text>
<line x1="1266" y1="1506.8" x2="1266" y2="1515.3" stroke="#000" stroke-width="2"/>
<text x="1243.34" y="1552" font-size="31.07" textLength="45.33" lengthAdjust="spacingAndGlyphs">4.0</text>
<line x1="148.7" y1="1279.3" x2="157.2" y2="1279.3" stroke="#000" stroke-width="2"/>
<text x="116.37" y="1290.4" font-size="31.07">1</text>
<line x1="148.7" y1="1506.8" x2="157.2" y2="1506.8" stroke="#000" stroke-width="2"/>
<text x="116.37" y="1517.9" font-size="31.07">0</text>
<text x="717" y="1598.3" font-size="38.16">Δ</text>
<text x="739.5" y="1598.3" font-size="38.16" font-style="italic">S</text>
<text transform="translate(95.7,1410.5) rotate(-90)" x="0" y="0" font-size="38.16" font-style="italic">ε</text>
<text transform="translate(102,1392) rotate(-90)" x="0" y="0" font-size="26.71" font-style="italic">S</text>
</svg></div></body></html>
